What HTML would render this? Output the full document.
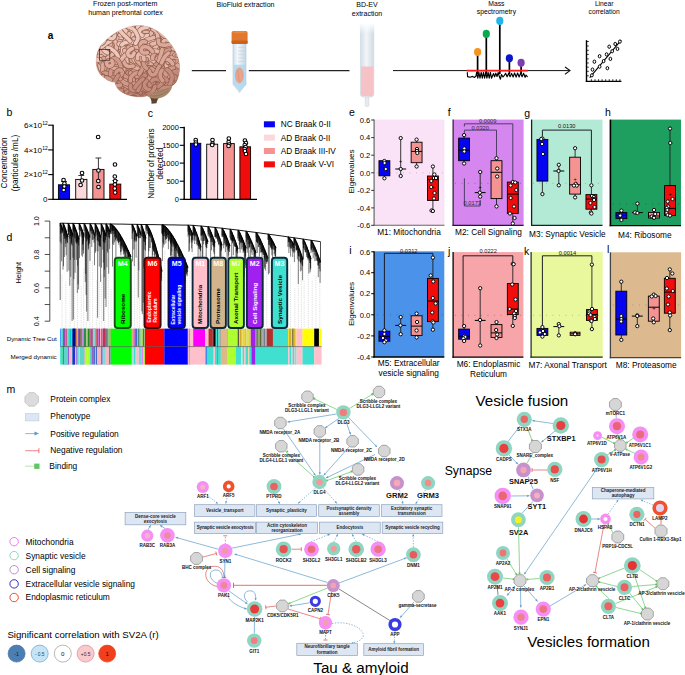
<!DOCTYPE html>
<html><head><meta charset="utf-8"><title>Figure</title>
<style>
html,body{margin:0;padding:0;background:#fff;}
body{width:685px;height:675px;overflow:hidden;font-family:'Liberation Sans', sans-serif;}
svg{display:block;font-family:'Liberation Sans',sans-serif;}
</style></head><body>
<svg width="685" height="675" viewBox="0 0 685 675">
<rect x="0" y="0" width="685" height="675" fill="#ffffff"/>
<text x="125.20" y="5.64" font-size="7.15" text-anchor="middle" font-weight="normal" fill="#000" >Frozen post-mortem</text>
<text x="125.50" y="15.40" font-size="7.05" text-anchor="middle" font-weight="normal" fill="#000" >human prefrontal cortex</text>
<text x="245.50" y="7.10" font-size="7.05" text-anchor="middle" font-weight="normal" fill="#000" >BioFluid extraction</text>
<text x="367.00" y="6.60" font-size="7.05" text-anchor="middle" font-weight="normal" fill="#000" >BD-EV</text>
<text x="367.00" y="15.60" font-size="7.05" text-anchor="middle" font-weight="normal" fill="#000" >extraction</text>
<text x="496.40" y="5.81" font-size="6.8" text-anchor="middle" font-weight="normal" fill="#000" >Mass</text>
<text x="496.40" y="14.01" font-size="6.8" text-anchor="middle" font-weight="normal" fill="#000" >spectrometry</text>
<text x="604.20" y="6.28" font-size="6.7" text-anchor="middle" font-weight="normal" fill="#000" >Linear</text>
<text x="604.20" y="14.48" font-size="6.7" text-anchor="middle" font-weight="normal" fill="#000" >correlation</text>
<text x="50.50" y="39.05" font-size="10" text-anchor="middle" font-weight="bold" fill="#000" >a</text>
<defs>
<radialGradient id="brg" cx="0.45" cy="0.35" r="0.75"><stop offset="0" stop-color="#e6bcad"/><stop offset="0.6" stop-color="#d5a393"/><stop offset="1" stop-color="#b57f6d"/></radialGradient>
<linearGradient id="tubeg" x1="0" x2="1"><stop offset="0" stop-color="#cfdde8"/><stop offset="0.35" stop-color="#f4f8fb"/><stop offset="1" stop-color="#c4d4e2"/></linearGradient>
<linearGradient id="colg" x1="0" x2="1"><stop offset="0" stop-color="#dcdcdc"/><stop offset="0.4" stop-color="#f7f7f7"/><stop offset="1" stop-color="#d2d2d2"/></linearGradient>
</defs>
<path d="M147,93 C150,97 152,100 151.5,103.8 L156.5,103.2 C157,100 159,97 162,94.5 Z" fill="#5e4430" stroke="none" stroke-width="1" />
<path d="M143.5,91 C146,98.5 156,101 165,96 C171,92 173.5,86.5 172,81 Z" fill="#a98669" stroke="none" stroke-width="1" />
<path d="M146,94 C152,97.5 160,96.5 168,91" fill="none" stroke="#8a6a50" stroke-width="0.6" />
<path d="M145,91.5 C152,94.5 161,93 170,87" fill="none" stroke="#8a6a50" stroke-width="0.5" />
<clipPath id="bclip"><path d="M96.2,62.6 C96.2,57 97,53 98.3,50 C100,46 102.5,43 106,40.2 C110,36.5 114.5,33 120,30.4 C126,27.5 132,25.6 138.3,25.5 C144.5,25.5 150,27 155,29.7 C160,32.3 164.3,36 167.7,40.2 C171.3,44.5 174,48.5 176,52.8 C178,57.3 179.5,62 179.6,66.8 C179.7,72.5 178.5,78 176,82.3 C173.5,86 168,88.5 160,89 C155,94 147,97 138,96.8 C130,96.6 122.5,93.5 118.6,89.6 C116.5,87.3 115.4,85 115.1,82.3 C111,82 107.5,80.5 104.6,78 C101.5,76 99.5,73.8 98.3,71 C97,68.3 96.3,65.5 96.2,62.6 Z"/></clipPath>
<filter id="bblur" x="-5%" y="-5%" width="110%" height="110%"><feGaussianBlur stdDeviation="0.35"/></filter>
<path d="M96.2,62.6 C96.2,57 97,53 98.3,50 C100,46 102.5,43 106,40.2 C110,36.5 114.5,33 120,30.4 C126,27.5 132,25.6 138.3,25.5 C144.5,25.5 150,27 155,29.7 C160,32.3 164.3,36 167.7,40.2 C171.3,44.5 174,48.5 176,52.8 C178,57.3 179.5,62 179.6,66.8 C179.7,72.5 178.5,78 176,82.3 C173.5,86 168,88.5 160,89 C155,94 147,97 138,96.8 C130,96.6 122.5,93.5 118.6,89.6 C116.5,87.3 115.4,85 115.1,82.3 C111,82 107.5,80.5 104.6,78 C101.5,76 99.5,73.8 98.3,71 C97,68.3 96.3,65.5 96.2,62.6 Z" fill="url(#brg)" stroke="#cfa090" stroke-width="0.5" />
<g clip-path="url(#bclip)">
<ellipse cx="140" cy="104" rx="48" ry="17" fill="#a8705f" opacity="0.32"/>
<ellipse cx="176" cy="70" rx="8" ry="24" fill="#a8705f" opacity="0.22"/>
<ellipse cx="128" cy="38" rx="30" ry="9" fill="#f4d8ce" opacity="0.5"/>
<style>.wa{stroke:#935c4d;stroke-width:4.9}.w0{stroke:#ecc9bd;stroke-width:3.6}.w1{stroke:#e4b9ab;stroke-width:3.6}.w2{stroke:#dba999;stroke-width:3.6}.w3{stroke:#cf9a89;stroke-width:3.6}.w4{stroke:#c48c7b;stroke-width:3.6}</style>
<g filter="url(#bblur)" fill="none" stroke-linecap="round" stroke-linejoin="round">
<path class="wa" d="M109.2,76.0Q108.3,73.2 108.4,71.7Q108.6,70.2 109.8,69.3Q111.0,68.4 112.5,68.2Q113.9,68.0 115.3,68.6L116.7,69.2"/><path class="w3" d="M109.2,76.0Q108.3,73.2 108.4,71.7Q108.6,70.2 109.8,69.3Q111.0,68.4 112.5,68.2Q113.9,68.0 115.3,68.6L116.7,69.2"/>
<path class="wa" d="M96.2,94.0Q93.4,95.2 92.0,95.4Q90.5,95.6 89.0,95.6Q87.5,95.6 86.3,94.7Q85.1,93.8 85.0,92.3L84.9,90.8"/><path class="w3" d="M96.2,94.0Q93.4,95.2 92.0,95.4Q90.5,95.6 89.0,95.6Q87.5,95.6 86.3,94.7Q85.1,93.8 85.0,92.3L84.9,90.8"/>
<path class="wa" d="M133.0,95.8Q131.0,93.6 130.6,92.1Q130.2,90.7 130.0,89.2Q129.8,87.7 130.3,86.3Q130.7,84.9 131.3,83.5Q131.9,82.1 133.1,81.2Q134.3,80.3 135.8,79.9Q137.2,79.6 138.7,80.0Q140.1,80.4 141.3,81.2L142.6,82.1"/><path class="w4" d="M133.0,95.8Q131.0,93.6 130.6,92.1Q130.2,90.7 130.0,89.2Q129.8,87.7 130.3,86.3Q130.7,84.9 131.3,83.5Q131.9,82.1 133.1,81.2Q134.3,80.3 135.8,79.9Q137.2,79.6 138.7,80.0Q140.1,80.4 141.3,81.2L142.6,82.1"/>
<path class="wa" d="M111.1,27.7Q111.7,24.8 112.0,23.3Q112.2,21.9 112.8,20.5Q113.4,19.1 114.6,18.2Q115.8,17.3 117.3,17.5L118.8,17.6"/><path class="w0" d="M111.1,27.7Q111.7,24.8 112.0,23.3Q112.2,21.9 112.8,20.5Q113.4,19.1 114.6,18.2Q115.8,17.3 117.3,17.5L118.8,17.6"/>
<path class="wa" d="M157.8,34.1Q154.8,34.1 153.3,34.3Q151.8,34.5 150.4,35.0Q148.9,35.4 147.7,36.3Q146.5,37.2 145.2,37.9L143.9,38.7"/><path class="w0" d="M157.8,34.1Q154.8,34.1 153.3,34.3Q151.8,34.5 150.4,35.0Q148.9,35.4 147.7,36.3Q146.5,37.2 145.2,37.9L143.9,38.7"/>
<path class="wa" d="M122.3,60.8Q120.7,63.3 119.2,63.4Q117.7,63.4 116.7,62.3Q115.8,61.1 116.2,59.6Q116.6,58.2 118.0,57.7L119.4,57.1"/><path class="w2" d="M122.3,60.8Q120.7,63.3 119.2,63.4Q117.7,63.4 116.7,62.3Q115.8,61.1 116.2,59.6Q116.6,58.2 118.0,57.7L119.4,57.1"/>
<path class="wa" d="M114.1,70.1Q111.6,68.3 110.8,67.1Q110.0,65.8 110.2,64.3Q110.3,62.8 111.2,61.6Q112.1,60.4 113.6,60.1L115.0,59.9"/><path class="w3" d="M114.1,70.1Q111.6,68.3 110.8,67.1Q110.0,65.8 110.2,64.3Q110.3,62.8 111.2,61.6Q112.1,60.4 113.6,60.1L115.0,59.9"/>
<path class="wa" d="M116.1,37.5Q118.0,35.2 118.7,33.8Q119.3,32.4 119.8,31.0Q120.4,29.6 121.2,28.4Q122.1,27.2 123.6,26.8Q125.0,26.5 126.4,27.0Q127.9,27.5 128.2,29.0L128.6,30.4"/><path class="w1" d="M116.1,37.5Q118.0,35.2 118.7,33.8Q119.3,32.4 119.8,31.0Q120.4,29.6 121.2,28.4Q122.1,27.2 123.6,26.8Q125.0,26.5 126.4,27.0Q127.9,27.5 128.2,29.0L128.6,30.4"/>
<path class="wa" d="M145.8,90.4Q142.9,89.7 141.4,89.3Q140.0,88.9 138.6,88.3Q137.2,87.8 135.8,87.1Q134.5,86.5 133.1,85.9L131.7,85.3"/><path class="w4" d="M145.8,90.4Q142.9,89.7 141.4,89.3Q140.0,88.9 138.6,88.3Q137.2,87.8 135.8,87.1Q134.5,86.5 133.1,85.9L131.7,85.3"/>
<path class="wa" d="M99.9,46.3Q101.9,44.1 102.6,42.7Q103.3,41.4 103.2,39.9Q103.0,38.4 101.8,37.5L100.7,36.5"/><path class="w1" d="M99.9,46.3Q101.9,44.1 102.6,42.7Q103.3,41.4 103.2,39.9Q103.0,38.4 101.8,37.5L100.7,36.5"/>
<path class="wa" d="M179.6,80.2Q176.7,81.2 175.3,81.7Q173.9,82.1 172.8,83.1Q171.7,84.2 171.5,85.6Q171.3,87.1 171.6,88.6Q171.9,90.1 172.4,91.5Q172.9,92.9 173.0,94.4Q173.2,95.9 172.9,97.3Q172.5,98.8 171.8,100.1L171.1,101.4"/><path class="w4" d="M179.6,80.2Q176.7,81.2 175.3,81.7Q173.9,82.1 172.8,83.1Q171.7,84.2 171.5,85.6Q171.3,87.1 171.6,88.6Q171.9,90.1 172.4,91.5Q172.9,92.9 173.0,94.4Q173.2,95.9 172.9,97.3Q172.5,98.8 171.8,100.1L171.1,101.4"/>
<path class="wa" d="M168.0,47.8Q165.3,49.0 164.4,50.2Q163.5,51.4 162.6,52.6Q161.8,53.9 161.6,55.4Q161.4,56.8 161.9,58.3Q162.3,59.7 163.2,61.0Q164.0,62.2 164.8,63.5Q165.6,64.8 166.2,66.1Q166.9,67.5 167.7,68.7L168.4,70.0"/><path class="w1" d="M168.0,47.8Q165.3,49.0 164.4,50.2Q163.5,51.4 162.6,52.6Q161.8,53.9 161.6,55.4Q161.4,56.8 161.9,58.3Q162.3,59.7 163.2,61.0Q164.0,62.2 164.8,63.5Q165.6,64.8 166.2,66.1Q166.9,67.5 167.7,68.7L168.4,70.0"/>
<path class="wa" d="M177.4,92.0Q180.4,92.6 181.8,92.1Q183.2,91.6 184.5,90.8Q185.7,90.0 186.2,88.5L186.7,87.1"/><path class="w4" d="M177.4,92.0Q180.4,92.6 181.8,92.1Q183.2,91.6 184.5,90.8Q185.7,90.0 186.2,88.5L186.7,87.1"/>
<path class="wa" d="M119.2,47.5Q122.0,46.5 123.2,45.6Q124.5,44.7 125.7,43.9Q127.0,43.1 128.0,42.1Q129.1,41.0 130.2,39.9L131.2,38.9"/><path class="w1" d="M119.2,47.5Q122.0,46.5 123.2,45.6Q124.5,44.7 125.7,43.9Q127.0,43.1 128.0,42.1Q129.1,41.0 130.2,39.9L131.2,38.9"/>
<path class="wa" d="M146.9,62.4Q145.4,59.8 144.5,58.6Q143.5,57.5 142.3,56.6Q141.0,55.8 139.6,55.2L138.3,54.6"/><path class="w3" d="M146.9,62.4Q145.4,59.8 144.5,58.6Q143.5,57.5 142.3,56.6Q141.0,55.8 139.6,55.2L138.3,54.6"/>
<path class="wa" d="M115.1,96.3Q112.9,94.2 111.8,93.2Q110.7,92.2 109.9,90.9Q109.2,89.6 108.6,88.2Q108.0,86.9 107.6,85.4L107.2,84.0"/><path class="w4" d="M115.1,96.3Q112.9,94.2 111.8,93.2Q110.7,92.2 109.9,90.9Q109.2,89.6 108.6,88.2Q108.0,86.9 107.6,85.4L107.2,84.0"/>
<path class="wa" d="M176.5,32.3Q173.9,30.9 172.5,30.4Q171.1,29.9 169.6,29.8Q168.1,29.8 166.6,30.1Q165.1,30.3 163.6,30.6Q162.2,30.8 160.8,31.5Q159.4,32.1 158.2,32.9Q156.9,33.7 156.0,34.9Q155.0,36.0 154.9,37.5L154.7,39.0"/><path class="w0" d="M176.5,32.3Q173.9,30.9 172.5,30.4Q171.1,29.9 169.6,29.8Q168.1,29.8 166.6,30.1Q165.1,30.3 163.6,30.6Q162.2,30.8 160.8,31.5Q159.4,32.1 158.2,32.9Q156.9,33.7 156.0,34.9Q155.0,36.0 154.9,37.5L154.7,39.0"/>
<path class="wa" d="M151.6,56.1Q154.3,54.9 155.8,55.3Q157.2,55.6 158.2,56.8Q159.2,57.9 159.2,59.4Q159.2,60.9 158.8,62.3Q158.4,63.8 157.5,64.9Q156.5,66.1 155.2,66.8Q153.9,67.6 152.4,67.8Q150.9,68.0 149.4,67.8L148.0,67.5"/><path class="w2" d="M151.6,56.1Q154.3,54.9 155.8,55.3Q157.2,55.6 158.2,56.8Q159.2,57.9 159.2,59.4Q159.2,60.9 158.8,62.3Q158.4,63.8 157.5,64.9Q156.5,66.1 155.2,66.8Q153.9,67.6 152.4,67.8Q150.9,68.0 149.4,67.8L148.0,67.5"/>
<path class="wa" d="M114.4,28.6Q111.9,30.2 110.8,31.3Q109.8,32.4 109.1,33.7Q108.4,35.0 107.7,36.4Q107.1,37.7 106.6,39.1Q106.1,40.6 106.1,42.1Q106.0,43.6 106.7,44.9Q107.4,46.2 108.2,47.5Q109.1,48.7 110.0,49.9L110.9,51.1"/><path class="w0" d="M114.4,28.6Q111.9,30.2 110.8,31.3Q109.8,32.4 109.1,33.7Q108.4,35.0 107.7,36.4Q107.1,37.7 106.6,39.1Q106.1,40.6 106.1,42.1Q106.0,43.6 106.7,44.9Q107.4,46.2 108.2,47.5Q109.1,48.7 110.0,49.9L110.9,51.1"/>
<path class="wa" d="M109.9,52.6Q107.3,51.1 106.0,50.3Q104.8,49.4 103.8,48.3Q102.8,47.2 102.6,45.7Q102.3,44.2 103.2,43.0Q104.0,41.7 105.5,41.6Q107.0,41.5 108.2,42.3L109.5,43.2"/><path class="w1" d="M109.9,52.6Q107.3,51.1 106.0,50.3Q104.8,49.4 103.8,48.3Q102.8,47.2 102.6,45.7Q102.3,44.2 103.2,43.0Q104.0,41.7 105.5,41.6Q107.0,41.5 108.2,42.3L109.5,43.2"/>
<path class="wa" d="M128.2,70.5Q129.8,68.0 130.5,66.6Q131.1,65.3 131.9,64.0Q132.8,62.8 134.1,62.0L135.3,61.1"/><path class="w2" d="M128.2,70.5Q129.8,68.0 130.5,66.6Q131.1,65.3 131.9,64.0Q132.8,62.8 134.1,62.0L135.3,61.1"/>
<path class="wa" d="M110.1,63.7Q107.6,61.9 106.1,61.8Q104.6,61.6 103.1,61.6Q101.6,61.6 100.1,61.4Q98.7,61.2 97.2,61.3Q95.7,61.4 94.3,61.9Q92.9,62.5 91.6,63.2Q90.3,64.0 89.1,64.9Q87.8,65.7 86.8,66.8L85.8,67.9"/><path class="w2" d="M110.1,63.7Q107.6,61.9 106.1,61.8Q104.6,61.6 103.1,61.6Q101.6,61.6 100.1,61.4Q98.7,61.2 97.2,61.3Q95.7,61.4 94.3,61.9Q92.9,62.5 91.6,63.2Q90.3,64.0 89.1,64.9Q87.8,65.7 86.8,66.8L85.8,67.9"/>
<path class="wa" d="M122.7,43.8Q123.6,40.9 123.2,39.5Q122.8,38.0 122.0,36.8Q121.1,35.6 120.0,34.5Q119.0,33.5 117.5,33.1Q116.1,32.6 114.6,33.1Q113.2,33.5 112.3,34.7Q111.5,36.0 111.6,37.5Q111.8,39.0 112.7,40.1L113.6,41.3"/><path class="w1" d="M122.7,43.8Q123.6,40.9 123.2,39.5Q122.8,38.0 122.0,36.8Q121.1,35.6 120.0,34.5Q119.0,33.5 117.5,33.1Q116.1,32.6 114.6,33.1Q113.2,33.5 112.3,34.7Q111.5,36.0 111.6,37.5Q111.8,39.0 112.7,40.1L113.6,41.3"/>
<path class="wa" d="M152.4,71.0Q154.8,72.8 155.8,74.0Q156.7,75.2 156.6,76.7Q156.6,78.2 155.4,79.1Q154.3,80.0 152.8,80.4L151.3,80.8"/><path class="w3" d="M152.4,71.0Q154.8,72.8 155.8,74.0Q156.7,75.2 156.6,76.7Q156.6,78.2 155.4,79.1Q154.3,80.0 152.8,80.4L151.3,80.8"/>
<path class="wa" d="M98.4,70.0Q97.9,67.0 97.5,65.6Q97.0,64.1 97.0,62.7Q97.0,61.2 96.9,59.7L96.9,58.2"/><path class="w2" d="M98.4,70.0Q97.9,67.0 97.5,65.6Q97.0,64.1 97.0,62.7Q97.0,61.2 96.9,59.7L96.9,58.2"/>
<path class="wa" d="M95.3,37.3Q93.3,35.1 92.3,34.0Q91.2,32.8 90.0,32.1Q88.7,31.3 87.2,31.0Q85.7,30.8 84.2,31.0Q82.8,31.3 81.7,32.3Q80.5,33.3 79.8,34.6L79.0,35.9"/><path class="w0" d="M95.3,37.3Q93.3,35.1 92.3,34.0Q91.2,32.8 90.0,32.1Q88.7,31.3 87.2,31.0Q85.7,30.8 84.2,31.0Q82.8,31.3 81.7,32.3Q80.5,33.3 79.8,34.6L79.0,35.9"/>
<path class="wa" d="M174.6,90.4Q177.5,90.8 178.9,91.4Q180.3,92.0 180.8,93.4Q181.3,94.8 180.6,96.1L179.8,97.4"/><path class="w4" d="M174.6,90.4Q177.5,90.8 178.9,91.4Q180.3,92.0 180.8,93.4Q181.3,94.8 180.6,96.1L179.8,97.4"/>
<path class="wa" d="M137.8,64.0Q135.1,62.6 133.9,61.7Q132.6,60.9 131.3,60.1Q130.0,59.4 128.6,59.0Q127.2,58.5 125.7,58.7Q124.2,58.9 122.8,59.5Q121.4,60.1 120.0,60.6Q118.6,61.1 117.4,62.0Q116.2,63.0 116.0,64.4L115.7,65.9"/><path class="w2" d="M137.8,64.0Q135.1,62.6 133.9,61.7Q132.6,60.9 131.3,60.1Q130.0,59.4 128.6,59.0Q127.2,58.5 125.7,58.7Q124.2,58.9 122.8,59.5Q121.4,60.1 120.0,60.6Q118.6,61.1 117.4,62.0Q116.2,63.0 116.0,64.4L115.7,65.9"/>
<path class="wa" d="M153.3,39.0Q153.9,42.0 154.9,43.1Q155.9,44.2 157.1,45.1Q158.4,45.9 159.8,46.3L161.3,46.6"/><path class="w0" d="M153.3,39.0Q153.9,42.0 154.9,43.1Q155.9,44.2 157.1,45.1Q158.4,45.9 159.8,46.3L161.3,46.6"/>
<path class="wa" d="M115.0,51.5Q115.2,54.5 115.4,56.0Q115.5,57.5 116.3,58.8Q117.0,60.1 118.0,61.3Q118.9,62.5 120.2,63.2L121.5,64.0"/><path class="w0" d="M115.0,51.5Q115.2,54.5 115.4,56.0Q115.5,57.5 116.3,58.8Q117.0,60.1 118.0,61.3Q118.9,62.5 120.2,63.2L121.5,64.0"/>
<path class="wa" d="M125.3,64.4Q122.5,63.3 121.0,63.3Q119.5,63.4 118.0,63.6Q116.6,63.8 115.1,64.2Q113.7,64.7 112.7,65.8Q111.8,67.0 111.9,68.5Q112.1,70.0 113.4,70.7Q114.7,71.5 116.1,71.1Q117.6,70.7 118.5,69.5L119.4,68.3"/><path class="w2" d="M125.3,64.4Q122.5,63.3 121.0,63.3Q119.5,63.4 118.0,63.6Q116.6,63.8 115.1,64.2Q113.7,64.7 112.7,65.8Q111.8,67.0 111.9,68.5Q112.1,70.0 113.4,70.7Q114.7,71.5 116.1,71.1Q117.6,70.7 118.5,69.5L119.4,68.3"/>
<path class="wa" d="M146.9,33.3Q145.4,35.9 144.3,36.8Q143.1,37.7 141.9,38.7Q140.8,39.7 139.8,40.8Q138.9,42.0 138.0,43.2Q137.2,44.4 136.3,45.6Q135.4,46.9 134.2,47.8L133.0,48.7"/><path class="w0" d="M146.9,33.3Q145.4,35.9 144.3,36.8Q143.1,37.7 141.9,38.7Q140.8,39.7 139.8,40.8Q138.9,42.0 138.0,43.2Q137.2,44.4 136.3,45.6Q135.4,46.9 134.2,47.8L133.0,48.7"/>
<path class="wa" d="M108.9,93.9Q106.0,92.9 104.7,92.3Q103.3,91.7 101.9,91.1Q100.5,90.6 99.0,90.3Q97.6,89.9 96.2,89.4L94.8,89.0"/><path class="w4" d="M108.9,93.9Q106.0,92.9 104.7,92.3Q103.3,91.7 101.9,91.1Q100.5,90.6 99.0,90.3Q97.6,89.9 96.2,89.4L94.8,89.0"/>
<path class="wa" d="M173.3,42.8Q171.1,40.7 170.1,39.6Q169.0,38.5 167.7,37.8Q166.4,37.1 164.9,37.4Q163.5,37.8 162.7,39.1Q162.0,40.4 162.2,41.8Q162.5,43.3 163.9,43.9Q165.3,44.5 166.7,44.0Q168.1,43.4 168.4,42.0L168.8,40.5"/><path class="w1" d="M173.3,42.8Q171.1,40.7 170.1,39.6Q169.0,38.5 167.7,37.8Q166.4,37.1 164.9,37.4Q163.5,37.8 162.7,39.1Q162.0,40.4 162.2,41.8Q162.5,43.3 163.9,43.9Q165.3,44.5 166.7,44.0Q168.1,43.4 168.4,42.0L168.8,40.5"/>
<path class="wa" d="M174.8,63.7Q176.5,61.3 177.2,59.9Q177.9,58.6 178.5,57.2Q179.1,55.9 179.7,54.5L180.2,53.0"/><path class="w3" d="M174.8,63.7Q176.5,61.3 177.2,59.9Q177.9,58.6 178.5,57.2Q179.1,55.9 179.7,54.5L180.2,53.0"/>
<path class="wa" d="M111.4,40.7Q111.8,43.7 111.9,45.2Q111.9,46.7 111.9,48.2Q111.8,49.7 111.6,51.2Q111.4,52.6 111.7,54.1L112.1,55.6"/><path class="w1" d="M111.4,40.7Q111.8,43.7 111.9,45.2Q111.9,46.7 111.9,48.2Q111.8,49.7 111.6,51.2Q111.4,52.6 111.7,54.1L112.1,55.6"/>
<path class="wa" d="M145.4,84.4Q145.5,81.4 145.5,79.9Q145.5,78.4 144.9,77.0Q144.3,75.7 143.3,74.6Q142.3,73.4 141.0,72.6L139.8,71.7"/><path class="w4" d="M145.4,84.4Q145.5,81.4 145.5,79.9Q145.5,78.4 144.9,77.0Q144.3,75.7 143.3,74.6Q142.3,73.4 141.0,72.6L139.8,71.7"/>
<path class="wa" d="M180.8,39.6Q180.1,42.5 179.9,44.0Q179.6,45.5 179.0,46.8Q178.3,48.1 177.6,49.5Q176.9,50.8 176.5,52.2Q176.0,53.7 176.0,55.2Q176.0,56.7 176.4,58.1L176.7,59.6"/><path class="w1" d="M180.8,39.6Q180.1,42.5 179.9,44.0Q179.6,45.5 179.0,46.8Q178.3,48.1 177.6,49.5Q176.9,50.8 176.5,52.2Q176.0,53.7 176.0,55.2Q176.0,56.7 176.4,58.1L176.7,59.6"/>
<path class="wa" d="M156.8,30.2Q158.3,32.8 159.5,33.8Q160.6,34.7 161.8,35.6Q163.0,36.5 163.9,37.8Q164.7,39.0 165.5,40.3Q166.3,41.6 166.6,43.0Q166.9,44.5 166.2,45.8Q165.4,47.1 164.3,48.1Q163.1,49.1 161.9,49.8L160.6,50.6"/><path class="w0" d="M156.8,30.2Q158.3,32.8 159.5,33.8Q160.6,34.7 161.8,35.6Q163.0,36.5 163.9,37.8Q164.7,39.0 165.5,40.3Q166.3,41.6 166.6,43.0Q166.9,44.5 166.2,45.8Q165.4,47.1 164.3,48.1Q163.1,49.1 161.9,49.8L160.6,50.6"/>
<path class="wa" d="M107.6,86.5Q106.4,89.3 105.5,90.4Q104.5,91.6 103.6,92.8Q102.6,93.9 101.5,94.9Q100.3,95.8 98.9,96.5Q97.6,97.1 96.4,98.0L95.2,98.9"/><path class="w4" d="M107.6,86.5Q106.4,89.3 105.5,90.4Q104.5,91.6 103.6,92.8Q102.6,93.9 101.5,94.9Q100.3,95.8 98.9,96.5Q97.6,97.1 96.4,98.0L95.2,98.9"/>
<path class="wa" d="M174.2,63.7Q177.2,63.6 178.7,63.7Q180.2,63.7 181.7,63.8Q183.2,63.9 184.7,63.5Q186.1,63.2 187.6,62.8Q189.0,62.4 190.5,62.3L192.0,62.1"/><path class="w2" d="M174.2,63.7Q177.2,63.6 178.7,63.7Q180.2,63.7 181.7,63.8Q183.2,63.9 184.7,63.5Q186.1,63.2 187.6,62.8Q189.0,62.4 190.5,62.3L192.0,62.1"/>
<path class="wa" d="M157.3,69.0Q154.6,70.4 153.3,71.0Q152.0,71.7 150.5,72.2Q149.1,72.6 147.7,73.1Q146.3,73.6 144.9,74.2Q143.5,74.8 142.1,75.3Q140.7,75.8 139.2,76.0Q137.7,76.2 136.2,76.1L134.7,76.0"/><path class="w3" d="M157.3,69.0Q154.6,70.4 153.3,71.0Q152.0,71.7 150.5,72.2Q149.1,72.6 147.7,73.1Q146.3,73.6 144.9,74.2Q143.5,74.8 142.1,75.3Q140.7,75.8 139.2,76.0Q137.7,76.2 136.2,76.1L134.7,76.0"/>
<path class="wa" d="M114.2,83.4Q116.8,85.0 117.2,86.4Q117.7,87.9 116.8,89.1Q115.9,90.3 114.4,90.3Q112.9,90.3 111.9,89.2Q110.9,88.1 110.5,86.6Q110.1,85.2 109.9,83.7L109.6,82.2"/><path class="w3" d="M114.2,83.4Q116.8,85.0 117.2,86.4Q117.7,87.9 116.8,89.1Q115.9,90.3 114.4,90.3Q112.9,90.3 111.9,89.2Q110.9,88.1 110.5,86.6Q110.1,85.2 109.9,83.7L109.6,82.2"/>
<path class="wa" d="M154.5,47.1Q157.1,45.5 158.1,44.4Q159.1,43.3 160.2,42.3Q161.3,41.3 162.2,40.1Q163.1,38.9 163.3,37.4L163.5,35.9"/><path class="w1" d="M154.5,47.1Q157.1,45.5 158.1,44.4Q159.1,43.3 160.2,42.3Q161.3,41.3 162.2,40.1Q163.1,38.9 163.3,37.4L163.5,35.9"/>
<path class="wa" d="M104.9,55.0Q103.6,52.3 102.1,52.1Q100.6,51.8 99.4,52.6Q98.1,53.4 97.9,54.9Q97.8,56.4 98.9,57.4Q100.0,58.4 101.5,58.2Q102.9,57.9 103.6,56.5Q104.2,55.2 103.8,53.7Q103.4,52.3 102.6,51.0L101.9,49.7"/><path class="w1" d="M104.9,55.0Q103.6,52.3 102.1,52.1Q100.6,51.8 99.4,52.6Q98.1,53.4 97.9,54.9Q97.8,56.4 98.9,57.4Q100.0,58.4 101.5,58.2Q102.9,57.9 103.6,56.5Q104.2,55.2 103.8,53.7Q103.4,52.3 102.6,51.0L101.9,49.7"/>
<path class="wa" d="M164.9,54.6Q167.9,54.3 169.3,54.7Q170.7,55.1 172.2,55.6Q173.6,56.0 175.1,56.4Q176.5,56.8 177.7,57.6Q179.0,58.5 179.5,59.8Q180.1,61.2 179.7,62.7Q179.3,64.1 178.5,65.3Q177.6,66.6 176.1,66.8L174.6,67.1"/><path class="w1" d="M164.9,54.6Q167.9,54.3 169.3,54.7Q170.7,55.1 172.2,55.6Q173.6,56.0 175.1,56.4Q176.5,56.8 177.7,57.6Q179.0,58.5 179.5,59.8Q180.1,61.2 179.7,62.7Q179.3,64.1 178.5,65.3Q177.6,66.6 176.1,66.8L174.6,67.1"/>
<path class="wa" d="M178.0,82.4Q176.9,79.6 176.0,78.4Q175.2,77.2 174.0,76.3Q172.8,75.4 171.3,75.1Q169.8,74.9 168.3,74.9L166.8,74.8"/><path class="w4" d="M178.0,82.4Q176.9,79.6 176.0,78.4Q175.2,77.2 174.0,76.3Q172.8,75.4 171.3,75.1Q169.8,74.9 168.3,74.9L166.8,74.8"/>
<path class="wa" d="M104.9,68.3Q102.2,67.0 101.0,66.1Q99.8,65.2 98.6,64.3Q97.4,63.4 96.0,62.9Q94.6,62.4 93.1,62.1L91.6,61.9"/><path class="w2" d="M104.9,68.3Q102.2,67.0 101.0,66.1Q99.8,65.2 98.6,64.3Q97.4,63.4 96.0,62.9Q94.6,62.4 93.1,62.1L91.6,61.9"/>
<path class="wa" d="M114.9,52.7Q115.8,49.8 116.3,48.4Q116.7,47.0 116.8,45.5Q116.9,44.0 117.1,42.5Q117.3,41.0 118.0,39.6Q118.6,38.3 119.1,36.9Q119.6,35.5 120.1,34.0Q120.6,32.6 121.2,31.3Q121.9,29.9 122.6,28.6L123.3,27.3"/><path class="w1" d="M114.9,52.7Q115.8,49.8 116.3,48.4Q116.7,47.0 116.8,45.5Q116.9,44.0 117.1,42.5Q117.3,41.0 118.0,39.6Q118.6,38.3 119.1,36.9Q119.6,35.5 120.1,34.0Q120.6,32.6 121.2,31.3Q121.9,29.9 122.6,28.6L123.3,27.3"/>
<path class="wa" d="M96.6,62.2Q98.0,64.9 98.7,66.2Q99.5,67.5 100.2,68.8Q100.8,70.1 101.7,71.4Q102.6,72.6 103.5,73.8L104.4,75.0"/><path class="w1" d="M96.6,62.2Q98.0,64.9 98.7,66.2Q99.5,67.5 100.2,68.8Q100.8,70.1 101.7,71.4Q102.6,72.6 103.5,73.8L104.4,75.0"/>
<path class="wa" d="M158.3,64.1Q155.9,65.9 154.8,66.9Q153.7,67.9 152.9,69.1Q152.0,70.4 152.0,71.9Q152.0,73.4 152.9,74.6Q153.9,75.8 155.1,76.6Q156.4,77.4 157.7,78.0Q159.1,78.6 160.6,78.6L162.1,78.6"/><path class="w3" d="M158.3,64.1Q155.9,65.9 154.8,66.9Q153.7,67.9 152.9,69.1Q152.0,70.4 152.0,71.9Q152.0,73.4 152.9,74.6Q153.9,75.8 155.1,76.6Q156.4,77.4 157.7,78.0Q159.1,78.6 160.6,78.6L162.1,78.6"/>
<path class="wa" d="M154.9,79.4Q157.5,80.9 158.8,81.6Q160.2,82.2 161.6,82.5Q163.1,82.9 164.5,83.5Q165.8,84.2 167.2,84.7Q168.6,85.2 170.1,85.5Q171.6,85.7 173.1,85.9Q174.6,86.1 176.1,85.8Q177.5,85.6 178.7,84.7L179.9,83.8"/><path class="w4" d="M154.9,79.4Q157.5,80.9 158.8,81.6Q160.2,82.2 161.6,82.5Q163.1,82.9 164.5,83.5Q165.8,84.2 167.2,84.7Q168.6,85.2 170.1,85.5Q171.6,85.7 173.1,85.9Q174.6,86.1 176.1,85.8Q177.5,85.6 178.7,84.7L179.9,83.8"/>
<path class="wa" d="M147.7,80.0Q150.0,78.1 151.4,78.5Q152.9,78.9 153.4,80.3Q154.0,81.7 153.1,82.9Q152.3,84.2 150.8,84.2L149.3,84.3"/><path class="w4" d="M147.7,80.0Q150.0,78.1 151.4,78.5Q152.9,78.9 153.4,80.3Q154.0,81.7 153.1,82.9Q152.3,84.2 150.8,84.2L149.3,84.3"/>
<path class="wa" d="M151.3,56.9Q149.4,54.6 147.9,54.2Q146.5,53.7 145.0,53.9Q143.5,54.0 142.1,54.4Q140.6,54.7 139.5,55.7L138.3,56.7"/><path class="w1" d="M151.3,56.9Q149.4,54.6 147.9,54.2Q146.5,53.7 145.0,53.9Q143.5,54.0 142.1,54.4Q140.6,54.7 139.5,55.7L138.3,56.7"/>
<path class="wa" d="M135.7,30.5Q135.7,33.5 136.4,34.8Q137.1,36.1 138.3,37.1Q139.4,38.1 140.8,38.6Q142.2,39.1 143.7,38.8Q145.2,38.5 146.5,37.8Q147.8,37.1 148.4,35.7Q149.1,34.3 148.5,32.9L148.0,31.5"/><path class="w0" d="M135.7,30.5Q135.7,33.5 136.4,34.8Q137.1,36.1 138.3,37.1Q139.4,38.1 140.8,38.6Q142.2,39.1 143.7,38.8Q145.2,38.5 146.5,37.8Q147.8,37.1 148.4,35.7Q149.1,34.3 148.5,32.9L148.0,31.5"/>
<path class="wa" d="M166.8,97.5Q165.4,100.1 164.3,101.2Q163.3,102.3 162.2,103.3Q161.1,104.3 159.8,105.1Q158.6,105.9 157.1,106.4Q155.7,106.8 154.2,106.7L152.7,106.6"/><path class="w4" d="M166.8,97.5Q165.4,100.1 164.3,101.2Q163.3,102.3 162.2,103.3Q161.1,104.3 159.8,105.1Q158.6,105.9 157.1,106.4Q155.7,106.8 154.2,106.7L152.7,106.6"/>
<path class="wa" d="M108.8,31.8Q107.6,29.1 106.4,28.1Q105.2,27.2 103.9,26.6Q102.5,26.0 101.0,25.8Q99.5,25.7 98.2,26.5Q97.0,27.3 96.9,28.8L96.8,30.3"/><path class="w0" d="M108.8,31.8Q107.6,29.1 106.4,28.1Q105.2,27.2 103.9,26.6Q102.5,26.0 101.0,25.8Q99.5,25.7 98.2,26.5Q97.0,27.3 96.9,28.8L96.8,30.3"/>
<path class="wa" d="M153.7,42.2Q156.6,43.2 158.0,43.4Q159.5,43.6 160.9,42.9Q162.2,42.2 163.4,41.3Q164.6,40.4 165.4,39.1Q166.1,37.8 166.0,36.3Q166.0,34.8 164.8,33.9Q163.6,33.0 162.2,33.4Q160.7,33.8 159.9,35.0L159.0,36.2"/><path class="w1" d="M153.7,42.2Q156.6,43.2 158.0,43.4Q159.5,43.6 160.9,42.9Q162.2,42.2 163.4,41.3Q164.6,40.4 165.4,39.1Q166.1,37.8 166.0,36.3Q166.0,34.8 164.8,33.9Q163.6,33.0 162.2,33.4Q160.7,33.8 159.9,35.0L159.0,36.2"/>
<path class="wa" d="M159.2,79.0Q158.9,82.0 158.2,83.3Q157.6,84.6 156.8,85.9Q156.0,87.2 154.7,87.9Q153.4,88.7 151.9,88.5Q150.4,88.4 149.6,87.1L148.9,85.8"/><path class="w4" d="M159.2,79.0Q158.9,82.0 158.2,83.3Q157.6,84.6 156.8,85.9Q156.0,87.2 154.7,87.9Q153.4,88.7 151.9,88.5Q150.4,88.4 149.6,87.1L148.9,85.8"/>
<path class="wa" d="M156.2,94.1Q155.6,97.0 154.2,97.6Q152.8,98.2 151.5,97.4Q150.2,96.7 149.6,95.3Q148.9,94.0 149.4,92.5Q149.9,91.1 151.2,90.4Q152.5,89.7 153.9,90.3L155.2,91.0"/><path class="w4" d="M156.2,94.1Q155.6,97.0 154.2,97.6Q152.8,98.2 151.5,97.4Q150.2,96.7 149.6,95.3Q148.9,94.0 149.4,92.5Q149.9,91.1 151.2,90.4Q152.5,89.7 153.9,90.3L155.2,91.0"/>
<path class="wa" d="M142.2,33.9Q144.7,32.3 146.2,32.4Q147.7,32.5 148.6,33.7Q149.5,34.9 149.8,36.3L150.2,37.8"/><path class="w1" d="M142.2,33.9Q144.7,32.3 146.2,32.4Q147.7,32.5 148.6,33.7Q149.5,34.9 149.8,36.3L150.2,37.8"/>
<path class="wa" d="M169.9,98.0Q172.2,95.9 172.8,94.6Q173.4,93.2 173.3,91.7Q173.2,90.2 172.4,89.0Q171.5,87.7 170.3,86.8Q169.1,85.9 167.6,85.8Q166.1,85.8 165.0,86.8L163.9,87.7"/><path class="w4" d="M169.9,98.0Q172.2,95.9 172.8,94.6Q173.4,93.2 173.3,91.7Q173.2,90.2 172.4,89.0Q171.5,87.7 170.3,86.8Q169.1,85.9 167.6,85.8Q166.1,85.8 165.0,86.8L163.9,87.7"/>
<path class="wa" d="M114.3,30.1Q116.6,28.1 117.6,27.0Q118.6,25.9 119.7,24.9Q120.9,23.9 122.0,23.0Q123.2,22.0 124.6,21.4Q125.9,20.8 127.3,20.3Q128.8,19.9 130.3,19.6L131.7,19.4"/><path class="w0" d="M114.3,30.1Q116.6,28.1 117.6,27.0Q118.6,25.9 119.7,24.9Q120.9,23.9 122.0,23.0Q123.2,22.0 124.6,21.4Q125.9,20.8 127.3,20.3Q128.8,19.9 130.3,19.6L131.7,19.4"/>
<path class="wa" d="M150.2,90.7Q147.2,90.7 145.8,90.0Q144.5,89.4 143.5,88.2Q142.5,87.1 142.3,85.6Q142.2,84.1 143.2,83.0Q144.2,81.9 145.7,81.6Q147.1,81.3 148.4,82.0Q149.7,82.8 149.8,84.3L150.0,85.8"/><path class="w4" d="M150.2,90.7Q147.2,90.7 145.8,90.0Q144.5,89.4 143.5,88.2Q142.5,87.1 142.3,85.6Q142.2,84.1 143.2,83.0Q144.2,81.9 145.7,81.6Q147.1,81.3 148.4,82.0Q149.7,82.8 149.8,84.3L150.0,85.8"/>
<path class="wa" d="M159.7,71.8Q161.5,69.4 161.7,67.9Q161.9,66.4 162.1,64.9Q162.2,63.4 161.9,62.0Q161.5,60.5 161.2,59.1Q160.9,57.6 160.3,56.2Q159.6,54.9 159.1,53.5Q158.5,52.1 158.1,50.6Q157.6,49.2 157.3,47.7L157.0,46.3"/><path class="w3" d="M159.7,71.8Q161.5,69.4 161.7,67.9Q161.9,66.4 162.1,64.9Q162.2,63.4 161.9,62.0Q161.5,60.5 161.2,59.1Q160.9,57.6 160.3,56.2Q159.6,54.9 159.1,53.5Q158.5,52.1 158.1,50.6Q157.6,49.2 157.3,47.7L157.0,46.3"/>
<path class="wa" d="M138.2,31.4Q137.2,28.6 137.7,27.2Q138.2,25.8 139.0,24.5Q139.9,23.2 141.3,22.8L142.7,22.4"/><path class="w0" d="M138.2,31.4Q137.2,28.6 137.7,27.2Q138.2,25.8 139.0,24.5Q139.9,23.2 141.3,22.8L142.7,22.4"/>
<path class="wa" d="M96.0,81.9Q93.0,81.7 91.5,81.7Q90.0,81.6 88.5,81.7Q87.0,81.8 85.5,81.8Q84.0,81.8 82.5,81.5Q81.0,81.2 79.6,80.8Q78.1,80.5 76.7,79.9Q75.4,79.3 74.1,78.6Q72.7,77.9 71.3,77.6L69.8,77.3"/><path class="w2" d="M96.0,81.9Q93.0,81.7 91.5,81.7Q90.0,81.6 88.5,81.7Q87.0,81.8 85.5,81.8Q84.0,81.8 82.5,81.5Q81.0,81.2 79.6,80.8Q78.1,80.5 76.7,79.9Q75.4,79.3 74.1,78.6Q72.7,77.9 71.3,77.6L69.8,77.3"/>
<path class="wa" d="M127.4,39.6Q127.6,36.6 128.8,35.7Q130.0,34.8 131.5,35.2Q132.9,35.5 133.5,36.9Q134.0,38.3 133.2,39.6Q132.4,40.9 131.0,41.5Q129.7,42.1 128.2,42.2Q126.7,42.2 125.3,41.7Q123.8,41.3 122.5,40.6L121.2,39.9"/><path class="w0" d="M127.4,39.6Q127.6,36.6 128.8,35.7Q130.0,34.8 131.5,35.2Q132.9,35.5 133.5,36.9Q134.0,38.3 133.2,39.6Q132.4,40.9 131.0,41.5Q129.7,42.1 128.2,42.2Q126.7,42.2 125.3,41.7Q123.8,41.3 122.5,40.6L121.2,39.9"/>
<path class="wa" d="M99.9,75.3Q101.9,73.0 102.2,71.5Q102.6,70.1 102.8,68.6Q103.1,67.1 102.7,65.6Q102.4,64.2 101.6,62.9L100.8,61.6"/><path class="w2" d="M99.9,75.3Q101.9,73.0 102.2,71.5Q102.6,70.1 102.8,68.6Q103.1,67.1 102.7,65.6Q102.4,64.2 101.6,62.9L100.8,61.6"/>
<path class="wa" d="M140.3,93.0Q137.7,91.4 136.4,90.8Q135.0,90.2 133.8,89.3Q132.6,88.4 131.7,87.2L130.7,86.0"/><path class="w4" d="M140.3,93.0Q137.7,91.4 136.4,90.8Q135.0,90.2 133.8,89.3Q132.6,88.4 131.7,87.2L130.7,86.0"/>
<path class="wa" d="M129.1,85.7Q127.4,88.2 127.0,89.6Q126.6,91.1 126.9,92.6Q127.1,94.0 127.8,95.3Q128.6,96.7 129.9,97.3L131.3,97.9"/><path class="w4" d="M129.1,85.7Q127.4,88.2 127.0,89.6Q126.6,91.1 126.9,92.6Q127.1,94.0 127.8,95.3Q128.6,96.7 129.9,97.3L131.3,97.9"/>
<path class="wa" d="M128.0,33.7Q125.9,31.5 125.2,30.2Q124.4,28.9 123.4,27.8Q122.4,26.7 121.6,25.4Q120.8,24.2 120.8,22.7L120.7,21.2"/><path class="w0" d="M128.0,33.7Q125.9,31.5 125.2,30.2Q124.4,28.9 123.4,27.8Q122.4,26.7 121.6,25.4Q120.8,24.2 120.8,22.7L120.7,21.2"/>
<path class="wa" d="M129.5,79.0Q129.4,82.0 129.2,83.5Q129.0,85.0 128.1,86.2Q127.2,87.4 125.8,88.0Q124.4,88.5 123.0,88.7Q121.5,88.9 120.0,88.8Q118.5,88.6 117.0,88.6L115.5,88.6"/><path class="w4" d="M129.5,79.0Q129.4,82.0 129.2,83.5Q129.0,85.0 128.1,86.2Q127.2,87.4 125.8,88.0Q124.4,88.5 123.0,88.7Q121.5,88.9 120.0,88.8Q118.5,88.6 117.0,88.6L115.5,88.6"/>
<path class="wa" d="M134.2,55.5Q131.2,55.4 130.0,54.5Q128.8,53.7 128.2,52.3Q127.5,50.9 127.9,49.5Q128.2,48.0 128.9,46.7Q129.5,45.3 130.8,44.5L132.0,43.6"/><path class="w2" d="M134.2,55.5Q131.2,55.4 130.0,54.5Q128.8,53.7 128.2,52.3Q127.5,50.9 127.9,49.5Q128.2,48.0 128.9,46.7Q129.5,45.3 130.8,44.5L132.0,43.6"/>
<path class="wa" d="M117.8,59.9Q117.3,62.9 116.5,64.2Q115.7,65.4 114.3,65.9Q112.9,66.5 111.4,66.1Q109.9,65.8 109.3,64.4Q108.7,63.1 109.5,61.8Q110.2,60.5 111.7,60.3L113.2,60.2"/><path class="w2" d="M117.8,59.9Q117.3,62.9 116.5,64.2Q115.7,65.4 114.3,65.9Q112.9,66.5 111.4,66.1Q109.9,65.8 109.3,64.4Q108.7,63.1 109.5,61.8Q110.2,60.5 111.7,60.3L113.2,60.2"/>
<path class="wa" d="M121.9,87.2Q120.6,89.9 119.2,90.6Q117.9,91.2 116.4,91.5Q114.9,91.7 113.4,91.8Q111.9,92.0 110.5,91.7Q109.0,91.5 107.9,90.5Q106.8,89.4 107.0,87.9Q107.2,86.5 108.5,85.7Q109.8,85.0 111.2,85.6L112.6,86.3"/><path class="w4" d="M121.9,87.2Q120.6,89.9 119.2,90.6Q117.9,91.2 116.4,91.5Q114.9,91.7 113.4,91.8Q111.9,92.0 110.5,91.7Q109.0,91.5 107.9,90.5Q106.8,89.4 107.0,87.9Q107.2,86.5 108.5,85.7Q109.8,85.0 111.2,85.6L112.6,86.3"/>
<path class="wa" d="M123.3,41.8Q123.3,44.8 122.9,46.3Q122.6,47.8 122.6,49.3Q122.6,50.8 123.0,52.2Q123.4,53.6 124.4,54.8L125.3,56.0"/><path class="w0" d="M123.3,41.8Q123.3,44.8 122.9,46.3Q122.6,47.8 122.6,49.3Q122.6,50.8 123.0,52.2Q123.4,53.6 124.4,54.8L125.3,56.0"/>
<path class="wa" d="M176.4,54.6Q179.2,55.5 180.7,55.6Q182.2,55.7 183.7,56.0Q185.2,56.3 186.4,57.1Q187.7,57.9 188.1,59.3L188.5,60.8"/><path class="w2" d="M176.4,54.6Q179.2,55.5 180.7,55.6Q182.2,55.7 183.7,56.0Q185.2,56.3 186.4,57.1Q187.7,57.9 188.1,59.3L188.5,60.8"/>
<path class="wa" d="M163.5,41.9Q164.1,39.0 163.5,37.6Q162.8,36.2 161.6,35.4Q160.4,34.5 158.9,34.3Q157.4,34.1 155.9,34.2Q154.4,34.4 153.0,34.8Q151.5,35.2 150.0,35.3Q148.5,35.4 147.0,35.5Q145.5,35.6 144.2,36.2L142.8,36.8"/><path class="w1" d="M163.5,41.9Q164.1,39.0 163.5,37.6Q162.8,36.2 161.6,35.4Q160.4,34.5 158.9,34.3Q157.4,34.1 155.9,34.2Q154.4,34.4 153.0,34.8Q151.5,35.2 150.0,35.3Q148.5,35.4 147.0,35.5Q145.5,35.6 144.2,36.2L142.8,36.8"/>
<path class="wa" d="M118.2,98.1Q121.2,98.3 122.1,99.4Q123.1,100.6 123.0,102.1Q123.0,103.6 122.4,105.0Q121.9,106.3 120.5,106.9L119.1,107.5"/><path class="w4" d="M118.2,98.1Q121.2,98.3 122.1,99.4Q123.1,100.6 123.0,102.1Q123.0,103.6 122.4,105.0Q121.9,106.3 120.5,106.9L119.1,107.5"/>
<path class="wa" d="M118.4,26.4Q120.0,23.9 120.3,22.4Q120.7,21.0 120.3,19.5Q120.0,18.0 119.3,16.7Q118.6,15.4 117.8,14.1Q117.0,12.9 116.5,11.4Q116.1,10.0 116.2,8.5L116.3,7.0"/><path class="w0" d="M118.4,26.4Q120.0,23.9 120.3,22.4Q120.7,21.0 120.3,19.5Q120.0,18.0 119.3,16.7Q118.6,15.4 117.8,14.1Q117.0,12.9 116.5,11.4Q116.1,10.0 116.2,8.5L116.3,7.0"/>
<path class="wa" d="M149.1,28.7Q147.3,26.3 146.2,25.2Q145.2,24.2 144.3,23.0Q143.4,21.7 142.9,20.3Q142.3,18.9 142.6,17.5Q142.9,16.0 143.9,14.9Q144.8,13.7 146.1,12.9Q147.3,12.0 148.8,11.7Q150.2,11.3 151.7,11.1L153.2,10.9"/><path class="w0" d="M149.1,28.7Q147.3,26.3 146.2,25.2Q145.2,24.2 144.3,23.0Q143.4,21.7 142.9,20.3Q142.3,18.9 142.6,17.5Q142.9,16.0 143.9,14.9Q144.8,13.7 146.1,12.9Q147.3,12.0 148.8,11.7Q150.2,11.3 151.7,11.1L153.2,10.9"/>
<path class="wa" d="M102.1,57.0Q99.3,56.0 97.8,56.2Q96.4,56.5 95.0,57.1Q93.7,57.8 92.8,59.0Q91.9,60.2 91.8,61.7Q91.6,63.2 92.0,64.6Q92.5,66.1 93.0,67.5Q93.5,68.9 94.5,70.1L95.4,71.2"/><path class="w1" d="M102.1,57.0Q99.3,56.0 97.8,56.2Q96.4,56.5 95.0,57.1Q93.7,57.8 92.8,59.0Q91.9,60.2 91.8,61.7Q91.6,63.2 92.0,64.6Q92.5,66.1 93.0,67.5Q93.5,68.9 94.5,70.1L95.4,71.2"/>
<path class="wa" d="M113.7,36.6Q110.7,36.9 109.2,36.9Q107.7,36.9 106.3,37.4Q104.9,37.9 104.2,39.2Q103.5,40.6 103.3,42.1Q103.2,43.6 102.9,45.0Q102.6,46.5 102.9,48.0Q103.1,49.5 104.2,50.5Q105.2,51.6 106.6,52.3L107.9,53.0"/><path class="w0" d="M113.7,36.6Q110.7,36.9 109.2,36.9Q107.7,36.9 106.3,37.4Q104.9,37.9 104.2,39.2Q103.5,40.6 103.3,42.1Q103.2,43.6 102.9,45.0Q102.6,46.5 102.9,48.0Q103.1,49.5 104.2,50.5Q105.2,51.6 106.6,52.3L107.9,53.0"/>
<path class="wa" d="M173.4,67.6Q170.6,68.4 169.3,69.2Q168.0,70.0 167.0,71.1Q166.0,72.2 165.9,73.7Q165.8,75.2 166.9,76.1L168.1,77.1"/><path class="w3" d="M173.4,67.6Q170.6,68.4 169.3,69.2Q168.0,70.0 167.0,71.1Q166.0,72.2 165.9,73.7Q165.8,75.2 166.9,76.1L168.1,77.1"/>
<path class="wa" d="M119.3,74.7Q119.9,77.6 120.4,79.0Q120.8,80.5 121.8,81.6Q122.7,82.8 123.8,83.9Q124.8,85.0 126.1,85.8Q127.3,86.6 128.7,87.2L130.0,87.8"/><path class="w3" d="M119.3,74.7Q119.9,77.6 120.4,79.0Q120.8,80.5 121.8,81.6Q122.7,82.8 123.8,83.9Q124.8,85.0 126.1,85.8Q127.3,86.6 128.7,87.2L130.0,87.8"/>
<path class="wa" d="M117.9,64.1Q115.6,62.3 114.3,61.4Q113.1,60.6 111.7,60.1Q110.2,59.6 108.8,59.4Q107.3,59.2 105.8,58.9Q104.3,58.6 102.9,58.9Q101.4,59.2 100.6,60.5L99.8,61.8"/><path class="w2" d="M117.9,64.1Q115.6,62.3 114.3,61.4Q113.1,60.6 111.7,60.1Q110.2,59.6 108.8,59.4Q107.3,59.2 105.8,58.9Q104.3,58.6 102.9,58.9Q101.4,59.2 100.6,60.5L99.8,61.8"/>
<path class="wa" d="M137.4,56.4Q138.1,53.4 138.2,51.9Q138.3,50.4 137.7,49.1Q137.1,47.7 136.0,46.7Q134.9,45.7 133.8,44.6Q132.7,43.6 131.7,42.5Q130.7,41.4 129.5,40.4Q128.4,39.4 127.0,38.9L125.6,38.4"/><path class="w2" d="M137.4,56.4Q138.1,53.4 138.2,51.9Q138.3,50.4 137.7,49.1Q137.1,47.7 136.0,46.7Q134.9,45.7 133.8,44.6Q132.7,43.6 131.7,42.5Q130.7,41.4 129.5,40.4Q128.4,39.4 127.0,38.9L125.6,38.4"/>
<path class="wa" d="M138.3,48.6Q136.7,51.2 137.0,52.6Q137.2,54.1 138.1,55.3Q139.0,56.6 140.4,56.9L141.9,57.3"/><path class="w1" d="M138.3,48.6Q136.7,51.2 137.0,52.6Q137.2,54.1 138.1,55.3Q139.0,56.6 140.4,56.9L141.9,57.3"/>
<path class="wa" d="M134.7,71.9Q131.7,72.0 130.5,71.2Q129.2,70.4 128.2,69.3Q127.3,68.1 127.0,66.6Q126.7,65.2 126.7,63.7Q126.7,62.2 127.1,60.7Q127.6,59.3 128.1,57.9L128.6,56.5"/><path class="w3" d="M134.7,71.9Q131.7,72.0 130.5,71.2Q129.2,70.4 128.2,69.3Q127.3,68.1 127.0,66.6Q126.7,65.2 126.7,63.7Q126.7,62.2 127.1,60.7Q127.6,59.3 128.1,57.9L128.6,56.5"/>
<path class="wa" d="M169.0,30.9Q170.0,33.7 169.9,35.2Q169.9,36.7 168.9,37.8Q167.8,38.9 166.3,39.0Q164.9,39.1 163.9,38.0L162.9,36.8"/><path class="w0" d="M169.0,30.9Q170.0,33.7 169.9,35.2Q169.9,36.7 168.9,37.8Q167.8,38.9 166.3,39.0Q164.9,39.1 163.9,38.0L162.9,36.8"/>
<path class="wa" d="M179.3,31.0Q177.0,32.9 175.6,33.4Q174.2,33.9 172.7,34.0Q171.2,34.2 169.8,33.8Q168.3,33.3 167.4,32.1L166.5,30.9"/><path class="w1" d="M179.3,31.0Q177.0,32.9 175.6,33.4Q174.2,33.9 172.7,34.0Q171.2,34.2 169.8,33.8Q168.3,33.3 167.4,32.1L166.5,30.9"/>
<path class="wa" d="M96.8,73.6Q99.8,73.9 101.1,74.6Q102.4,75.3 103.2,76.5Q104.0,77.8 103.7,79.3L103.3,80.8"/><path class="w2" d="M96.8,73.6Q99.8,73.9 101.1,74.6Q102.4,75.3 103.2,76.5Q104.0,77.8 103.7,79.3L103.3,80.8"/>
<path class="wa" d="M115.4,74.9Q112.5,75.2 111.0,74.7Q109.6,74.2 108.2,73.6Q106.9,73.0 105.4,73.0Q103.9,72.9 102.7,73.9Q101.6,74.9 101.0,76.3Q100.3,77.6 100.2,79.1Q100.2,80.6 100.5,82.1Q100.9,83.5 102.1,84.5L103.3,85.4"/><path class="w3" d="M115.4,74.9Q112.5,75.2 111.0,74.7Q109.6,74.2 108.2,73.6Q106.9,73.0 105.4,73.0Q103.9,72.9 102.7,73.9Q101.6,74.9 101.0,76.3Q100.3,77.6 100.2,79.1Q100.2,80.6 100.5,82.1Q100.9,83.5 102.1,84.5L103.3,85.4"/>
<path class="wa" d="M172.5,39.6Q174.1,37.1 175.4,36.4Q176.7,35.7 178.2,35.5Q179.7,35.3 181.0,35.9L182.4,36.6"/><path class="w1" d="M172.5,39.6Q174.1,37.1 175.4,36.4Q176.7,35.7 178.2,35.5Q179.7,35.3 181.0,35.9L182.4,36.6"/>
<path class="wa" d="M148.6,71.4Q151.6,71.4 153.1,71.4Q154.6,71.4 156.1,71.7Q157.6,72.0 159.1,72.0L160.6,72.0"/><path class="w3" d="M148.6,71.4Q151.6,71.4 153.1,71.4Q154.6,71.4 156.1,71.7Q157.6,72.0 159.1,72.0L160.6,72.0"/>
<path class="wa" d="M160.9,64.9Q158.0,65.4 156.7,64.5Q155.5,63.6 154.8,62.3Q154.0,61.0 154.4,59.6L154.8,58.1"/><path class="w3" d="M160.9,64.9Q158.0,65.4 156.7,64.5Q155.5,63.6 154.8,62.3Q154.0,61.0 154.4,59.6L154.8,58.1"/>
<path class="wa" d="M134.5,30.8Q133.1,28.1 132.8,26.6Q132.5,25.2 133.2,23.8Q133.9,22.5 135.3,21.9Q136.7,21.4 138.2,21.4Q139.7,21.3 141.2,21.4L142.7,21.4"/><path class="w0" d="M134.5,30.8Q133.1,28.1 132.8,26.6Q132.5,25.2 133.2,23.8Q133.9,22.5 135.3,21.9Q136.7,21.4 138.2,21.4Q139.7,21.3 141.2,21.4L142.7,21.4"/>
<path class="wa" d="M131.5,32.1Q132.4,29.2 132.6,27.7Q132.7,26.2 132.0,24.9Q131.4,23.6 130.4,22.5Q129.4,21.3 128.3,20.3L127.2,19.3"/><path class="w0" d="M131.5,32.1Q132.4,29.2 132.6,27.7Q132.7,26.2 132.0,24.9Q131.4,23.6 130.4,22.5Q129.4,21.3 128.3,20.3L127.2,19.3"/>
<path class="wa" d="M121.9,34.2Q121.0,37.1 121.1,38.6Q121.2,40.1 122.3,41.1Q123.3,42.2 124.7,42.8L126.1,43.4"/><path class="w0" d="M121.9,34.2Q121.0,37.1 121.1,38.6Q121.2,40.1 122.3,41.1Q123.3,42.2 124.7,42.8L126.1,43.4"/>
<path class="wa" d="M133.4,33.8Q131.1,35.7 130.0,36.8Q129.0,37.9 128.5,39.3Q128.0,40.7 128.8,42.0Q129.6,43.3 131.0,43.9L132.3,44.6"/><path class="w0" d="M133.4,33.8Q131.1,35.7 130.0,36.8Q129.0,37.9 128.5,39.3Q128.0,40.7 128.8,42.0Q129.6,43.3 131.0,43.9L132.3,44.6"/>
<path class="wa" d="M172.2,83.8Q173.6,86.5 174.8,87.4Q175.9,88.3 177.4,88.7Q178.9,89.0 180.1,88.2Q181.3,87.3 181.4,85.9Q181.4,84.4 180.2,83.4Q179.0,82.5 177.5,82.6Q176.0,82.7 175.0,83.8L174.0,84.9"/><path class="w4" d="M172.2,83.8Q173.6,86.5 174.8,87.4Q175.9,88.3 177.4,88.7Q178.9,89.0 180.1,88.2Q181.3,87.3 181.4,85.9Q181.4,84.4 180.2,83.4Q179.0,82.5 177.5,82.6Q176.0,82.7 175.0,83.8L174.0,84.9"/>
<path class="wa" d="M151.3,45.5Q148.3,45.7 146.9,46.4Q145.6,47.1 145.1,48.5Q144.6,49.9 145.1,51.4Q145.5,52.8 146.4,54.0Q147.2,55.3 148.0,56.5Q148.9,57.8 150.1,58.7Q151.3,59.5 152.6,60.3L153.9,61.1"/><path class="w1" d="M151.3,45.5Q148.3,45.7 146.9,46.4Q145.6,47.1 145.1,48.5Q144.6,49.9 145.1,51.4Q145.5,52.8 146.4,54.0Q147.2,55.3 148.0,56.5Q148.9,57.8 150.1,58.7Q151.3,59.5 152.6,60.3L153.9,61.1"/>
<path class="wa" d="M157.0,34.2Q155.0,32.0 154.3,30.7Q153.5,29.4 152.7,28.1Q151.8,26.9 151.1,25.6Q150.3,24.3 149.2,23.3Q148.1,22.3 146.7,21.9L145.2,21.6"/><path class="w1" d="M157.0,34.2Q155.0,32.0 154.3,30.7Q153.5,29.4 152.7,28.1Q151.8,26.9 151.1,25.6Q150.3,24.3 149.2,23.3Q148.1,22.3 146.7,21.9L145.2,21.6"/>
<path class="wa" d="M148.2,94.8Q151.2,94.7 152.5,95.4Q153.8,96.1 154.5,97.4Q155.1,98.8 154.4,100.1Q153.6,101.4 152.3,102.0Q150.9,102.7 149.4,102.8Q147.9,103.0 146.6,102.2Q145.3,101.5 144.8,100.0L144.4,98.6"/><path class="w4" d="M148.2,94.8Q151.2,94.7 152.5,95.4Q153.8,96.1 154.5,97.4Q155.1,98.8 154.4,100.1Q153.6,101.4 152.3,102.0Q150.9,102.7 149.4,102.8Q147.9,103.0 146.6,102.2Q145.3,101.5 144.8,100.0L144.4,98.6"/>
<path class="wa" d="M125.6,70.8Q128.6,70.8 129.7,71.9Q130.7,73.0 130.5,74.4Q130.2,75.9 128.9,76.6Q127.5,77.2 126.2,76.5L124.9,75.8"/><path class="w3" d="M125.6,70.8Q128.6,70.8 129.7,71.9Q130.7,73.0 130.5,74.4Q130.2,75.9 128.9,76.6Q127.5,77.2 126.2,76.5L124.9,75.8"/>
<path class="wa" d="M111.9,84.2Q109.7,86.2 108.3,86.8Q107.0,87.5 105.5,87.0Q104.1,86.5 103.2,85.3Q102.4,84.1 102.7,82.6L103.1,81.1"/><path class="w3" d="M111.9,84.2Q109.7,86.2 108.3,86.8Q107.0,87.5 105.5,87.0Q104.1,86.5 103.2,85.3Q102.4,84.1 102.7,82.6L103.1,81.1"/>
<path class="wa" d="M168.8,61.2Q171.8,61.7 173.1,62.3Q174.5,62.9 175.7,63.8Q176.9,64.7 178.0,65.7Q179.1,66.7 180.3,67.7L181.4,68.6"/><path class="w2" d="M168.8,61.2Q171.8,61.7 173.1,62.3Q174.5,62.9 175.7,63.8Q176.9,64.7 178.0,65.7Q179.1,66.7 180.3,67.7L181.4,68.6"/>
<path class="wa" d="M138.1,96.0Q135.4,94.6 133.9,94.7Q132.4,94.8 131.5,96.0Q130.7,97.3 131.0,98.7Q131.3,100.2 132.6,101.0L133.8,101.8"/><path class="w4" d="M138.1,96.0Q135.4,94.6 133.9,94.7Q132.4,94.8 131.5,96.0Q130.7,97.3 131.0,98.7Q131.3,100.2 132.6,101.0L133.8,101.8"/>
<path class="wa" d="M95.8,83.7Q96.9,86.5 97.3,88.0Q97.8,89.4 97.5,90.9Q97.3,92.3 96.7,93.7Q96.2,95.1 95.7,96.6Q95.3,98.0 94.4,99.2L93.5,100.4"/><path class="w3" d="M95.8,83.7Q96.9,86.5 97.3,88.0Q97.8,89.4 97.5,90.9Q97.3,92.3 96.7,93.7Q96.2,95.1 95.7,96.6Q95.3,98.0 94.4,99.2L93.5,100.4"/>
<path class="wa" d="M152.4,78.4Q155.4,78.3 156.9,78.4Q158.4,78.5 159.8,78.8Q161.3,79.0 162.8,78.9Q164.3,78.8 165.7,78.3Q167.1,77.8 168.1,76.6Q169.0,75.5 168.8,74.0Q168.7,72.5 167.4,71.7Q166.1,70.9 164.8,71.5L163.4,72.1"/><path class="w3" d="M152.4,78.4Q155.4,78.3 156.9,78.4Q158.4,78.5 159.8,78.8Q161.3,79.0 162.8,78.9Q164.3,78.8 165.7,78.3Q167.1,77.8 168.1,76.6Q169.0,75.5 168.8,74.0Q168.7,72.5 167.4,71.7Q166.1,70.9 164.8,71.5L163.4,72.1"/>
<path class="wa" d="M119.5,41.4Q122.4,42.2 123.8,41.8Q125.3,41.4 126.3,40.3Q127.3,39.2 127.9,37.9Q128.5,36.5 128.8,35.0L129.1,33.6"/><path class="w1" d="M119.5,41.4Q122.4,42.2 123.8,41.8Q125.3,41.4 126.3,40.3Q127.3,39.2 127.9,37.9Q128.5,36.5 128.8,35.0L129.1,33.6"/>
<path class="wa" d="M173.8,54.5Q170.9,54.1 169.5,53.4Q168.2,52.7 167.7,51.3Q167.1,49.9 167.8,48.5Q168.4,47.1 169.9,46.7Q171.3,46.3 172.5,47.2Q173.7,48.1 173.7,49.6Q173.7,51.1 172.9,52.3Q172.1,53.6 170.9,54.5L169.7,55.4"/><path class="w2" d="M173.8,54.5Q170.9,54.1 169.5,53.4Q168.2,52.7 167.7,51.3Q167.1,49.9 167.8,48.5Q168.4,47.1 169.9,46.7Q171.3,46.3 172.5,47.2Q173.7,48.1 173.7,49.6Q173.7,51.1 172.9,52.3Q172.1,53.6 170.9,54.5L169.7,55.4"/>
<path class="wa" d="M114.0,31.3Q112.8,28.6 111.5,27.8Q110.2,27.1 108.8,26.7Q107.3,26.3 105.9,26.6Q104.4,26.9 103.1,27.7Q101.8,28.4 100.5,29.1Q99.2,29.9 97.7,30.3Q96.3,30.7 94.9,31.2Q93.4,31.7 92.4,32.8L91.4,33.9"/><path class="w0" d="M114.0,31.3Q112.8,28.6 111.5,27.8Q110.2,27.1 108.8,26.7Q107.3,26.3 105.9,26.6Q104.4,26.9 103.1,27.7Q101.8,28.4 100.5,29.1Q99.2,29.9 97.7,30.3Q96.3,30.7 94.9,31.2Q93.4,31.7 92.4,32.8L91.4,33.9"/>
<path class="wa" d="M180.0,25.8Q179.4,28.7 178.1,29.4Q176.7,30.0 175.4,29.3Q174.0,28.7 173.2,27.4L172.4,26.1"/><path class="w0" d="M180.0,25.8Q179.4,28.7 178.1,29.4Q176.7,30.0 175.4,29.3Q174.0,28.7 173.2,27.4L172.4,26.1"/>
<path class="wa" d="M177.8,25.1Q177.9,22.1 178.3,20.6Q178.6,19.2 179.8,18.2Q180.9,17.2 182.4,17.3L183.9,17.5"/><path class="w1" d="M177.8,25.1Q177.9,22.1 178.3,20.6Q178.6,19.2 179.8,18.2Q180.9,17.2 182.4,17.3L183.9,17.5"/>
<path class="wa" d="M121.0,80.1Q119.1,82.4 118.7,83.9Q118.2,85.3 118.7,86.7Q119.1,88.1 119.9,89.4L120.7,90.7"/><path class="w3" d="M121.0,80.1Q119.1,82.4 118.7,83.9Q118.2,85.3 118.7,86.7Q119.1,88.1 119.9,89.4L120.7,90.7"/>
<path class="wa" d="M134.5,41.0Q137.1,39.6 138.5,40.0Q140.0,40.4 140.5,41.8Q140.9,43.2 140.1,44.5Q139.2,45.7 137.7,45.9Q136.3,46.1 135.2,45.1Q134.1,44.1 134.0,42.6Q133.9,41.1 135.0,40.1L136.2,39.2"/><path class="w1" d="M134.5,41.0Q137.1,39.6 138.5,40.0Q140.0,40.4 140.5,41.8Q140.9,43.2 140.1,44.5Q139.2,45.7 137.7,45.9Q136.3,46.1 135.2,45.1Q134.1,44.1 134.0,42.6Q133.9,41.1 135.0,40.1L136.2,39.2"/>
<path class="wa" d="M169.5,91.0Q168.9,88.1 168.7,86.6Q168.5,85.1 168.1,83.6Q167.7,82.2 167.1,80.8Q166.4,79.5 165.5,78.3Q164.6,77.1 163.6,76.0L162.5,74.9"/><path class="w4" d="M169.5,91.0Q168.9,88.1 168.7,86.6Q168.5,85.1 168.1,83.6Q167.7,82.2 167.1,80.8Q166.4,79.5 165.5,78.3Q164.6,77.1 163.6,76.0L162.5,74.9"/>
<path class="wa" d="M143.1,53.8Q145.6,52.1 147.0,51.5Q148.4,50.9 149.8,51.2Q151.3,51.4 152.7,51.9Q154.2,52.4 155.7,52.5Q157.2,52.6 158.6,52.8Q160.1,53.1 161.6,52.7L163.0,52.4"/><path class="w2" d="M143.1,53.8Q145.6,52.1 147.0,51.5Q148.4,50.9 149.8,51.2Q151.3,51.4 152.7,51.9Q154.2,52.4 155.7,52.5Q157.2,52.6 158.6,52.8Q160.1,53.1 161.6,52.7L163.0,52.4"/>
<path class="wa" d="M111.0,97.2Q108.1,96.6 106.8,95.9Q105.5,95.2 104.4,94.1Q103.4,93.0 103.0,91.6Q102.6,90.1 102.7,88.6Q102.8,87.1 103.1,85.7Q103.4,84.2 104.3,83.0Q105.3,81.9 106.8,81.7L108.3,81.6"/><path class="w4" d="M111.0,97.2Q108.1,96.6 106.8,95.9Q105.5,95.2 104.4,94.1Q103.4,93.0 103.0,91.6Q102.6,90.1 102.7,88.6Q102.8,87.1 103.1,85.7Q103.4,84.2 104.3,83.0Q105.3,81.9 106.8,81.7L108.3,81.6"/>
<path class="wa" d="M124.6,50.4Q125.5,53.2 125.7,54.7Q125.9,56.2 126.2,57.7Q126.5,59.1 126.8,60.6L127.1,62.1"/><path class="w1" d="M124.6,50.4Q125.5,53.2 125.7,54.7Q125.9,56.2 126.2,57.7Q126.5,59.1 126.8,60.6L127.1,62.1"/>
<path class="wa" d="M105.0,90.7Q104.2,87.9 104.0,86.4Q103.9,84.9 104.6,83.5Q105.3,82.2 106.3,81.1L107.3,80.0"/><path class="w3" d="M105.0,90.7Q104.2,87.9 104.0,86.4Q103.9,84.9 104.6,83.5Q105.3,82.2 106.3,81.1L107.3,80.0"/>
<path class="wa" d="M130.0,94.2Q132.9,93.1 133.8,91.9Q134.6,90.7 135.3,89.4Q135.9,88.0 135.8,86.5Q135.6,85.0 135.3,83.5Q135.0,82.1 134.3,80.8Q133.6,79.4 132.8,78.2Q132.0,76.9 131.2,75.7Q130.3,74.4 129.1,73.6L127.8,72.7"/><path class="w4" d="M130.0,94.2Q132.9,93.1 133.8,91.9Q134.6,90.7 135.3,89.4Q135.9,88.0 135.8,86.5Q135.6,85.0 135.3,83.5Q135.0,82.1 134.3,80.8Q133.6,79.4 132.8,78.2Q132.0,76.9 131.2,75.7Q130.3,74.4 129.1,73.6L127.8,72.7"/>
<path class="wa" d="M179.3,36.6Q181.3,34.3 182.1,33.1Q183.0,31.8 183.7,30.5Q184.5,29.2 185.6,28.3Q186.8,27.3 188.3,27.3Q189.8,27.3 190.7,28.5Q191.6,29.7 191.8,31.2Q192.0,32.7 192.0,34.2Q192.0,35.7 191.8,37.1L191.6,38.6"/><path class="w0" d="M179.3,36.6Q181.3,34.3 182.1,33.1Q183.0,31.8 183.7,30.5Q184.5,29.2 185.6,28.3Q186.8,27.3 188.3,27.3Q189.8,27.3 190.7,28.5Q191.6,29.7 191.8,31.2Q192.0,32.7 192.0,34.2Q192.0,35.7 191.8,37.1L191.6,38.6"/>
<path class="wa" d="M177.8,46.6Q175.9,44.3 175.9,42.8Q175.9,41.3 176.2,39.8Q176.6,38.4 176.9,36.9Q177.2,35.4 177.5,34.0Q177.8,32.5 178.4,31.1Q178.9,29.7 180.1,28.7L181.2,27.7"/><path class="w2" d="M177.8,46.6Q175.9,44.3 175.9,42.8Q175.9,41.3 176.2,39.8Q176.6,38.4 176.9,36.9Q177.2,35.4 177.5,34.0Q177.8,32.5 178.4,31.1Q178.9,29.7 180.1,28.7L181.2,27.7"/>
<path class="wa" d="M138.4,59.4Q141.2,58.5 142.6,59.0Q144.0,59.6 144.6,61.0Q145.2,62.3 144.7,63.8Q144.3,65.2 142.8,65.6L141.4,66.1"/><path class="w2" d="M138.4,59.4Q141.2,58.5 142.6,59.0Q144.0,59.6 144.6,61.0Q145.2,62.3 144.7,63.8Q144.3,65.2 142.8,65.6L141.4,66.1"/>
<path class="wa" d="M165.7,41.5Q167.6,43.8 168.0,45.2Q168.4,46.7 167.6,48.0Q166.9,49.3 165.4,49.4Q163.9,49.6 162.9,48.4L161.9,47.3"/><path class="w1" d="M165.7,41.5Q167.6,43.8 168.0,45.2Q168.4,46.7 167.6,48.0Q166.9,49.3 165.4,49.4Q163.9,49.6 162.9,48.4L161.9,47.3"/>
<path class="wa" d="M102.4,81.7Q102.5,84.7 101.9,86.1Q101.3,87.5 100.5,88.7Q99.7,90.0 98.5,90.9Q97.3,91.8 96.2,92.8Q95.0,93.7 94.2,95.0L93.5,96.3"/><path class="w2" d="M102.4,81.7Q102.5,84.7 101.9,86.1Q101.3,87.5 100.5,88.7Q99.7,90.0 98.5,90.9Q97.3,91.8 96.2,92.8Q95.0,93.7 94.2,95.0L93.5,96.3"/>
<path class="wa" d="M144.7,52.5Q146.2,49.9 146.8,48.5Q147.3,47.1 147.7,45.6Q148.2,44.2 148.7,42.8Q149.3,41.4 149.4,39.9Q149.6,38.4 150.0,37.0Q150.4,35.5 150.9,34.1Q151.4,32.7 152.0,31.3Q152.6,30.0 153.8,29.0L154.9,28.0"/><path class="w1" d="M144.7,52.5Q146.2,49.9 146.8,48.5Q147.3,47.1 147.7,45.6Q148.2,44.2 148.7,42.8Q149.3,41.4 149.4,39.9Q149.6,38.4 150.0,37.0Q150.4,35.5 150.9,34.1Q151.4,32.7 152.0,31.3Q152.6,30.0 153.8,29.0L154.9,28.0"/>
<path class="wa" d="M118.0,27.3Q117.9,24.3 117.3,22.9Q116.8,21.5 115.6,20.6Q114.4,19.7 112.9,20.0Q111.4,20.2 110.1,20.9Q108.7,21.5 108.0,22.9Q107.3,24.2 106.9,25.6Q106.5,27.0 106.6,28.5Q106.7,30.0 107.6,31.2L108.4,32.5"/><path class="w0" d="M118.0,27.3Q117.9,24.3 117.3,22.9Q116.8,21.5 115.6,20.6Q114.4,19.7 112.9,20.0Q111.4,20.2 110.1,20.9Q108.7,21.5 108.0,22.9Q107.3,24.2 106.9,25.6Q106.5,27.0 106.6,28.5Q106.7,30.0 107.6,31.2L108.4,32.5"/>
<path class="wa" d="M117.6,52.6Q114.8,51.6 113.7,50.5Q112.6,49.5 111.8,48.2Q111.1,47.0 110.6,45.5Q110.1,44.1 110.3,42.6L110.6,41.1"/><path class="w2" d="M117.6,52.6Q114.8,51.6 113.7,50.5Q112.6,49.5 111.8,48.2Q111.1,47.0 110.6,45.5Q110.1,44.1 110.3,42.6L110.6,41.1"/>
<path class="wa" d="M167.6,56.2Q164.9,57.5 163.6,58.2Q162.3,58.9 161.4,60.1Q160.5,61.3 160.5,62.8Q160.5,64.3 161.2,65.7Q161.8,67.0 162.5,68.4Q163.2,69.7 163.9,71.0Q164.5,72.4 165.3,73.6L166.2,74.9"/><path class="w3" d="M167.6,56.2Q164.9,57.5 163.6,58.2Q162.3,58.9 161.4,60.1Q160.5,61.3 160.5,62.8Q160.5,64.3 161.2,65.7Q161.8,67.0 162.5,68.4Q163.2,69.7 163.9,71.0Q164.5,72.4 165.3,73.6L166.2,74.9"/>
<path class="wa" d="M171.5,42.1Q172.2,39.2 173.1,38.0Q174.0,36.8 174.9,35.5Q175.7,34.3 176.2,32.9Q176.6,31.4 177.0,30.0Q177.4,28.5 177.3,27.0Q177.2,25.6 176.7,24.1Q176.3,22.7 175.4,21.5L174.6,20.2"/><path class="w1" d="M171.5,42.1Q172.2,39.2 173.1,38.0Q174.0,36.8 174.9,35.5Q175.7,34.3 176.2,32.9Q176.6,31.4 177.0,30.0Q177.4,28.5 177.3,27.0Q177.2,25.6 176.7,24.1Q176.3,22.7 175.4,21.5L174.6,20.2"/>
<path class="wa" d="M170.3,54.3Q173.1,53.3 174.6,53.7Q176.0,54.1 176.8,55.4Q177.6,56.7 177.3,58.2Q177.1,59.6 176.2,60.8Q175.4,62.1 174.0,62.6Q172.6,63.1 171.1,63.1Q169.6,63.0 168.5,62.0L167.4,61.0"/><path class="w2" d="M170.3,54.3Q173.1,53.3 174.6,53.7Q176.0,54.1 176.8,55.4Q177.6,56.7 177.3,58.2Q177.1,59.6 176.2,60.8Q175.4,62.1 174.0,62.6Q172.6,63.1 171.1,63.1Q169.6,63.0 168.5,62.0L167.4,61.0"/>
<path class="wa" d="M107.8,57.9Q110.4,56.4 111.4,55.3Q112.5,54.2 113.5,53.1Q114.5,52.0 115.4,50.8Q116.2,49.6 116.4,48.1Q116.6,46.6 116.6,45.1Q116.5,43.6 115.7,42.3Q114.9,41.1 113.6,40.4L112.2,39.7"/><path class="w1" d="M107.8,57.9Q110.4,56.4 111.4,55.3Q112.5,54.2 113.5,53.1Q114.5,52.0 115.4,50.8Q116.2,49.6 116.4,48.1Q116.6,46.6 116.6,45.1Q116.5,43.6 115.7,42.3Q114.9,41.1 113.6,40.4L112.2,39.7"/>
<path class="wa" d="M116.6,78.8Q113.6,78.6 112.4,77.6Q111.2,76.7 110.8,75.3Q110.4,73.8 110.6,72.4Q110.8,70.9 111.6,69.6Q112.4,68.3 113.6,67.5Q114.8,66.6 116.3,66.6Q117.8,66.7 118.8,67.8L119.8,69.0"/><path class="w3" d="M116.6,78.8Q113.6,78.6 112.4,77.6Q111.2,76.7 110.8,75.3Q110.4,73.8 110.6,72.4Q110.8,70.9 111.6,69.6Q112.4,68.3 113.6,67.5Q114.8,66.6 116.3,66.6Q117.8,66.7 118.8,67.8L119.8,69.0"/>
<path class="wa" d="M151.6,42.7Q153.0,40.0 154.5,39.7Q155.9,39.3 157.1,40.3Q158.2,41.3 158.1,42.8Q158.0,44.3 157.1,45.5Q156.3,46.8 155.1,47.8Q154.0,48.8 153.1,49.9Q152.2,51.1 151.0,52.1L149.9,53.0"/><path class="w1" d="M151.6,42.7Q153.0,40.0 154.5,39.7Q155.9,39.3 157.1,40.3Q158.2,41.3 158.1,42.8Q158.0,44.3 157.1,45.5Q156.3,46.8 155.1,47.8Q154.0,48.8 153.1,49.9Q152.2,51.1 151.0,52.1L149.9,53.0"/>
<path class="wa" d="M172.9,82.5Q170.1,83.4 168.7,84.0Q167.4,84.6 166.3,85.7Q165.2,86.8 164.4,88.0L163.5,89.2"/><path class="w4" d="M172.9,82.5Q170.1,83.4 168.7,84.0Q167.4,84.6 166.3,85.7Q165.2,86.8 164.4,88.0L163.5,89.2"/>
<path class="wa" d="M142.2,34.9Q144.9,36.2 145.8,37.4Q146.7,38.6 146.7,40.1Q146.7,41.6 145.6,42.6Q144.5,43.6 143.1,43.3Q141.6,43.0 141.0,41.6Q140.4,40.2 141.2,38.9Q141.9,37.6 143.3,36.9Q144.6,36.2 146.0,35.9L147.5,35.5"/><path class="w0" d="M142.2,34.9Q144.9,36.2 145.8,37.4Q146.7,38.6 146.7,40.1Q146.7,41.6 145.6,42.6Q144.5,43.6 143.1,43.3Q141.6,43.0 141.0,41.6Q140.4,40.2 141.2,38.9Q141.9,37.6 143.3,36.9Q144.6,36.2 146.0,35.9L147.5,35.5"/>
<path class="wa" d="M124.0,69.3Q121.0,69.1 119.5,69.1Q118.0,69.1 116.5,68.9Q115.0,68.7 113.6,68.1Q112.2,67.6 111.3,66.4L110.5,65.2"/><path class="w2" d="M124.0,69.3Q121.0,69.1 119.5,69.1Q118.0,69.1 116.5,68.9Q115.0,68.7 113.6,68.1Q112.2,67.6 111.3,66.4L110.5,65.2"/>
<path class="wa" d="M102.5,96.6Q99.7,95.5 98.3,95.0Q96.9,94.4 95.8,93.5Q94.6,92.6 93.8,91.3Q93.0,90.0 92.3,88.7Q91.6,87.4 91.2,85.9Q90.7,84.5 91.0,83.0Q91.3,81.6 92.1,80.3L93.0,79.1"/><path class="w4" d="M102.5,96.6Q99.7,95.5 98.3,95.0Q96.9,94.4 95.8,93.5Q94.6,92.6 93.8,91.3Q93.0,90.0 92.3,88.7Q91.6,87.4 91.2,85.9Q90.7,84.5 91.0,83.0Q91.3,81.6 92.1,80.3L93.0,79.1"/>
<path class="wa" d="M156.1,98.6Q159.0,97.6 160.2,96.7Q161.4,95.9 162.0,94.5Q162.6,93.1 162.8,91.6Q163.0,90.1 163.0,88.6Q163.1,87.1 162.5,85.8Q162.0,84.4 160.6,83.7L159.3,83.0"/><path class="w4" d="M156.1,98.6Q159.0,97.6 160.2,96.7Q161.4,95.9 162.0,94.5Q162.6,93.1 162.8,91.6Q163.0,90.1 163.0,88.6Q163.1,87.1 162.5,85.8Q162.0,84.4 160.6,83.7L159.3,83.0"/>
<path class="wa" d="M107.3,47.6Q110.2,48.2 111.4,49.0Q112.7,49.9 113.9,50.7Q115.1,51.6 116.0,52.8Q117.0,54.0 117.6,55.3Q118.2,56.7 118.5,58.2L118.8,59.6"/><path class="w0" d="M107.3,47.6Q110.2,48.2 111.4,49.0Q112.7,49.9 113.9,50.7Q115.1,51.6 116.0,52.8Q117.0,54.0 117.6,55.3Q118.2,56.7 118.5,58.2L118.8,59.6"/>
<path class="wa" d="M117.8,93.9Q115.1,95.2 114.0,96.1Q112.8,97.1 111.8,98.2Q110.8,99.3 110.1,100.6Q109.3,101.9 109.4,103.4Q109.4,104.9 110.6,105.9Q111.8,106.8 113.3,106.7Q114.8,106.6 115.7,105.4L116.7,104.3"/><path class="w4" d="M117.8,93.9Q115.1,95.2 114.0,96.1Q112.8,97.1 111.8,98.2Q110.8,99.3 110.1,100.6Q109.3,101.9 109.4,103.4Q109.4,104.9 110.6,105.9Q111.8,106.8 113.3,106.7Q114.8,106.6 115.7,105.4L116.7,104.3"/>
<path class="wa" d="M158.9,67.4Q161.0,65.3 161.6,63.9Q162.2,62.6 162.5,61.1Q162.7,59.6 162.8,58.1Q163.0,56.6 163.3,55.1Q163.7,53.7 164.7,52.6Q165.7,51.4 166.9,50.6Q168.2,49.8 169.5,49.1L170.8,48.3"/><path class="w3" d="M158.9,67.4Q161.0,65.3 161.6,63.9Q162.2,62.6 162.5,61.1Q162.7,59.6 162.8,58.1Q163.0,56.6 163.3,55.1Q163.7,53.7 164.7,52.6Q165.7,51.4 166.9,50.6Q168.2,49.8 169.5,49.1L170.8,48.3"/>
<path class="wa" d="M179.6,76.5Q178.9,79.4 179.3,80.8Q179.7,82.3 180.6,83.5Q181.5,84.7 182.9,85.3Q184.3,85.8 185.6,85.2Q187.0,84.6 187.3,83.1Q187.6,81.6 186.5,80.6L185.5,79.5"/><path class="w3" d="M179.6,76.5Q178.9,79.4 179.3,80.8Q179.7,82.3 180.6,83.5Q181.5,84.7 182.9,85.3Q184.3,85.8 185.6,85.2Q187.0,84.6 187.3,83.1Q187.6,81.6 186.5,80.6L185.5,79.5"/>
<path class="wa" d="M179.8,31.2Q182.6,32.2 183.8,33.2Q184.9,34.2 185.2,35.7Q185.4,37.1 184.5,38.3Q183.5,39.4 182.0,39.3Q180.5,39.2 179.7,37.9Q179.0,36.6 179.6,35.2Q180.2,33.8 181.6,33.5Q183.1,33.2 184.4,34.0L185.7,34.8"/><path class="w1" d="M179.8,31.2Q182.6,32.2 183.8,33.2Q184.9,34.2 185.2,35.7Q185.4,37.1 184.5,38.3Q183.5,39.4 182.0,39.3Q180.5,39.2 179.7,37.9Q179.0,36.6 179.6,35.2Q180.2,33.8 181.6,33.5Q183.1,33.2 184.4,34.0L185.7,34.8"/>
<path class="wa" d="M101.5,47.1Q103.9,45.3 105.1,44.4Q106.2,43.4 107.5,42.7Q108.8,42.0 110.1,41.2Q111.3,40.3 112.3,39.1Q113.2,38.0 113.1,36.5Q113.1,35.0 112.1,33.9Q111.0,32.8 109.5,33.0L108.1,33.2"/><path class="w0" d="M101.5,47.1Q103.9,45.3 105.1,44.4Q106.2,43.4 107.5,42.7Q108.8,42.0 110.1,41.2Q111.3,40.3 112.3,39.1Q113.2,38.0 113.1,36.5Q113.1,35.0 112.1,33.9Q111.0,32.8 109.5,33.0L108.1,33.2"/>
<path class="wa" d="M165.5,88.7Q168.2,87.5 169.0,86.2Q169.9,85.0 170.4,83.6Q170.9,82.1 171.4,80.7Q171.9,79.3 172.2,77.9Q172.4,76.4 171.8,75.0Q171.2,73.7 170.3,72.4Q169.4,71.2 168.1,70.4L166.9,69.5"/><path class="w4" d="M165.5,88.7Q168.2,87.5 169.0,86.2Q169.9,85.0 170.4,83.6Q170.9,82.1 171.4,80.7Q171.9,79.3 172.2,77.9Q172.4,76.4 171.8,75.0Q171.2,73.7 170.3,72.4Q169.4,71.2 168.1,70.4L166.9,69.5"/>
<path class="wa" d="M106.1,92.5Q107.3,89.8 107.7,88.3Q108.1,86.9 108.5,85.5Q108.9,84.0 109.8,82.8Q110.6,81.5 111.8,80.7Q113.0,79.8 114.4,79.1Q115.7,78.4 117.2,78.1Q118.7,77.9 120.2,78.0L121.6,78.1"/><path class="w3" d="M106.1,92.5Q107.3,89.8 107.7,88.3Q108.1,86.9 108.5,85.5Q108.9,84.0 109.8,82.8Q110.6,81.5 111.8,80.7Q113.0,79.8 114.4,79.1Q115.7,78.4 117.2,78.1Q118.7,77.9 120.2,78.0L121.6,78.1"/>
<path class="wa" d="M133.7,38.8Q136.5,40.0 137.9,40.4Q139.3,40.8 140.8,41.2Q142.3,41.5 143.8,41.7Q145.2,41.8 146.7,41.8Q148.2,41.8 149.7,41.4Q151.1,40.9 152.6,40.5L154.0,40.1"/><path class="w1" d="M133.7,38.8Q136.5,40.0 137.9,40.4Q139.3,40.8 140.8,41.2Q142.3,41.5 143.8,41.7Q145.2,41.8 146.7,41.8Q148.2,41.8 149.7,41.4Q151.1,40.9 152.6,40.5L154.0,40.1"/>
<path class="wa" d="M133.2,66.1Q130.3,66.7 128.8,66.5Q127.3,66.4 126.2,65.4Q125.1,64.3 124.4,63.0L123.8,61.6"/><path class="w2" d="M133.2,66.1Q130.3,66.7 128.8,66.5Q127.3,66.4 126.2,65.4Q125.1,64.3 124.4,63.0L123.8,61.6"/>
<path class="wa" d="M130.6,72.9Q131.8,75.6 132.2,77.0Q132.7,78.5 133.2,79.9Q133.7,81.3 134.5,82.5Q135.4,83.8 136.6,84.6L137.8,85.5"/><path class="w3" d="M130.6,72.9Q131.8,75.6 132.2,77.0Q132.7,78.5 133.2,79.9Q133.7,81.3 134.5,82.5Q135.4,83.8 136.6,84.6L137.8,85.5"/>
<path class="wa" d="M180.7,44.6Q178.0,43.3 176.5,43.1Q175.0,42.8 173.7,43.6Q172.4,44.3 172.2,45.8Q172.0,47.3 173.1,48.3Q174.2,49.3 175.7,49.0Q177.2,48.7 178.0,47.4Q178.8,46.2 178.3,44.8L177.7,43.4"/><path class="w1" d="M180.7,44.6Q178.0,43.3 176.5,43.1Q175.0,42.8 173.7,43.6Q172.4,44.3 172.2,45.8Q172.0,47.3 173.1,48.3Q174.2,49.3 175.7,49.0Q177.2,48.7 178.0,47.4Q178.8,46.2 178.3,44.8L177.7,43.4"/>
<path class="wa" d="M156.9,59.2Q158.4,56.6 159.8,56.0Q161.1,55.3 162.6,55.1Q164.1,54.9 165.4,55.6Q166.8,56.3 167.9,57.2Q169.1,58.2 170.2,59.2Q171.3,60.2 172.5,61.0L173.8,61.9"/><path class="w2" d="M156.9,59.2Q158.4,56.6 159.8,56.0Q161.1,55.3 162.6,55.1Q164.1,54.9 165.4,55.6Q166.8,56.3 167.9,57.2Q169.1,58.2 170.2,59.2Q171.3,60.2 172.5,61.0L173.8,61.9"/>
<path class="wa" d="M176.9,57.8Q174.1,56.7 172.6,57.0Q171.2,57.4 170.2,58.5Q169.2,59.6 168.6,61.0L168.0,62.4"/><path class="w2" d="M176.9,57.8Q174.1,56.7 172.6,57.0Q171.2,57.4 170.2,58.5Q169.2,59.6 168.6,61.0L168.0,62.4"/>
<path class="wa" d="M165.3,43.8Q166.5,41.1 167.1,39.7Q167.6,38.3 168.3,36.9Q168.9,35.6 168.9,34.1L168.9,32.6"/><path class="w1" d="M165.3,43.8Q166.5,41.1 167.1,39.7Q167.6,38.3 168.3,36.9Q168.9,35.6 168.9,34.1L168.9,32.6"/>
<path class="wa" d="M119.6,77.5Q121.2,80.0 122.3,81.1Q123.4,82.1 124.6,82.9Q125.9,83.7 127.4,84.0Q128.8,84.3 130.3,84.1Q131.8,83.9 133.3,83.8L134.8,83.6"/><path class="w3" d="M119.6,77.5Q121.2,80.0 122.3,81.1Q123.4,82.1 124.6,82.9Q125.9,83.7 127.4,84.0Q128.8,84.3 130.3,84.1Q131.8,83.9 133.3,83.8L134.8,83.6"/>
<path class="wa" d="M137.6,80.9Q140.6,81.6 142.1,81.5Q143.6,81.5 145.0,81.2Q146.5,80.9 147.7,80.0Q148.9,79.1 149.5,77.7Q150.2,76.4 150.2,74.9Q150.1,73.4 149.8,71.9Q149.4,70.5 149.2,69.0L149.0,67.5"/><path class="w3" d="M137.6,80.9Q140.6,81.6 142.1,81.5Q143.6,81.5 145.0,81.2Q146.5,80.9 147.7,80.0Q148.9,79.1 149.5,77.7Q150.2,76.4 150.2,74.9Q150.1,73.4 149.8,71.9Q149.4,70.5 149.2,69.0L149.0,67.5"/>
<path class="wa" d="M170.4,94.4Q172.7,96.3 174.1,96.7Q175.6,97.0 177.1,97.0Q178.6,97.1 180.1,96.8Q181.6,96.6 182.9,95.9Q184.2,95.1 185.2,94.0Q186.1,92.9 187.1,91.7L188.1,90.6"/><path class="w4" d="M170.4,94.4Q172.7,96.3 174.1,96.7Q175.6,97.0 177.1,97.0Q178.6,97.1 180.1,96.8Q181.6,96.6 182.9,95.9Q184.2,95.1 185.2,94.0Q186.1,92.9 187.1,91.7L188.1,90.6"/>
<path class="wa" d="M136.8,87.5Q135.2,90.0 133.7,90.2Q132.2,90.5 131.2,89.4Q130.1,88.4 130.4,86.9L130.6,85.4"/><path class="w4" d="M136.8,87.5Q135.2,90.0 133.7,90.2Q132.2,90.5 131.2,89.4Q130.1,88.4 130.4,86.9L130.6,85.4"/>
<path class="wa" d="M142.5,52.8Q139.6,53.5 138.2,53.9Q136.7,54.2 135.4,55.0Q134.2,55.9 133.8,57.3Q133.5,58.8 134.2,60.1Q134.9,61.4 136.3,61.8Q137.8,62.1 138.9,61.2Q140.1,60.2 140.0,58.7L139.8,57.2"/><path class="w1" d="M142.5,52.8Q139.6,53.5 138.2,53.9Q136.7,54.2 135.4,55.0Q134.2,55.9 133.8,57.3Q133.5,58.8 134.2,60.1Q134.9,61.4 136.3,61.8Q137.8,62.1 138.9,61.2Q140.1,60.2 140.0,58.7L139.8,57.2"/>
<path class="wa" d="M165.0,35.1Q164.8,32.1 165.1,30.7Q165.3,29.2 165.8,27.8Q166.3,26.3 167.5,25.4Q168.6,24.5 170.1,24.2Q171.6,23.9 172.9,24.5L174.3,25.1"/><path class="w1" d="M165.0,35.1Q164.8,32.1 165.1,30.7Q165.3,29.2 165.8,27.8Q166.3,26.3 167.5,25.4Q168.6,24.5 170.1,24.2Q171.6,23.9 172.9,24.5L174.3,25.1"/>
<path class="wa" d="M108.0,28.4Q107.4,25.4 106.8,24.0Q106.3,22.6 105.4,21.4Q104.5,20.2 103.5,19.1Q102.5,18.0 101.1,17.4L99.8,16.8"/><path class="w0" d="M108.0,28.4Q107.4,25.4 106.8,24.0Q106.3,22.6 105.4,21.4Q104.5,20.2 103.5,19.1Q102.5,18.0 101.1,17.4L99.8,16.8"/>
<path class="wa" d="M174.8,54.9Q177.4,53.4 178.9,53.2Q180.3,52.9 181.8,52.6Q183.3,52.2 184.6,51.6Q186.0,51.0 186.9,49.8Q187.9,48.6 188.4,47.2Q189.0,45.8 189.7,44.5Q190.4,43.2 191.3,42.0L192.3,40.9"/><path class="w2" d="M174.8,54.9Q177.4,53.4 178.9,53.2Q180.3,52.9 181.8,52.6Q183.3,52.2 184.6,51.6Q186.0,51.0 186.9,49.8Q187.9,48.6 188.4,47.2Q189.0,45.8 189.7,44.5Q190.4,43.2 191.3,42.0L192.3,40.9"/>
<path class="wa" d="M166.6,30.9Q167.7,28.1 168.2,26.7Q168.8,25.3 169.6,24.1Q170.3,22.8 171.2,21.5Q172.0,20.3 173.2,19.3Q174.3,18.4 175.7,17.8Q177.1,17.3 178.6,17.2Q180.1,17.0 181.5,17.7L182.8,18.4"/><path class="w1" d="M166.6,30.9Q167.7,28.1 168.2,26.7Q168.8,25.3 169.6,24.1Q170.3,22.8 171.2,21.5Q172.0,20.3 173.2,19.3Q174.3,18.4 175.7,17.8Q177.1,17.3 178.6,17.2Q180.1,17.0 181.5,17.7L182.8,18.4"/>
<path class="wa" d="M118.9,44.1Q121.8,43.3 123.2,42.6Q124.5,41.9 125.4,40.7Q126.2,39.5 125.8,38.0Q125.3,36.6 124.1,35.7Q122.9,34.8 121.4,34.8L119.9,34.9"/><path class="w0" d="M118.9,44.1Q121.8,43.3 123.2,42.6Q124.5,41.9 125.4,40.7Q126.2,39.5 125.8,38.0Q125.3,36.6 124.1,35.7Q122.9,34.8 121.4,34.8L119.9,34.9"/>
<path class="wa" d="M172.5,97.0Q173.9,99.7 173.7,101.1Q173.5,102.6 172.5,103.7Q171.4,104.8 170.0,104.6Q168.5,104.4 167.8,103.1Q167.1,101.8 167.7,100.4Q168.4,99.1 169.7,98.4Q171.0,97.6 172.5,97.5Q174.0,97.5 175.5,97.6L177.0,97.7"/><path class="w4" d="M172.5,97.0Q173.9,99.7 173.7,101.1Q173.5,102.6 172.5,103.7Q171.4,104.8 170.0,104.6Q168.5,104.4 167.8,103.1Q167.1,101.8 167.7,100.4Q168.4,99.1 169.7,98.4Q171.0,97.6 172.5,97.5Q174.0,97.5 175.5,97.6L177.0,97.7"/>
<path class="wa" d="M134.5,48.7Q132.0,50.5 130.8,51.3Q129.5,52.0 128.2,52.8Q126.9,53.5 125.8,54.6Q124.7,55.6 123.7,56.7Q122.8,57.9 121.8,59.0L120.9,60.2"/><path class="w1" d="M134.5,48.7Q132.0,50.5 130.8,51.3Q129.5,52.0 128.2,52.8Q126.9,53.5 125.8,54.6Q124.7,55.6 123.7,56.7Q122.8,57.9 121.8,59.0L120.9,60.2"/>
<path class="wa" d="M114.7,96.4Q113.3,99.0 112.2,100.1Q111.2,101.2 109.9,101.9Q108.6,102.7 107.1,102.8Q105.6,102.9 104.4,102.1Q103.1,101.3 102.2,100.1Q101.2,99.0 101.0,97.5Q100.8,96.0 100.9,94.5L101.0,93.0"/><path class="w4" d="M114.7,96.4Q113.3,99.0 112.2,100.1Q111.2,101.2 109.9,101.9Q108.6,102.7 107.1,102.8Q105.6,102.9 104.4,102.1Q103.1,101.3 102.2,100.1Q101.2,99.0 101.0,97.5Q100.8,96.0 100.9,94.5L101.0,93.0"/>
<path class="wa" d="M151.2,68.6Q153.7,70.2 154.8,71.2Q155.9,72.2 156.8,73.4Q157.7,74.6 158.1,76.1Q158.5,77.5 158.4,79.0L158.2,80.5"/><path class="w3" d="M151.2,68.6Q153.7,70.2 154.8,71.2Q155.9,72.2 156.8,73.4Q157.7,74.6 158.1,76.1Q158.5,77.5 158.4,79.0L158.2,80.5"/>
<path class="wa" d="M121.0,67.2Q120.0,64.4 119.5,63.0Q119.0,61.5 118.0,60.4Q117.1,59.3 115.6,58.8Q114.2,58.4 112.8,59.0Q111.4,59.5 110.4,60.6L109.4,61.7"/><path class="w3" d="M121.0,67.2Q120.0,64.4 119.5,63.0Q119.0,61.5 118.0,60.4Q117.1,59.3 115.6,58.8Q114.2,58.4 112.8,59.0Q111.4,59.5 110.4,60.6L109.4,61.7"/>
<path class="wa" d="M142.7,66.1Q140.5,64.1 139.3,63.1Q138.1,62.2 137.2,61.0Q136.3,59.8 136.0,58.4Q135.7,56.9 135.6,55.4Q135.6,53.9 136.0,52.4L136.4,51.0"/><path class="w2" d="M142.7,66.1Q140.5,64.1 139.3,63.1Q138.1,62.2 137.2,61.0Q136.3,59.8 136.0,58.4Q135.7,56.9 135.6,55.4Q135.6,53.9 136.0,52.4L136.4,51.0"/>
<path class="wa" d="M104.7,95.9Q103.6,93.1 103.7,91.6Q103.7,90.1 103.6,88.6Q103.5,87.1 102.9,85.8Q102.3,84.4 101.0,83.7Q99.7,82.9 98.3,83.5Q96.9,84.0 96.5,85.5Q96.1,86.9 97.1,88.1Q98.0,89.2 99.5,89.6L100.9,90.0"/><path class="w3" d="M104.7,95.9Q103.6,93.1 103.7,91.6Q103.7,90.1 103.6,88.6Q103.5,87.1 102.9,85.8Q102.3,84.4 101.0,83.7Q99.7,82.9 98.3,83.5Q96.9,84.0 96.5,85.5Q96.1,86.9 97.1,88.1Q98.0,89.2 99.5,89.6L100.9,90.0"/>
<path class="wa" d="M169.8,30.4Q169.6,27.4 169.0,26.1Q168.4,24.7 167.9,23.3Q167.4,21.9 166.7,20.5Q166.1,19.1 165.2,18.0Q164.2,16.8 162.9,16.1Q161.5,15.5 160.0,15.6L158.5,15.7"/><path class="w0" d="M169.8,30.4Q169.6,27.4 169.0,26.1Q168.4,24.7 167.9,23.3Q167.4,21.9 166.7,20.5Q166.1,19.1 165.2,18.0Q164.2,16.8 162.9,16.1Q161.5,15.5 160.0,15.6L158.5,15.7"/>
<path class="wa" d="M138.5,44.0Q135.6,43.3 134.2,42.7Q132.8,42.2 131.3,42.0Q129.8,41.8 128.3,42.0Q126.8,42.1 125.4,42.5Q123.9,42.9 122.8,43.9L121.7,44.9"/><path class="w0" d="M138.5,44.0Q135.6,43.3 134.2,42.7Q132.8,42.2 131.3,42.0Q129.8,41.8 128.3,42.0Q126.8,42.1 125.4,42.5Q123.9,42.9 122.8,43.9L121.7,44.9"/>
<path class="wa" d="M159.8,59.7Q162.7,58.9 164.2,58.8Q165.7,58.8 167.2,59.2Q168.6,59.5 169.8,60.5Q171.0,61.4 171.8,62.6L172.7,63.9"/><path class="w2" d="M159.8,59.7Q162.7,58.9 164.2,58.8Q165.7,58.8 167.2,59.2Q168.6,59.5 169.8,60.5Q171.0,61.4 171.8,62.6L172.7,63.9"/>
<path class="wa" d="M120.3,78.9Q117.5,77.9 116.7,76.6Q115.9,75.3 116.0,73.8Q116.1,72.3 116.9,71.1Q117.7,69.8 119.2,69.7Q120.7,69.6 121.7,70.8Q122.6,71.9 122.2,73.4Q121.9,74.8 120.4,75.4Q119.0,75.9 117.6,75.7L116.1,75.4"/><path class="w3" d="M120.3,78.9Q117.5,77.9 116.7,76.6Q115.9,75.3 116.0,73.8Q116.1,72.3 116.9,71.1Q117.7,69.8 119.2,69.7Q120.7,69.6 121.7,70.8Q122.6,71.9 122.2,73.4Q121.9,74.8 120.4,75.4Q119.0,75.9 117.6,75.7L116.1,75.4"/>
<path class="wa" d="M174.8,37.6Q174.9,40.6 174.5,42.1Q174.0,43.5 172.8,44.3Q171.5,45.1 170.1,45.6Q168.6,46.0 167.1,46.0Q165.6,45.9 164.4,45.1Q163.1,44.3 163.1,42.8Q163.0,41.3 164.2,40.4Q165.4,39.4 166.8,39.8L168.2,40.3"/><path class="w1" d="M174.8,37.6Q174.9,40.6 174.5,42.1Q174.0,43.5 172.8,44.3Q171.5,45.1 170.1,45.6Q168.6,46.0 167.1,46.0Q165.6,45.9 164.4,45.1Q163.1,44.3 163.1,42.8Q163.0,41.3 164.2,40.4Q165.4,39.4 166.8,39.8L168.2,40.3"/>
<path class="wa" d="M160.1,52.6Q157.2,51.8 155.8,52.3Q154.4,52.8 153.7,54.1Q153.0,55.4 152.8,56.9L152.6,58.4"/><path class="w2" d="M160.1,52.6Q157.2,51.8 155.8,52.3Q154.4,52.8 153.7,54.1Q153.0,55.4 152.8,56.9L152.6,58.4"/>
<path class="wa" d="M113.2,84.0Q110.5,82.6 110.3,81.1Q110.0,79.7 111.1,78.6Q112.1,77.5 113.6,77.6Q115.1,77.7 115.9,79.0Q116.7,80.3 116.1,81.6Q115.6,83.0 114.2,83.6L112.8,84.1"/><path class="w4" d="M113.2,84.0Q110.5,82.6 110.3,81.1Q110.0,79.7 111.1,78.6Q112.1,77.5 113.6,77.6Q115.1,77.7 115.9,79.0Q116.7,80.3 116.1,81.6Q115.6,83.0 114.2,83.6L112.8,84.1"/>
<path class="wa" d="M152.7,29.2Q155.4,30.5 156.3,31.7Q157.3,32.8 157.5,34.3Q157.7,35.8 157.8,37.3Q157.8,38.8 157.4,40.2Q157.0,41.7 155.9,42.7Q154.8,43.8 153.3,43.9L151.8,44.0"/><path class="w1" d="M152.7,29.2Q155.4,30.5 156.3,31.7Q157.3,32.8 157.5,34.3Q157.7,35.8 157.8,37.3Q157.8,38.8 157.4,40.2Q157.0,41.7 155.9,42.7Q154.8,43.8 153.3,43.9L151.8,44.0"/>
<path class="wa" d="M140.2,73.1Q137.3,72.4 135.9,73.0Q134.6,73.6 133.4,74.6Q132.2,75.5 131.3,76.7Q130.4,77.9 130.4,79.4L130.5,80.9"/><path class="w3" d="M140.2,73.1Q137.3,72.4 135.9,73.0Q134.6,73.6 133.4,74.6Q132.2,75.5 131.3,76.7Q130.4,77.9 130.4,79.4L130.5,80.9"/>
<path class="wa" d="M160.4,52.1Q157.5,51.4 156.0,51.1Q154.5,50.8 153.0,50.6Q151.6,50.5 150.1,50.0Q148.7,49.6 147.2,49.4Q145.7,49.2 144.3,48.8Q142.9,48.3 141.4,47.9Q140.0,47.6 138.5,47.2Q137.0,46.9 135.5,47.0L134.0,47.0"/><path class="w1" d="M160.4,52.1Q157.5,51.4 156.0,51.1Q154.5,50.8 153.0,50.6Q151.6,50.5 150.1,50.0Q148.7,49.6 147.2,49.4Q145.7,49.2 144.3,48.8Q142.9,48.3 141.4,47.9Q140.0,47.6 138.5,47.2Q137.0,46.9 135.5,47.0L134.0,47.0"/>
<path class="wa" d="M102.7,76.1Q100.1,74.6 99.0,73.6Q97.9,72.6 97.2,71.3Q96.5,69.9 96.1,68.5Q95.7,67.0 95.6,65.5Q95.5,64.0 96.1,62.7L96.7,61.3"/><path class="w3" d="M102.7,76.1Q100.1,74.6 99.0,73.6Q97.9,72.6 97.2,71.3Q96.5,69.9 96.1,68.5Q95.7,67.0 95.6,65.5Q95.5,64.0 96.1,62.7L96.7,61.3"/>
<path class="wa" d="M142.7,51.4Q142.1,48.5 142.0,47.0Q141.9,45.5 142.6,44.2Q143.3,42.8 144.3,41.7Q145.3,40.6 146.6,39.9Q147.9,39.2 149.4,38.7Q150.8,38.2 152.2,37.9L153.7,37.6"/><path class="w1" d="M142.7,51.4Q142.1,48.5 142.0,47.0Q141.9,45.5 142.6,44.2Q143.3,42.8 144.3,41.7Q145.3,40.6 146.6,39.9Q147.9,39.2 149.4,38.7Q150.8,38.2 152.2,37.9L153.7,37.6"/>
<path class="wa" d="M162.2,49.6Q161.6,52.6 161.0,53.9Q160.4,55.3 160.0,56.8Q159.6,58.2 159.2,59.7L158.8,61.1"/><path class="w2" d="M162.2,49.6Q161.6,52.6 161.0,53.9Q160.4,55.3 160.0,56.8Q159.6,58.2 159.2,59.7L158.8,61.1"/>
<path class="wa" d="M130.1,41.1Q128.2,38.8 127.0,37.9Q125.9,36.9 124.8,35.8Q123.8,34.8 122.7,33.7Q121.7,32.6 120.7,31.5Q119.7,30.3 118.4,29.6Q117.1,28.9 115.7,29.4Q114.2,29.9 113.6,31.2Q112.9,32.6 113.3,34.0L113.6,35.5"/><path class="w0" d="M130.1,41.1Q128.2,38.8 127.0,37.9Q125.9,36.9 124.8,35.8Q123.8,34.8 122.7,33.7Q121.7,32.6 120.7,31.5Q119.7,30.3 118.4,29.6Q117.1,28.9 115.7,29.4Q114.2,29.9 113.6,31.2Q112.9,32.6 113.3,34.0L113.6,35.5"/>
<path class="wa" d="M178.2,30.1Q180.3,27.9 181.6,27.2Q182.9,26.4 184.4,26.7Q185.9,26.9 186.8,28.1L187.7,29.3"/><path class="w0" d="M178.2,30.1Q180.3,27.9 181.6,27.2Q182.9,26.4 184.4,26.7Q185.9,26.9 186.8,28.1L187.7,29.3"/>
<path class="wa" d="M177.0,55.6Q179.9,55.1 181.4,54.8Q182.9,54.6 184.3,54.9Q185.8,55.2 187.0,56.1Q188.2,57.0 188.7,58.4Q189.2,59.8 189.0,61.3Q188.8,62.8 187.4,63.5L186.1,64.1"/><path class="w3" d="M177.0,55.6Q179.9,55.1 181.4,54.8Q182.9,54.6 184.3,54.9Q185.8,55.2 187.0,56.1Q188.2,57.0 188.7,58.4Q189.2,59.8 189.0,61.3Q188.8,62.8 187.4,63.5L186.1,64.1"/>
<path class="wa" d="M139.5,74.0Q141.0,71.4 141.7,70.0Q142.3,68.7 142.9,67.3Q143.4,65.9 143.3,64.4Q143.1,62.9 142.8,61.4Q142.5,60.0 141.4,58.9Q140.4,57.8 139.3,56.8Q138.1,55.8 136.8,55.1Q135.5,54.4 134.0,54.5L132.5,54.6"/><path class="w3" d="M139.5,74.0Q141.0,71.4 141.7,70.0Q142.3,68.7 142.9,67.3Q143.4,65.9 143.3,64.4Q143.1,62.9 142.8,61.4Q142.5,60.0 141.4,58.9Q140.4,57.8 139.3,56.8Q138.1,55.8 136.8,55.1Q135.5,54.4 134.0,54.5L132.5,54.6"/>
<path class="wa" d="M145.7,64.7Q143.8,62.4 142.8,61.2Q141.9,60.1 140.8,59.0Q139.8,57.9 138.9,56.7L137.9,55.6"/><path class="w2" d="M145.7,64.7Q143.8,62.4 142.8,61.2Q141.9,60.1 140.8,59.0Q139.8,57.9 138.9,56.7L137.9,55.6"/>
<path class="wa" d="M102.5,76.1Q99.7,77.2 98.3,77.7Q96.9,78.1 95.4,78.3Q93.9,78.4 92.4,78.1L91.0,77.7"/><path class="w3" d="M102.5,76.1Q99.7,77.2 98.3,77.7Q96.9,78.1 95.4,78.3Q93.9,78.4 92.4,78.1L91.0,77.7"/>
<path class="wa" d="M155.5,86.3Q158.5,86.5 159.8,85.8Q161.1,85.0 161.5,83.6Q161.9,82.1 161.0,80.9Q160.1,79.8 158.6,79.4Q157.2,78.9 155.7,79.0Q154.2,79.0 153.0,80.0L151.9,81.0"/><path class="w4" d="M155.5,86.3Q158.5,86.5 159.8,85.8Q161.1,85.0 161.5,83.6Q161.9,82.1 161.0,80.9Q160.1,79.8 158.6,79.4Q157.2,78.9 155.7,79.0Q154.2,79.0 153.0,80.0L151.9,81.0"/>
<path class="wa" d="M173.0,25.9Q172.2,28.8 172.6,30.2Q173.1,31.7 174.2,32.6Q175.4,33.5 176.9,33.3Q178.4,33.1 179.5,32.1Q180.7,31.2 181.6,30.0L182.4,28.8"/><path class="w0" d="M173.0,25.9Q172.2,28.8 172.6,30.2Q173.1,31.7 174.2,32.6Q175.4,33.5 176.9,33.3Q178.4,33.1 179.5,32.1Q180.7,31.2 181.6,30.0L182.4,28.8"/>
<path class="wa" d="M151.6,90.5Q148.6,89.8 147.3,89.2Q145.9,88.6 145.1,87.3Q144.3,86.1 144.4,84.6Q144.4,83.1 145.5,82.0L146.6,81.0"/><path class="w4" d="M151.6,90.5Q148.6,89.8 147.3,89.2Q145.9,88.6 145.1,87.3Q144.3,86.1 144.4,84.6Q144.4,83.1 145.5,82.0L146.6,81.0"/>
<path class="wa" d="M132.4,48.5Q129.7,49.7 128.7,50.9Q127.7,52.0 127.8,53.5Q127.8,55.0 129.0,55.8Q130.3,56.7 131.7,56.3Q133.1,55.8 133.6,54.4L134.1,53.0"/><path class="w1" d="M132.4,48.5Q129.7,49.7 128.7,50.9Q127.7,52.0 127.8,53.5Q127.8,55.0 129.0,55.8Q130.3,56.7 131.7,56.3Q133.1,55.8 133.6,54.4L134.1,53.0"/>
<path class="wa" d="M109.7,37.0Q106.7,36.8 105.4,36.1Q104.0,35.3 103.0,34.2Q102.0,33.1 101.3,31.8Q100.6,30.5 100.1,29.1Q99.6,27.7 99.4,26.2Q99.3,24.7 99.5,23.2L99.6,21.7"/><path class="w0" d="M109.7,37.0Q106.7,36.8 105.4,36.1Q104.0,35.3 103.0,34.2Q102.0,33.1 101.3,31.8Q100.6,30.5 100.1,29.1Q99.6,27.7 99.4,26.2Q99.3,24.7 99.5,23.2L99.6,21.7"/>
<path class="wa" d="M149.3,70.9Q149.9,73.8 151.2,74.5Q152.5,75.3 153.9,74.7Q155.2,74.0 156.0,72.8Q156.7,71.5 157.3,70.1Q157.8,68.7 158.6,67.4L159.4,66.1"/><path class="w3" d="M149.3,70.9Q149.9,73.8 151.2,74.5Q152.5,75.3 153.9,74.7Q155.2,74.0 156.0,72.8Q156.7,71.5 157.3,70.1Q157.8,68.7 158.6,67.4L159.4,66.1"/>
<path class="wa" d="M168.4,53.2Q166.0,55.1 165.1,56.3Q164.2,57.5 163.5,58.8Q162.9,60.2 162.2,61.5L161.5,62.8"/><path class="w2" d="M168.4,53.2Q166.0,55.1 165.1,56.3Q164.2,57.5 163.5,58.8Q162.9,60.2 162.2,61.5L161.5,62.8"/>
<path class="wa" d="M98.1,47.0Q96.5,49.5 96.0,50.9Q95.5,52.3 95.2,53.8Q94.8,55.3 94.9,56.8Q95.0,58.3 96.1,59.3Q97.2,60.3 98.7,60.1L100.1,59.8"/><path class="w0" d="M98.1,47.0Q96.5,49.5 96.0,50.9Q95.5,52.3 95.2,53.8Q94.8,55.3 94.9,56.8Q95.0,58.3 96.1,59.3Q97.2,60.3 98.7,60.1L100.1,59.8"/>
<path class="wa" d="M157.2,94.7Q159.7,96.3 160.6,97.5Q161.5,98.7 161.3,100.1Q161.1,101.6 159.9,102.5Q158.6,103.3 157.1,102.9Q155.7,102.6 155.1,101.2Q154.6,99.8 155.4,98.5L156.1,97.2"/><path class="w4" d="M157.2,94.7Q159.7,96.3 160.6,97.5Q161.5,98.7 161.3,100.1Q161.1,101.6 159.9,102.5Q158.6,103.3 157.1,102.9Q155.7,102.6 155.1,101.2Q154.6,99.8 155.4,98.5L156.1,97.2"/>
<path class="wa" d="M155.0,86.5Q154.0,89.4 153.3,90.7Q152.6,92.0 151.3,92.8Q150.0,93.6 148.6,94.0L147.1,94.4"/><path class="w4" d="M155.0,86.5Q154.0,89.4 153.3,90.7Q152.6,92.0 151.3,92.8Q150.0,93.6 148.6,94.0L147.1,94.4"/>
<path class="wa" d="M95.7,94.6Q94.9,91.7 94.2,90.4Q93.5,89.1 92.7,87.8Q91.9,86.6 91.6,85.1Q91.3,83.6 91.7,82.2Q92.0,80.7 93.2,79.8Q94.4,78.8 95.8,79.2Q97.3,79.5 97.8,80.9Q98.4,82.3 97.8,83.7L97.2,85.1"/><path class="w4" d="M95.7,94.6Q94.9,91.7 94.2,90.4Q93.5,89.1 92.7,87.8Q91.9,86.6 91.6,85.1Q91.3,83.6 91.7,82.2Q92.0,80.7 93.2,79.8Q94.4,78.8 95.8,79.2Q97.3,79.5 97.8,80.9Q98.4,82.3 97.8,83.7L97.2,85.1"/>
<path class="wa" d="M167.4,36.8Q164.4,36.2 163.2,35.4Q162.0,34.5 161.1,33.3Q160.1,32.1 159.3,30.9Q158.5,29.6 157.5,28.5Q156.5,27.4 155.2,26.7Q153.8,26.0 152.3,26.0L150.8,26.1"/><path class="w1" d="M167.4,36.8Q164.4,36.2 163.2,35.4Q162.0,34.5 161.1,33.3Q160.1,32.1 159.3,30.9Q158.5,29.6 157.5,28.5Q156.5,27.4 155.2,26.7Q153.8,26.0 152.3,26.0L150.8,26.1"/>
<path class="wa" d="M144.9,96.1Q145.3,99.1 144.3,100.1Q143.2,101.2 141.8,101.7Q140.4,102.1 138.9,102.0L137.4,102.0"/><path class="w4" d="M144.9,96.1Q145.3,99.1 144.3,100.1Q143.2,101.2 141.8,101.7Q140.4,102.1 138.9,102.0L137.4,102.0"/>
<path class="wa" d="M138.0,90.5Q139.2,87.8 139.6,86.4Q140.0,84.9 140.1,83.4Q140.3,81.9 140.6,80.5Q140.9,79.0 141.8,77.8Q142.8,76.7 144.0,75.9L145.3,75.1"/><path class="w4" d="M138.0,90.5Q139.2,87.8 139.6,86.4Q140.0,84.9 140.1,83.4Q140.3,81.9 140.6,80.5Q140.9,79.0 141.8,77.8Q142.8,76.7 144.0,75.9L145.3,75.1"/>
<path class="wa" d="M146.6,68.5Q144.5,66.4 143.9,65.0Q143.3,63.6 143.6,62.2Q143.9,60.7 145.3,60.1L146.7,59.5"/><path class="w3" d="M146.6,68.5Q144.5,66.4 143.9,65.0Q143.3,63.6 143.6,62.2Q143.9,60.7 145.3,60.1L146.7,59.5"/>
<path class="wa" d="M175.2,88.8Q172.3,87.9 170.9,87.6Q169.4,87.3 167.9,87.4Q166.4,87.4 164.9,87.6Q163.4,87.7 162.2,88.6Q160.9,89.4 160.7,90.9Q160.5,92.4 161.1,93.8Q161.6,95.1 162.7,96.2L163.7,97.3"/><path class="w4" d="M175.2,88.8Q172.3,87.9 170.9,87.6Q169.4,87.3 167.9,87.4Q166.4,87.4 164.9,87.6Q163.4,87.7 162.2,88.6Q160.9,89.4 160.7,90.9Q160.5,92.4 161.1,93.8Q161.6,95.1 162.7,96.2L163.7,97.3"/>
<path class="wa" d="M162.1,70.2Q160.3,72.6 160.1,74.1Q160.0,75.6 160.4,77.0Q160.8,78.5 161.8,79.6L162.8,80.7"/><path class="w3" d="M162.1,70.2Q160.3,72.6 160.1,74.1Q160.0,75.6 160.4,77.0Q160.8,78.5 161.8,79.6L162.8,80.7"/>
<path class="wa" d="M144.0,59.7Q143.8,56.7 143.1,55.4Q142.3,54.1 140.8,53.9Q139.3,53.6 138.3,54.7Q137.2,55.8 137.5,57.3L137.7,58.7"/><path class="w1" d="M144.0,59.7Q143.8,56.7 143.1,55.4Q142.3,54.1 140.8,53.9Q139.3,53.6 138.3,54.7Q137.2,55.8 137.5,57.3L137.7,58.7"/>
<path class="wa" d="M174.9,37.9Q173.8,40.7 172.9,41.9Q172.0,43.1 170.7,43.9Q169.4,44.7 167.9,44.8Q166.4,45.0 164.9,45.1Q163.5,45.2 162.0,45.0Q160.5,44.9 159.3,43.9Q158.2,42.9 158.3,41.4L158.4,40.0"/><path class="w2" d="M174.9,37.9Q173.8,40.7 172.9,41.9Q172.0,43.1 170.7,43.9Q169.4,44.7 167.9,44.8Q166.4,45.0 164.9,45.1Q163.5,45.2 162.0,45.0Q160.5,44.9 159.3,43.9Q158.2,42.9 158.3,41.4L158.4,40.0"/>
<path class="wa" d="M105.9,77.8Q108.9,78.3 110.0,79.3Q111.2,80.3 112.0,81.5Q112.8,82.8 113.8,83.9Q114.8,85.0 116.2,85.5Q117.6,86.0 119.0,85.5L120.5,85.1"/><path class="w3" d="M105.9,77.8Q108.9,78.3 110.0,79.3Q111.2,80.3 112.0,81.5Q112.8,82.8 113.8,83.9Q114.8,85.0 116.2,85.5Q117.6,86.0 119.0,85.5L120.5,85.1"/>
<path class="wa" d="M147.1,27.5Q144.1,27.8 142.7,28.2Q141.3,28.7 140.2,29.8Q139.2,30.9 139.4,32.4Q139.6,33.9 140.9,34.6L142.2,35.3"/><path class="w0" d="M147.1,27.5Q144.1,27.8 142.7,28.2Q141.3,28.7 140.2,29.8Q139.2,30.9 139.4,32.4Q139.6,33.9 140.9,34.6L142.2,35.3"/>
<path class="wa" d="M123.5,25.2Q126.3,26.1 127.7,26.7Q129.1,27.2 130.5,27.7Q131.9,28.2 133.2,29.1Q134.4,29.9 135.2,31.2Q135.9,32.5 136.7,33.8Q137.4,35.1 137.8,36.6Q138.2,38.0 137.8,39.4Q137.3,40.9 136.4,42.1L135.5,43.3"/><path class="w0" d="M123.5,25.2Q126.3,26.1 127.7,26.7Q129.1,27.2 130.5,27.7Q131.9,28.2 133.2,29.1Q134.4,29.9 135.2,31.2Q135.9,32.5 136.7,33.8Q137.4,35.1 137.8,36.6Q138.2,38.0 137.8,39.4Q137.3,40.9 136.4,42.1L135.5,43.3"/>
<path class="wa" d="M180.7,92.8Q177.7,93.2 176.5,94.1Q175.3,95.0 174.8,96.4Q174.3,97.8 174.1,99.3L173.8,100.7"/><path class="w4" d="M180.7,92.8Q177.7,93.2 176.5,94.1Q175.3,95.0 174.8,96.4Q174.3,97.8 174.1,99.3L173.8,100.7"/>
<path class="wa" d="M97.7,74.6Q95.2,72.9 94.2,71.8Q93.3,70.6 92.5,69.4Q91.7,68.1 91.5,66.6Q91.3,65.1 91.1,63.6Q90.9,62.1 90.2,60.9Q89.4,59.6 88.4,58.5Q87.4,57.4 86.0,56.6L84.7,55.9"/><path class="w3" d="M97.7,74.6Q95.2,72.9 94.2,71.8Q93.3,70.6 92.5,69.4Q91.7,68.1 91.5,66.6Q91.3,65.1 91.1,63.6Q90.9,62.1 90.2,60.9Q89.4,59.6 88.4,58.5Q87.4,57.4 86.0,56.6L84.7,55.9"/>
<path class="wa" d="M95.4,36.3Q98.2,35.2 99.7,35.4Q101.2,35.5 102.4,36.4Q103.6,37.4 104.1,38.8Q104.6,40.2 103.9,41.5Q103.2,42.8 101.8,43.4L100.4,44.0"/><path class="w0" d="M95.4,36.3Q98.2,35.2 99.7,35.4Q101.2,35.5 102.4,36.4Q103.6,37.4 104.1,38.8Q104.6,40.2 103.9,41.5Q103.2,42.8 101.8,43.4L100.4,44.0"/>
<path class="wa" d="M113.1,30.8Q114.6,33.4 114.7,34.9Q114.8,36.4 113.9,37.6Q113.0,38.8 111.5,38.7Q110.0,38.7 109.0,37.6Q108.0,36.5 107.8,35.0Q107.6,33.5 108.1,32.1Q108.6,30.7 109.2,29.3L109.8,27.9"/><path class="w0" d="M113.1,30.8Q114.6,33.4 114.7,34.9Q114.8,36.4 113.9,37.6Q113.0,38.8 111.5,38.7Q110.0,38.7 109.0,37.6Q108.0,36.5 107.8,35.0Q107.6,33.5 108.1,32.1Q108.6,30.7 109.2,29.3L109.8,27.9"/>
<path class="wa" d="M99.8,41.2Q97.9,43.4 96.4,43.8Q95.0,44.2 93.6,43.5Q92.2,42.9 91.6,41.5Q90.9,40.2 91.1,38.7Q91.2,37.2 92.3,36.2Q93.3,35.1 94.8,35.4L96.3,35.6"/><path class="w0" d="M99.8,41.2Q97.9,43.4 96.4,43.8Q95.0,44.2 93.6,43.5Q92.2,42.9 91.6,41.5Q90.9,40.2 91.1,38.7Q91.2,37.2 92.3,36.2Q93.3,35.1 94.8,35.4L96.3,35.6"/>
<path class="wa" d="M142.9,78.9Q140.6,80.8 139.6,81.9Q138.6,83.0 137.5,84.0Q136.4,85.1 135.7,86.4L134.9,87.6"/><path class="w4" d="M142.9,78.9Q140.6,80.8 139.6,81.9Q138.6,83.0 137.5,84.0Q136.4,85.1 135.7,86.4L134.9,87.6"/>
<path class="wa" d="M135.0,97.5Q132.0,97.7 130.5,97.7Q129.0,97.6 127.6,98.1Q126.2,98.6 124.9,99.3Q123.6,100.1 122.3,100.8L121.0,101.6"/><path class="w4" d="M135.0,97.5Q132.0,97.7 130.5,97.7Q129.0,97.6 127.6,98.1Q126.2,98.6 124.9,99.3Q123.6,100.1 122.3,100.8L121.0,101.6"/>
<path class="wa" d="M146.9,52.3Q144.2,50.9 143.1,49.9Q142.0,48.9 141.1,47.7Q140.3,46.4 140.3,44.9Q140.4,43.4 141.5,42.4Q142.6,41.4 144.1,41.7L145.5,42.0"/><path class="w2" d="M146.9,52.3Q144.2,50.9 143.1,49.9Q142.0,48.9 141.1,47.7Q140.3,46.4 140.3,44.9Q140.4,43.4 141.5,42.4Q142.6,41.4 144.1,41.7L145.5,42.0"/>
<path class="wa" d="M112.2,61.0Q109.4,59.9 108.1,60.6Q106.8,61.3 106.6,62.8Q106.4,64.2 107.5,65.3Q108.6,66.3 110.1,66.1Q111.6,66.0 112.3,64.7L113.0,63.4"/><path class="w2" d="M112.2,61.0Q109.4,59.9 108.1,60.6Q106.8,61.3 106.6,62.8Q106.4,64.2 107.5,65.3Q108.6,66.3 110.1,66.1Q111.6,66.0 112.3,64.7L113.0,63.4"/>
<path class="wa" d="M121.6,90.7Q118.7,91.3 117.2,91.1Q115.8,90.8 114.5,89.9Q113.3,89.0 113.0,87.5Q112.7,86.1 113.1,84.6Q113.4,83.2 114.2,81.9Q115.0,80.6 115.8,79.4Q116.7,78.1 117.4,76.8L118.2,75.5"/><path class="w4" d="M121.6,90.7Q118.7,91.3 117.2,91.1Q115.8,90.8 114.5,89.9Q113.3,89.0 113.0,87.5Q112.7,86.1 113.1,84.6Q113.4,83.2 114.2,81.9Q115.0,80.6 115.8,79.4Q116.7,78.1 117.4,76.8L118.2,75.5"/>
<path class="wa" d="M152.8,51.9Q151.0,49.5 149.8,48.6Q148.5,47.8 147.2,47.2Q145.8,46.6 144.3,46.8Q142.8,46.9 141.8,48.1Q140.8,49.2 141.2,50.6Q141.6,52.1 143.0,52.7Q144.4,53.2 145.9,53.0L147.3,52.7"/><path class="w2" d="M152.8,51.9Q151.0,49.5 149.8,48.6Q148.5,47.8 147.2,47.2Q145.8,46.6 144.3,46.8Q142.8,46.9 141.8,48.1Q140.8,49.2 141.2,50.6Q141.6,52.1 143.0,52.7Q144.4,53.2 145.9,53.0L147.3,52.7"/>
<path class="wa" d="M174.2,89.2Q174.9,86.3 175.8,85.1Q176.7,84.0 177.8,82.9Q178.9,81.8 180.3,81.4Q181.7,80.9 183.2,81.0Q184.7,81.2 186.1,81.8Q187.4,82.4 188.3,83.6Q189.2,84.9 189.6,86.3L190.0,87.7"/><path class="w4" d="M174.2,89.2Q174.9,86.3 175.8,85.1Q176.7,84.0 177.8,82.9Q178.9,81.8 180.3,81.4Q181.7,80.9 183.2,81.0Q184.7,81.2 186.1,81.8Q187.4,82.4 188.3,83.6Q189.2,84.9 189.6,86.3L190.0,87.7"/>
<path class="wa" d="M102.7,76.8Q102.0,79.8 101.4,81.1Q100.7,82.4 100.0,83.8Q99.4,85.1 98.7,86.5L98.0,87.8"/><path class="w2" d="M102.7,76.8Q102.0,79.8 101.4,81.1Q100.7,82.4 100.0,83.8Q99.4,85.1 98.7,86.5L98.0,87.8"/>
<path class="wa" d="M113.1,32.4Q115.1,30.1 116.2,29.1Q117.3,28.1 118.6,27.3Q119.8,26.5 121.0,25.6Q122.2,24.7 123.0,23.4Q123.8,22.1 124.4,20.7Q124.9,19.3 124.5,17.9Q124.1,16.5 122.8,15.7L121.5,14.9"/><path class="w0" d="M113.1,32.4Q115.1,30.1 116.2,29.1Q117.3,28.1 118.6,27.3Q119.8,26.5 121.0,25.6Q122.2,24.7 123.0,23.4Q123.8,22.1 124.4,20.7Q124.9,19.3 124.5,17.9Q124.1,16.5 122.8,15.7L121.5,14.9"/>
</g>
<ellipse cx="140" cy="106" rx="48" ry="14" fill="#8a5545" opacity="0.22"/>
</g>
<rect x="99.40" y="49.40" width="10.40" height="10.80" fill="none" stroke="#2a2020" stroke-width="0.7" rx="0" />
<line x1="191.80" y1="70.60" x2="226.00" y2="70.60" stroke="#222" stroke-width="1.1" />
<line x1="248.80" y1="70.60" x2="349.50" y2="70.60" stroke="#222" stroke-width="1.1" />
<path d="M233,43 L233,84.2 L239.5,92.6 L246,84.2 L246,43 Z" fill="url(#tubeg)" stroke="#b4c6d8" stroke-width="0.6" />
<path d="M233.5,64.7 L233.5,84 L239.5,91.8 L245.5,84 L245.5,64.7 Z" fill="#aed8ef" stroke="none" stroke-width="1" opacity="0.85"/>
<ellipse cx="239.4" cy="75.4" rx="4.0" ry="7.6" fill="#e9a48e" stroke="#d98c78" stroke-width="0.4"/>
<path d="M237.5,70 C239,73 238,77 239.5,81" fill="none" stroke="#d18672" stroke-width="0.5" />
<line x1="238.00" y1="47.50" x2="244.50" y2="47.50" stroke="#b9c9d8" stroke-width="0.45" />
<line x1="238.00" y1="51.00" x2="244.50" y2="51.00" stroke="#b9c9d8" stroke-width="0.45" />
<line x1="238.00" y1="54.50" x2="244.50" y2="54.50" stroke="#b9c9d8" stroke-width="0.45" />
<line x1="238.00" y1="58.00" x2="244.50" y2="58.00" stroke="#b9c9d8" stroke-width="0.45" />
<line x1="238.00" y1="61.50" x2="244.50" y2="61.50" stroke="#b9c9d8" stroke-width="0.45" />
<rect x="231.60" y="30.90" width="16.00" height="13.10" fill="#e2782e" stroke="none" stroke-width="1" rx="1.8" />
<rect x="231.60" y="40.60" width="16.00" height="3.40" fill="#c9631c" stroke="none" stroke-width="1" rx="0.9" />
<ellipse cx="239.6" cy="32.2" rx="7" ry="1.3" fill="#ee9048" opacity="0.7"/>
<linearGradient id="colfade" x1="0" y1="0" x2="0" y2="1"><stop offset="0.15" stop-color="#fff" stop-opacity="1"/><stop offset="1" stop-color="#fff" stop-opacity="0"/></linearGradient>
<linearGradient id="colg2" x1="0" x2="1"><stop offset="0" stop-color="#d3dee6"/><stop offset="0.45" stop-color="#f1f5f8"/><stop offset="1" stop-color="#d0dbe4"/></linearGradient>
<rect x="365.20" y="95.00" width="3.60" height="11.50" fill="#e6ebef" stroke="#c5ced6" stroke-width="0.5" rx="1.2" />
<path d="M360.4,22 L360.4,94 C360.4,96.5 362,97 364,97 L370.2,97 C372.2,97 373.8,96.5 373.8,94 L373.8,22 Z" fill="url(#colg2)" stroke="#c9d3db" stroke-width="0.5" />
<path d="M361,66.4 L361,93.8 C361,95.6 362.3,96.2 364,96.2 L370.2,96.2 C371.9,96.2 373.2,95.6 373.2,93.8 L373.2,66.4 Z" fill="#f6c2c6" stroke="none" stroke-width="1" />
<rect x="359.50" y="21.00" width="15.50" height="13.00" fill="url(#colfade)" stroke="none" stroke-width="1" rx="0" />
<line x1="393.00" y1="70.60" x2="569.00" y2="70.60" stroke="#111" stroke-width="1" />
<path d="M565,67 L570,70.6 L565,74.2" fill="none" stroke="#111" stroke-width="1.1" />
<path d="M467.3,72.5 L467.6,76.6 L470.0,77.2 L472.5,76.4 L474.5,77.4 L476.0,76.0 L476.6,72.3 L477.8,78.2 L478.9,72.3 L480.0,78.2 L481.2,72.3 L482.3,78.2 L483.5,72.3 L484.6,78.2 L485.8,72.3 L486.9,78.2 L488.1,72.3 L489.2,78.2 L490.4,72.3 L491.5,78.2 L493.5,73.5 L494.6,76.8 L495.8,73.2 L497.0,76.5 L498.2,72.5 L499.2,76.0 L500.4,79.2 L501.5,74.5 L503.0,77.0 L504.5,75.2 L505.6,73.3 L507.1,76.8 L508.6,73.5 L510.1,76.7 L511.6,73.4 L513.1,77.0 L514.6,73.0 L516.1,77.1 L517.6,73.0 L519.1,77.0 L520.6,73.1 L522.1,76.7 L523.6,73.3 L525.1,77.4 L526.0,75.0 L527.3,76.6" fill="none" stroke="#000" stroke-width="1.15" stroke-linejoin="round" stroke-linecap="round"/>
<line x1="477.60" y1="52.00" x2="477.60" y2="74.00" stroke="#000" stroke-width="1.7" />
<line x1="486.30" y1="33.90" x2="486.30" y2="74.00" stroke="#000" stroke-width="1.7" />
<line x1="499.80" y1="20.90" x2="499.80" y2="74.00" stroke="#000" stroke-width="1.7" />
<line x1="509.40" y1="58.30" x2="509.40" y2="74.00" stroke="#000" stroke-width="1.7" />
<line x1="521.10" y1="62.80" x2="521.10" y2="74.00" stroke="#000" stroke-width="1.7" />
<line x1="466.70" y1="70.60" x2="527.80" y2="70.60" stroke="#ff1a1a" stroke-width="1.8" />
<ellipse cx="477.6" cy="52" rx="3.6" ry="4.1" fill="#f7941d"/>
<ellipse cx="486.3" cy="33.9" rx="3.6" ry="4.1" fill="#0aa84f"/>
<ellipse cx="499.8" cy="20.9" rx="3.6" ry="4.1" fill="#22b5ea"/>
<ellipse cx="509.4" cy="58.3" rx="3.6" ry="4.1" fill="#0b17c8"/>
<ellipse cx="521.1" cy="62.8" rx="3.6" ry="4.1" fill="#7d3fb0"/>
<line x1="586.50" y1="40.20" x2="586.50" y2="82.00" stroke="#000" stroke-width="1.4" />
<line x1="585.80" y1="81.40" x2="621.40" y2="81.40" stroke="#000" stroke-width="1.4" />
<line x1="586.50" y1="41.50" x2="588.80" y2="41.50" stroke="#000" stroke-width="0.8" />
<line x1="586.50" y1="46.00" x2="588.80" y2="46.00" stroke="#000" stroke-width="0.8" />
<line x1="586.50" y1="50.30" x2="588.80" y2="50.30" stroke="#000" stroke-width="0.8" />
<line x1="586.50" y1="54.40" x2="588.80" y2="54.40" stroke="#000" stroke-width="0.8" />
<line x1="586.50" y1="58.90" x2="588.80" y2="58.90" stroke="#000" stroke-width="0.8" />
<line x1="586.50" y1="63.00" x2="588.80" y2="63.00" stroke="#000" stroke-width="0.8" />
<line x1="586.50" y1="67.20" x2="588.80" y2="67.20" stroke="#000" stroke-width="0.8" />
<line x1="586.50" y1="71.30" x2="588.80" y2="71.30" stroke="#000" stroke-width="0.8" />
<line x1="586.50" y1="75.80" x2="588.80" y2="75.80" stroke="#000" stroke-width="0.8" />
<line x1="591.40" y1="81.40" x2="591.40" y2="79.20" stroke="#000" stroke-width="0.8" />
<line x1="595.00" y1="81.40" x2="595.00" y2="79.20" stroke="#000" stroke-width="0.8" />
<line x1="598.60" y1="81.40" x2="598.60" y2="79.20" stroke="#000" stroke-width="0.8" />
<line x1="602.10" y1="81.40" x2="602.10" y2="79.20" stroke="#000" stroke-width="0.8" />
<line x1="605.70" y1="81.40" x2="605.70" y2="79.20" stroke="#000" stroke-width="0.8" />
<line x1="609.20" y1="81.40" x2="609.20" y2="79.20" stroke="#000" stroke-width="0.8" />
<line x1="612.80" y1="81.40" x2="612.80" y2="79.20" stroke="#000" stroke-width="0.8" />
<line x1="616.30" y1="81.40" x2="616.30" y2="79.20" stroke="#000" stroke-width="0.8" />
<line x1="619.90" y1="81.40" x2="619.90" y2="79.20" stroke="#000" stroke-width="0.8" />
<line x1="589.70" y1="77.60" x2="621.20" y2="40.20" stroke="#000" stroke-width="1.1" />
<ellipse cx="591.9" cy="75.3" rx="1.35" ry="1.65" fill="#fff" stroke="#000" stroke-width="1"/>
<ellipse cx="592.5" cy="69.6" rx="1.35" ry="1.65" fill="#fff" stroke="#000" stroke-width="1"/>
<ellipse cx="594.4" cy="61.7" rx="1.35" ry="1.65" fill="#fff" stroke="#000" stroke-width="1"/>
<ellipse cx="599.6" cy="56.2" rx="1.35" ry="1.65" fill="#fff" stroke="#000" stroke-width="1"/>
<ellipse cx="599.6" cy="66.6" rx="1.35" ry="1.65" fill="#fff" stroke="#000" stroke-width="1"/>
<ellipse cx="603.6" cy="61.1" rx="1.35" ry="1.65" fill="#fff" stroke="#000" stroke-width="1"/>
<ellipse cx="606.6" cy="54.4" rx="1.35" ry="1.65" fill="#fff" stroke="#000" stroke-width="1"/>
<ellipse cx="607.4" cy="68.2" rx="1.35" ry="1.65" fill="#fff" stroke="#000" stroke-width="1"/>
<ellipse cx="609.2" cy="46.7" rx="1.35" ry="1.65" fill="#fff" stroke="#000" stroke-width="1"/>
<ellipse cx="610.4" cy="58.9" rx="1.35" ry="1.65" fill="#fff" stroke="#000" stroke-width="1"/>
<ellipse cx="612.2" cy="51.2" rx="1.35" ry="1.65" fill="#fff" stroke="#000" stroke-width="1"/>
<ellipse cx="615.2" cy="44" rx="1.35" ry="1.65" fill="#fff" stroke="#000" stroke-width="1"/>
<ellipse cx="617.5" cy="48.9" rx="1.35" ry="1.65" fill="#fff" stroke="#000" stroke-width="1"/>
<ellipse cx="619.9" cy="41.6" rx="1.35" ry="1.65" fill="#fff" stroke="#000" stroke-width="1"/>
<text x="9.30" y="116.23" font-size="10.5" text-anchor="middle" font-weight="normal" fill="#000" >b</text>
<text x="4.50" y="165.91" font-size="8.2" text-anchor="middle" font-weight="normal" fill="#000" transform="rotate(-90 4.50 163.00)" >Concentration</text>
<text x="15.50" y="165.91" font-size="8.2" text-anchor="middle" font-weight="normal" fill="#000" transform="rotate(-90 15.50 163.00)" >(particules /mL)</text>
<rect x="58.40" y="184.80" width="11.20" height="14.50" fill="#0505f2" stroke="#000" stroke-width="0.9" rx="0" />
<rect x="75.70" y="179.40" width="11.20" height="19.90" fill="#fcd7db" stroke="#000" stroke-width="0.9" rx="0" />
<rect x="92.80" y="169.40" width="11.20" height="29.90" fill="#f59292" stroke="#000" stroke-width="0.9" rx="0" />
<rect x="109.80" y="184.10" width="11.00" height="15.20" fill="#f20d0d" stroke="#000" stroke-width="0.9" rx="0" />
<line x1="64.00" y1="181.50" x2="64.00" y2="188.00" stroke="#222" stroke-width="0.9" />
<line x1="61.10" y1="181.50" x2="66.90" y2="181.50" stroke="#222" stroke-width="0.9" />
<line x1="81.30" y1="175.50" x2="81.30" y2="183.00" stroke="#222" stroke-width="0.9" />
<line x1="78.40" y1="175.50" x2="84.20" y2="175.50" stroke="#222" stroke-width="0.9" />
<line x1="98.40" y1="158.00" x2="98.40" y2="181.00" stroke="#222" stroke-width="0.9" />
<line x1="95.50" y1="158.00" x2="101.30" y2="158.00" stroke="#222" stroke-width="0.9" />
<line x1="115.30" y1="180.50" x2="115.30" y2="188.00" stroke="#222" stroke-width="0.9" />
<line x1="112.40" y1="180.50" x2="118.20" y2="180.50" stroke="#222" stroke-width="0.9" />
<circle cx="63.56" cy="180.00" r="1.80" fill="#fff" stroke="#000" stroke-width="1.1" />
<circle cx="64.42" cy="183.50" r="1.80" fill="#fff" stroke="#000" stroke-width="1.1" />
<circle cx="64.32" cy="186.50" r="1.80" fill="#fff" stroke="#000" stroke-width="1.1" />
<circle cx="63.71" cy="190.00" r="1.80" fill="#fff" stroke="#000" stroke-width="1.1" />
<circle cx="82.03" cy="173.00" r="1.80" fill="#fff" stroke="#000" stroke-width="1.1" />
<circle cx="82.02" cy="180.50" r="1.80" fill="#fff" stroke="#000" stroke-width="1.1" />
<circle cx="80.59" cy="185.00" r="1.80" fill="#fff" stroke="#000" stroke-width="1.1" />
<circle cx="98.14" cy="137.00" r="1.80" fill="#fff" stroke="#000" stroke-width="1.1" />
<circle cx="98.44" cy="170.50" r="1.80" fill="#fff" stroke="#000" stroke-width="1.1" />
<circle cx="98.27" cy="181.00" r="1.80" fill="#fff" stroke="#000" stroke-width="1.1" />
<circle cx="98.50" cy="187.00" r="1.80" fill="#fff" stroke="#000" stroke-width="1.1" />
<circle cx="114.98" cy="164.50" r="1.80" fill="#fff" stroke="#000" stroke-width="1.1" />
<circle cx="114.82" cy="176.50" r="1.80" fill="#fff" stroke="#000" stroke-width="1.1" />
<circle cx="115.18" cy="181.00" r="1.80" fill="#fff" stroke="#000" stroke-width="1.1" />
<circle cx="114.89" cy="184.50" r="1.80" fill="#fff" stroke="#000" stroke-width="1.1" />
<circle cx="114.78" cy="188.50" r="1.80" fill="#fff" stroke="#000" stroke-width="1.1" />
<circle cx="115.18" cy="192.50" r="1.80" fill="#fff" stroke="#000" stroke-width="1.1" />
<line x1="53.10" y1="124.70" x2="53.10" y2="199.90" stroke="#000" stroke-width="1.4" />
<line x1="52.40" y1="199.30" x2="127.00" y2="199.30" stroke="#000" stroke-width="1.3" />
<line x1="48.20" y1="125.20" x2="53.10" y2="125.20" stroke="#000" stroke-width="1.1" />
<text x="47.7" y="128.00" font-size="8.1" text-anchor="end">6×10<tspan font-size="5" dy="-3.1">12</tspan></text>
<line x1="48.20" y1="149.90" x2="53.10" y2="149.90" stroke="#000" stroke-width="1.1" />
<text x="47.7" y="152.70" font-size="8.1" text-anchor="end">4×10<tspan font-size="5" dy="-3.1">12</tspan></text>
<line x1="48.20" y1="174.60" x2="53.10" y2="174.60" stroke="#000" stroke-width="1.1" />
<text x="47.7" y="177.40" font-size="8.1" text-anchor="end">2×10<tspan font-size="5" dy="-3.1">12</tspan></text>
<line x1="48.20" y1="199.30" x2="53.10" y2="199.30" stroke="#000" stroke-width="1.1" />
<text x="47.50" y="202.18" font-size="8.1" text-anchor="end" font-weight="normal" fill="#000" >0</text>
<text x="150.40" y="117.03" font-size="10.5" text-anchor="middle" font-weight="normal" fill="#000" >c</text>
<text x="150.60" y="166.45" font-size="8.3" text-anchor="middle" font-weight="normal" fill="#000" transform="rotate(-90 150.60 163.50)" >Number of proteins</text>
<text x="159.60" y="166.45" font-size="8.3" text-anchor="middle" font-weight="normal" fill="#000" transform="rotate(-90 159.60 163.50)" >detected</text>
<rect x="190.40" y="143.30" width="10.40" height="56.00" fill="#0505f2" stroke="#000" stroke-width="0.9" rx="0" />
<rect x="206.70" y="144.20" width="11.00" height="55.10" fill="#fcd7db" stroke="#000" stroke-width="0.9" rx="0" />
<rect x="223.60" y="143.60" width="10.70" height="55.70" fill="#f59292" stroke="#000" stroke-width="0.9" rx="0" />
<rect x="239.90" y="146.80" width="10.70" height="52.50" fill="#f20d0d" stroke="#000" stroke-width="0.9" rx="0" />
<circle cx="195.72" cy="140.00" r="1.80" fill="#fff" stroke="#000" stroke-width="1.1" />
<circle cx="195.84" cy="142.50" r="1.80" fill="#fff" stroke="#000" stroke-width="1.1" />
<circle cx="195.90" cy="144.50" r="1.80" fill="#fff" stroke="#000" stroke-width="1.1" />
<circle cx="212.49" cy="140.00" r="1.80" fill="#fff" stroke="#000" stroke-width="1.1" />
<circle cx="212.52" cy="143.50" r="1.80" fill="#fff" stroke="#000" stroke-width="1.1" />
<circle cx="212.19" cy="145.00" r="1.80" fill="#fff" stroke="#000" stroke-width="1.1" />
<circle cx="228.82" cy="138.50" r="1.80" fill="#fff" stroke="#000" stroke-width="1.1" />
<circle cx="228.65" cy="142.00" r="1.80" fill="#fff" stroke="#000" stroke-width="1.1" />
<circle cx="229.15" cy="144.50" r="1.80" fill="#fff" stroke="#000" stroke-width="1.1" />
<circle cx="228.57" cy="146.00" r="1.80" fill="#fff" stroke="#000" stroke-width="1.1" />
<circle cx="244.92" cy="140.50" r="1.80" fill="#fff" stroke="#000" stroke-width="1.1" />
<circle cx="245.95" cy="143.00" r="1.80" fill="#fff" stroke="#000" stroke-width="1.1" />
<circle cx="244.78" cy="145.00" r="1.80" fill="#fff" stroke="#000" stroke-width="1.1" />
<circle cx="245.59" cy="147.00" r="1.80" fill="#fff" stroke="#000" stroke-width="1.1" />
<circle cx="244.72" cy="149.00" r="1.80" fill="#fff" stroke="#000" stroke-width="1.1" />
<circle cx="244.95" cy="151.00" r="1.80" fill="#fff" stroke="#000" stroke-width="1.1" />
<circle cx="246.00" cy="154.00" r="1.80" fill="#fff" stroke="#000" stroke-width="1.1" />
<line x1="184.20" y1="126.80" x2="184.20" y2="199.90" stroke="#000" stroke-width="1.4" />
<line x1="183.50" y1="199.30" x2="257.00" y2="199.30" stroke="#000" stroke-width="1.3" />
<line x1="179.80" y1="127.60" x2="184.20" y2="127.60" stroke="#000" stroke-width="1.1" />
<text x="178.90" y="130.26" font-size="7.5" text-anchor="end" font-weight="normal" fill="#000" >2000</text>
<line x1="179.80" y1="145.30" x2="184.20" y2="145.30" stroke="#000" stroke-width="1.1" />
<text x="178.90" y="147.96" font-size="7.5" text-anchor="end" font-weight="normal" fill="#000" >1500</text>
<line x1="179.80" y1="163.10" x2="184.20" y2="163.10" stroke="#000" stroke-width="1.1" />
<text x="178.90" y="165.76" font-size="7.5" text-anchor="end" font-weight="normal" fill="#000" >1000</text>
<line x1="179.80" y1="181.20" x2="184.20" y2="181.20" stroke="#000" stroke-width="1.1" />
<text x="178.90" y="183.86" font-size="7.5" text-anchor="end" font-weight="normal" fill="#000" >500</text>
<line x1="179.80" y1="199.30" x2="184.20" y2="199.30" stroke="#000" stroke-width="1.1" />
<text x="178.90" y="201.96" font-size="7.5" text-anchor="end" font-weight="normal" fill="#000" >0</text>
<rect x="263.90" y="121.30" width="11.00" height="6.00" fill="#0505f2" stroke="none" stroke-width="1" rx="0" />
<text x="280.80" y="127.23" font-size="8.25" text-anchor="start" font-weight="normal" fill="#000" >NC Braak 0-II</text>
<rect x="263.90" y="134.65" width="11.00" height="6.00" fill="#fcd7db" stroke="none" stroke-width="1" rx="0" />
<text x="280.80" y="140.58" font-size="8.25" text-anchor="start" font-weight="normal" fill="#000" >AD Braak 0-II</text>
<rect x="263.90" y="148.00" width="11.00" height="6.00" fill="#f59292" stroke="none" stroke-width="1" rx="0" />
<text x="280.80" y="153.93" font-size="8.25" text-anchor="start" font-weight="normal" fill="#000" >AD Braak III-IV</text>
<rect x="263.90" y="161.35" width="11.00" height="6.00" fill="#f20d0d" stroke="none" stroke-width="1" rx="0" />
<text x="280.80" y="167.28" font-size="8.25" text-anchor="start" font-weight="normal" fill="#000" >AD Braak V-VI</text>
<rect x="374.50" y="119.60" width="69.90" height="105.70" fill="#fae2f7" stroke="none" stroke-width="1" rx="0" />
<line x1="377.00" y1="172.80" x2="444.00" y2="172.80" stroke="#b9a" stroke-width="0.7" stroke-dasharray="0.9 5.6"/>
<line x1="374.10" y1="119.60" x2="374.10" y2="225.80" stroke="#666" stroke-width="1.2" />
<line x1="373.50" y1="225.30" x2="444.50" y2="225.30" stroke="#666" stroke-width="1.1" />
<line x1="371.20" y1="120.00" x2="374.10" y2="120.00" stroke="#333" stroke-width="1" />
<text x="370.30" y="122.70" font-size="7.6" text-anchor="end" font-weight="normal" fill="#000" >0.6</text>
<line x1="371.20" y1="137.60" x2="374.10" y2="137.60" stroke="#333" stroke-width="1" />
<text x="370.30" y="140.30" font-size="7.6" text-anchor="end" font-weight="normal" fill="#000" >0.4</text>
<line x1="371.20" y1="155.20" x2="374.10" y2="155.20" stroke="#333" stroke-width="1" />
<text x="370.30" y="157.90" font-size="7.6" text-anchor="end" font-weight="normal" fill="#000" >0.2</text>
<line x1="371.20" y1="172.80" x2="374.10" y2="172.80" stroke="#333" stroke-width="1" />
<text x="370.30" y="175.50" font-size="7.6" text-anchor="end" font-weight="normal" fill="#000" >0.0</text>
<line x1="371.20" y1="190.40" x2="374.10" y2="190.40" stroke="#333" stroke-width="1" />
<text x="370.30" y="193.10" font-size="7.6" text-anchor="end" font-weight="normal" fill="#000" >-0.2</text>
<line x1="371.20" y1="207.90" x2="374.10" y2="207.90" stroke="#333" stroke-width="1" />
<text x="370.30" y="210.60" font-size="7.6" text-anchor="end" font-weight="normal" fill="#000" >-0.4</text>
<line x1="371.20" y1="225.30" x2="374.10" y2="225.30" stroke="#333" stroke-width="1" />
<text x="370.30" y="228.00" font-size="7.6" text-anchor="end" font-weight="normal" fill="#000" >-0.6</text>
<text x="350.70" y="174.38" font-size="8.1" text-anchor="middle" font-weight="normal" fill="#000" transform="rotate(-90 350.70 171.50)" >Eigenvalues</text>
<text x="351.80" y="116.23" font-size="10.5" text-anchor="middle" font-weight="normal" fill="#000" >e</text>
<line x1="384.40" y1="160.20" x2="384.40" y2="178.30" stroke="#1a1a1a" stroke-width="0.85" />
<rect x="378.95" y="160.70" width="10.90" height="15.10" fill="#0505f2" stroke="#000" stroke-width="0.9" rx="0" />
<text x="384.40" y="169.45" font-size="5.5" text-anchor="middle" font-weight="normal" fill="#000" >+</text>
<circle cx="384.40" cy="161.00" r="1.65" fill="#fff" stroke="#000" stroke-width="0.95" />
<circle cx="384.59" cy="163.00" r="1.65" fill="#fff" stroke="#000" stroke-width="0.95" />
<circle cx="385.76" cy="169.00" r="1.65" fill="#fff" stroke="#000" stroke-width="0.95" />
<circle cx="384.40" cy="178.30" r="1.65" fill="#fff" stroke="#000" stroke-width="0.95" />
<line x1="400.70" y1="138.10" x2="400.70" y2="176.00" stroke="#1a1a1a" stroke-width="0.85" />
<line x1="395.25" y1="169.00" x2="406.15" y2="169.00" stroke="#000" stroke-width="1.0" />
<text x="400.70" y="162.65" font-size="5.5" text-anchor="middle" font-weight="normal" fill="#000" >+</text>
<circle cx="400.70" cy="138.10" r="1.65" fill="#fff" stroke="#000" stroke-width="0.95" />
<circle cx="400.70" cy="169.00" r="1.65" fill="#fff" stroke="#000" stroke-width="0.95" />
<circle cx="400.70" cy="176.00" r="1.65" fill="#fff" stroke="#000" stroke-width="0.95" />
<line x1="416.60" y1="139.60" x2="416.60" y2="166.50" stroke="#1a1a1a" stroke-width="0.85" />
<rect x="411.15" y="142.20" width="10.90" height="20.50" fill="#f59292" stroke="#000" stroke-width="0.9" rx="0" />
<line x1="411.15" y1="151.40" x2="422.05" y2="151.40" stroke="#000" stroke-width="1.0" />
<text x="416.60" y="154.45" font-size="5.5" text-anchor="middle" font-weight="normal" fill="#000" >+</text>
<circle cx="416.60" cy="139.60" r="1.65" fill="#fff" stroke="#000" stroke-width="0.95" />
<circle cx="416.97" cy="149.00" r="1.65" fill="#fff" stroke="#000" stroke-width="0.95" />
<circle cx="416.97" cy="151.00" r="1.65" fill="#fff" stroke="#000" stroke-width="0.95" />
<circle cx="417.30" cy="153.00" r="1.65" fill="#fff" stroke="#000" stroke-width="0.95" />
<circle cx="416.60" cy="166.50" r="1.65" fill="#fff" stroke="#000" stroke-width="0.95" />
<line x1="432.90" y1="166.50" x2="432.90" y2="211.00" stroke="#1a1a1a" stroke-width="0.85" />
<rect x="427.45" y="176.00" width="10.90" height="24.40" fill="#f20d0d" stroke="#000" stroke-width="0.9" rx="0" />
<line x1="427.45" y1="179.60" x2="438.35" y2="179.60" stroke="#000" stroke-width="1.0" />
<text x="432.90" y="188.95" font-size="5.5" text-anchor="middle" font-weight="normal" fill="#000" >+</text>
<circle cx="432.90" cy="166.50" r="1.65" fill="#fff" stroke="#000" stroke-width="0.95" />
<circle cx="434.32" cy="174.50" r="1.65" fill="#fff" stroke="#000" stroke-width="0.95" />
<circle cx="433.96" cy="178.00" r="1.65" fill="#fff" stroke="#000" stroke-width="0.95" />
<circle cx="435.98" cy="178.00" r="1.65" fill="#fff" stroke="#000" stroke-width="0.95" />
<circle cx="431.30" cy="181.00" r="1.65" fill="#fff" stroke="#000" stroke-width="0.95" />
<circle cx="431.19" cy="187.00" r="1.65" fill="#fff" stroke="#000" stroke-width="0.95" />
<circle cx="434.54" cy="193.00" r="1.65" fill="#fff" stroke="#000" stroke-width="0.95" />
<circle cx="434.01" cy="198.50" r="1.65" fill="#fff" stroke="#000" stroke-width="0.95" />
<circle cx="431.52" cy="210.50" r="1.65" fill="#fff" stroke="#000" stroke-width="0.95" />
<circle cx="432.90" cy="211.00" r="1.65" fill="#fff" stroke="#000" stroke-width="0.95" />
<text x="409.00" y="234.75" font-size="8.3" text-anchor="middle" font-weight="normal" fill="#000" >M1: Mitochondria</text>
<rect x="453.10" y="119.60" width="70.50" height="105.70" fill="#d686ef" stroke="none" stroke-width="1" rx="0" />
<line x1="455.00" y1="183.30" x2="523.00" y2="183.30" stroke="#75508a" stroke-width="0.7" stroke-dasharray="0.9 5.6"/>
<line x1="453.10" y1="119.60" x2="453.10" y2="225.90" stroke="#2a1535" stroke-width="1.2" />
<line x1="452.50" y1="225.30" x2="523.60" y2="225.30" stroke="#2a1535" stroke-width="1.2" />
<text x="449.30" y="115.73" font-size="10.5" text-anchor="middle" font-weight="normal" fill="#000" >f</text>
<path d="M464.4,126.5 L464.4,123.8 L512.8,123.8 L512.8,180.5" fill="none" stroke="#2c2c44" stroke-width="0.8" />
<text x="487.70" y="123.22" font-size="5.7" text-anchor="middle" font-weight="normal" fill="#2c2c44" >0.0009</text>
<path d="M464.4,133.0 L464.4,130.1 L496.5,130.1 L496.5,157.0" fill="none" stroke="#2c2c44" stroke-width="0.8" />
<text x="480.20" y="129.62" font-size="5.7" text-anchor="middle" font-weight="normal" fill="#2c2c44" >0.0320</text>
<path d="M464.4,178.3 L464.4,206 L480.2,206 L480.2,200" fill="none" stroke="#2c2c44" stroke-width="0.8" />
<text x="472.30" y="205.02" font-size="5.7" text-anchor="middle" font-weight="normal" fill="#2c2c44" >0.0173</text>
<line x1="464.10" y1="135.10" x2="464.10" y2="163.50" stroke="#1a1a1a" stroke-width="0.85" />
<rect x="458.65" y="138.10" width="10.90" height="22.60" fill="#0505f2" stroke="#000" stroke-width="0.9" rx="0" />
<line x1="458.65" y1="150.20" x2="469.55" y2="150.20" stroke="#000" stroke-width="1.0" />
<text x="464.10" y="152.45" font-size="5.5" text-anchor="middle" font-weight="normal" fill="#000" >+</text>
<circle cx="464.10" cy="135.10" r="1.65" fill="#fff" stroke="#000" stroke-width="0.95" />
<circle cx="464.33" cy="148.50" r="1.65" fill="#fff" stroke="#000" stroke-width="0.95" />
<circle cx="464.26" cy="151.50" r="1.65" fill="#fff" stroke="#000" stroke-width="0.95" />
<circle cx="464.10" cy="163.50" r="1.65" fill="#fff" stroke="#000" stroke-width="0.95" />
<line x1="480.20" y1="172.00" x2="480.20" y2="196.60" stroke="#1a1a1a" stroke-width="0.85" />
<line x1="474.75" y1="192.60" x2="485.65" y2="192.60" stroke="#000" stroke-width="1.0" />
<text x="480.20" y="188.95" font-size="5.5" text-anchor="middle" font-weight="normal" fill="#000" >+</text>
<circle cx="480.20" cy="172.00" r="1.65" fill="#fff" stroke="#000" stroke-width="0.95" />
<circle cx="479.84" cy="192.60" r="1.65" fill="#fff" stroke="#000" stroke-width="0.95" />
<circle cx="480.20" cy="196.60" r="1.65" fill="#fff" stroke="#000" stroke-width="0.95" />
<line x1="496.50" y1="158.20" x2="496.50" y2="206.40" stroke="#1a1a1a" stroke-width="0.85" />
<rect x="491.05" y="160.70" width="10.90" height="37.90" fill="#f59292" stroke="#000" stroke-width="0.9" rx="0" />
<line x1="491.05" y1="172.30" x2="501.95" y2="172.30" stroke="#000" stroke-width="1.0" />
<circle cx="496.50" cy="158.20" r="1.65" fill="#fff" stroke="#000" stroke-width="0.95" />
<circle cx="497.22" cy="168.50" r="1.65" fill="#fff" stroke="#000" stroke-width="0.95" />
<circle cx="497.13" cy="176.50" r="1.65" fill="#fff" stroke="#000" stroke-width="0.95" />
<circle cx="496.50" cy="206.40" r="1.65" fill="#fff" stroke="#000" stroke-width="0.95" />
<line x1="512.80" y1="181.60" x2="512.80" y2="223.50" stroke="#1a1a1a" stroke-width="0.85" />
<rect x="507.35" y="182.10" width="10.90" height="31.40" fill="#f20d0d" stroke="#000" stroke-width="0.9" rx="0" />
<line x1="507.35" y1="194.10" x2="518.25" y2="194.10" stroke="#000" stroke-width="1.0" />
<circle cx="512.80" cy="182.00" r="1.65" fill="#fff" stroke="#000" stroke-width="0.95" />
<circle cx="515.18" cy="182.50" r="1.65" fill="#fff" stroke="#000" stroke-width="0.95" />
<circle cx="510.58" cy="185.50" r="1.65" fill="#fff" stroke="#000" stroke-width="0.95" />
<circle cx="516.29" cy="190.00" r="1.65" fill="#fff" stroke="#000" stroke-width="0.95" />
<circle cx="510.66" cy="198.00" r="1.65" fill="#fff" stroke="#000" stroke-width="0.95" />
<circle cx="514.00" cy="206.50" r="1.65" fill="#fff" stroke="#000" stroke-width="0.95" />
<circle cx="509.94" cy="213.50" r="1.65" fill="#fff" stroke="#000" stroke-width="0.95" />
<circle cx="514.60" cy="218.00" r="1.65" fill="#fff" stroke="#000" stroke-width="0.95" />
<circle cx="512.80" cy="223.50" r="1.65" fill="#fff" stroke="#000" stroke-width="0.95" />
<text x="488.50" y="235.25" font-size="8.3" text-anchor="middle" font-weight="normal" fill="#000" >M2: Cell Signaling</text>
<rect x="531.50" y="119.60" width="71.00" height="105.70" fill="#b3ead6" stroke="none" stroke-width="1" rx="0" />
<line x1="533.00" y1="183.30" x2="602.00" y2="183.30" stroke="#6a9" stroke-width="0.7" stroke-dasharray="0.9 5.6"/>
<line x1="531.60" y1="119.60" x2="531.60" y2="225.90" stroke="#0c2a20" stroke-width="1.3" />
<line x1="531.00" y1="225.30" x2="602.50" y2="225.30" stroke="#0c2a20" stroke-width="1.2" />
<text x="527.10" y="116.73" font-size="10.5" text-anchor="middle" font-weight="normal" fill="#000" >g</text>
<path d="M542.4,136.5 L542.4,130.1 L591.4,130.1 L591.4,182.8" fill="none" stroke="#15151f" stroke-width="0.95" />
<text x="566.80" y="127.62" font-size="5.7" text-anchor="middle" font-weight="normal" fill="#15151f" >0.0130</text>
<line x1="542.40" y1="138.10" x2="542.40" y2="194.10" stroke="#1a1a1a" stroke-width="0.85" />
<rect x="536.95" y="139.40" width="10.90" height="41.70" fill="#0505f2" stroke="#000" stroke-width="0.9" rx="0" />
<circle cx="542.40" cy="138.50" r="1.65" fill="#fff" stroke="#000" stroke-width="0.95" />
<circle cx="541.24" cy="139.00" r="1.65" fill="#fff" stroke="#000" stroke-width="0.95" />
<circle cx="542.08" cy="144.00" r="1.65" fill="#fff" stroke="#000" stroke-width="0.95" />
<circle cx="542.95" cy="154.00" r="1.65" fill="#fff" stroke="#000" stroke-width="0.95" />
<circle cx="542.40" cy="194.10" r="1.65" fill="#fff" stroke="#000" stroke-width="0.95" />
<line x1="558.80" y1="164.80" x2="558.80" y2="185.30" stroke="#1a1a1a" stroke-width="0.85" />
<line x1="553.35" y1="171.00" x2="564.25" y2="171.00" stroke="#000" stroke-width="1.0" />
<text x="558.80" y="171.45" font-size="5.5" text-anchor="middle" font-weight="normal" fill="#000" >+</text>
<circle cx="558.80" cy="164.80" r="1.65" fill="#fff" stroke="#000" stroke-width="0.95" />
<circle cx="558.57" cy="171.00" r="1.65" fill="#fff" stroke="#000" stroke-width="0.95" />
<circle cx="558.80" cy="185.30" r="1.65" fill="#fff" stroke="#000" stroke-width="0.95" />
<line x1="575.10" y1="148.20" x2="575.10" y2="197.40" stroke="#1a1a1a" stroke-width="0.85" />
<rect x="569.65" y="157.20" width="10.90" height="36.90" fill="#f59292" stroke="#000" stroke-width="0.9" rx="0" />
<line x1="569.65" y1="184.80" x2="580.55" y2="184.80" stroke="#000" stroke-width="1.0" />
<text x="575.10" y="180.55" font-size="5.5" text-anchor="middle" font-weight="normal" fill="#000" >+</text>
<circle cx="575.10" cy="148.20" r="1.65" fill="#fff" stroke="#000" stroke-width="0.95" />
<circle cx="575.79" cy="183.80" r="1.65" fill="#fff" stroke="#000" stroke-width="0.95" />
<circle cx="576.75" cy="185.60" r="1.65" fill="#fff" stroke="#000" stroke-width="0.95" />
<circle cx="573.94" cy="185.60" r="1.65" fill="#fff" stroke="#000" stroke-width="0.95" />
<circle cx="575.10" cy="197.40" r="1.65" fill="#fff" stroke="#000" stroke-width="0.95" />
<line x1="591.40" y1="185.30" x2="591.40" y2="213.50" stroke="#1a1a1a" stroke-width="0.85" />
<rect x="585.95" y="194.60" width="10.90" height="14.60" fill="#f20d0d" stroke="#000" stroke-width="0.9" rx="0" />
<line x1="585.95" y1="199.10" x2="596.85" y2="199.10" stroke="#000" stroke-width="1.0" />
<circle cx="591.40" cy="185.30" r="1.65" fill="#fff" stroke="#000" stroke-width="0.95" />
<circle cx="592.00" cy="196.00" r="1.65" fill="#fff" stroke="#000" stroke-width="0.95" />
<circle cx="593.80" cy="197.00" r="1.65" fill="#fff" stroke="#000" stroke-width="0.95" />
<circle cx="594.19" cy="199.00" r="1.65" fill="#fff" stroke="#000" stroke-width="0.95" />
<circle cx="594.08" cy="200.00" r="1.65" fill="#fff" stroke="#000" stroke-width="0.95" />
<circle cx="590.45" cy="203.00" r="1.65" fill="#fff" stroke="#000" stroke-width="0.95" />
<circle cx="594.54" cy="207.00" r="1.65" fill="#fff" stroke="#000" stroke-width="0.95" />
<circle cx="590.87" cy="212.50" r="1.65" fill="#fff" stroke="#000" stroke-width="0.95" />
<circle cx="591.40" cy="213.50" r="1.65" fill="#fff" stroke="#000" stroke-width="0.95" />
<text x="567.40" y="236.55" font-size="8.3" text-anchor="middle" font-weight="normal" fill="#000" >M3: Synaptic Vesicle</text>
<rect x="610.40" y="119.60" width="70.60" height="106.00" fill="#1f9f5f" stroke="none" stroke-width="1" rx="0" />
<line x1="613.00" y1="204.00" x2="681.00" y2="204.00" stroke="#0e5a35" stroke-width="0.7" stroke-dasharray="0.9 5.6"/>
<line x1="610.40" y1="119.60" x2="610.40" y2="226.20" stroke="#000" stroke-width="1.6" />
<line x1="609.60" y1="225.60" x2="681.00" y2="225.60" stroke="#000" stroke-width="1.4" />
<text x="607.80" y="115.73" font-size="10.5" text-anchor="middle" font-weight="normal" fill="#000" >h</text>
<line x1="621.40" y1="210.60" x2="621.40" y2="220.00" stroke="#1a1a1a" stroke-width="0.85" />
<rect x="615.95" y="212.60" width="10.90" height="6.00" fill="#0505f2" stroke="#000" stroke-width="0.9" rx="0" />
<line x1="615.95" y1="215.50" x2="626.85" y2="215.50" stroke="#000" stroke-width="1.0" />
<circle cx="621.40" cy="210.60" r="1.65" fill="#fff" stroke="#000" stroke-width="0.95" />
<circle cx="620.43" cy="215.00" r="1.65" fill="#fff" stroke="#000" stroke-width="0.95" />
<circle cx="620.20" cy="215.60" r="1.65" fill="#fff" stroke="#000" stroke-width="0.95" />
<circle cx="621.40" cy="220.00" r="1.65" fill="#fff" stroke="#000" stroke-width="0.95" />
<line x1="637.40" y1="203.60" x2="637.40" y2="213.00" stroke="#1a1a1a" stroke-width="0.85" />
<line x1="631.95" y1="212.60" x2="642.85" y2="212.60" stroke="#000" stroke-width="1.0" />
<circle cx="637.40" cy="203.60" r="1.65" fill="#fff" stroke="#000" stroke-width="0.95" />
<circle cx="635.03" cy="212.40" r="1.65" fill="#fff" stroke="#000" stroke-width="0.95" />
<circle cx="637.40" cy="213.00" r="1.65" fill="#fff" stroke="#000" stroke-width="0.95" />
<line x1="654.00" y1="210.00" x2="654.00" y2="218.00" stroke="#1a1a1a" stroke-width="0.85" />
<rect x="648.55" y="212.40" width="10.90" height="5.60" fill="#f59292" stroke="#000" stroke-width="0.9" rx="0" />
<line x1="648.55" y1="216.00" x2="659.45" y2="216.00" stroke="#000" stroke-width="1.0" />
<circle cx="654.00" cy="210.00" r="1.65" fill="#fff" stroke="#000" stroke-width="0.95" />
<circle cx="655.18" cy="214.00" r="1.65" fill="#fff" stroke="#000" stroke-width="0.95" />
<circle cx="651.86" cy="216.50" r="1.65" fill="#fff" stroke="#000" stroke-width="0.95" />
<circle cx="653.78" cy="217.50" r="1.65" fill="#fff" stroke="#000" stroke-width="0.95" />
<circle cx="654.00" cy="217.80" r="1.65" fill="#fff" stroke="#000" stroke-width="0.95" />
<line x1="670.00" y1="128.60" x2="670.00" y2="215.60" stroke="#1a1a1a" stroke-width="0.85" />
<rect x="664.55" y="185.60" width="10.90" height="30.00" fill="#f20d0d" stroke="#000" stroke-width="0.9" rx="0" />
<line x1="664.55" y1="208.40" x2="675.45" y2="208.40" stroke="#000" stroke-width="1.0" />
<text x="670.00" y="196.45" font-size="5.5" text-anchor="middle" font-weight="normal" fill="#000" >+</text>
<circle cx="670.00" cy="128.60" r="1.65" fill="#fff" stroke="#000" stroke-width="0.95" />
<circle cx="670.29" cy="143.00" r="1.65" fill="#fff" stroke="#000" stroke-width="0.95" />
<circle cx="672.53" cy="199.00" r="1.65" fill="#fff" stroke="#000" stroke-width="0.95" />
<circle cx="667.74" cy="201.50" r="1.65" fill="#fff" stroke="#000" stroke-width="0.95" />
<circle cx="668.08" cy="206.50" r="1.65" fill="#fff" stroke="#000" stroke-width="0.95" />
<circle cx="666.70" cy="208.00" r="1.65" fill="#fff" stroke="#000" stroke-width="0.95" />
<circle cx="667.32" cy="210.00" r="1.65" fill="#fff" stroke="#000" stroke-width="0.95" />
<circle cx="666.56" cy="213.00" r="1.65" fill="#fff" stroke="#000" stroke-width="0.95" />
<circle cx="667.60" cy="215.00" r="1.65" fill="#fff" stroke="#000" stroke-width="0.95" />
<circle cx="670.00" cy="215.60" r="1.65" fill="#fff" stroke="#000" stroke-width="0.95" />
<text x="644.80" y="237.95" font-size="8.3" text-anchor="middle" font-weight="normal" fill="#000" >M4: Ribosome</text>
<rect x="374.50" y="251.30" width="69.80" height="105.70" fill="#4b92ea" stroke="none" stroke-width="1" rx="0" />
<line x1="377.00" y1="314.80" x2="444.00" y2="314.80" stroke="#2a5a9a" stroke-width="0.7" stroke-dasharray="0.9 5.6"/>
<line x1="374.10" y1="251.30" x2="374.10" y2="357.50" stroke="#000" stroke-width="1.4" />
<line x1="373.40" y1="357.00" x2="444.30" y2="357.00" stroke="#000" stroke-width="1.3" />
<line x1="371.20" y1="251.80" x2="374.10" y2="251.80" stroke="#000" stroke-width="1" />
<text x="370.30" y="254.50" font-size="7.6" text-anchor="end" font-weight="normal" fill="#000" >0.6</text>
<line x1="371.20" y1="272.70" x2="374.10" y2="272.70" stroke="#000" stroke-width="1" />
<text x="370.30" y="275.40" font-size="7.6" text-anchor="end" font-weight="normal" fill="#000" >0.4</text>
<line x1="371.20" y1="293.70" x2="374.10" y2="293.70" stroke="#000" stroke-width="1" />
<text x="370.30" y="296.40" font-size="7.6" text-anchor="end" font-weight="normal" fill="#000" >0.2</text>
<line x1="371.20" y1="314.80" x2="374.10" y2="314.80" stroke="#000" stroke-width="1" />
<text x="370.30" y="317.50" font-size="7.6" text-anchor="end" font-weight="normal" fill="#000" >0.0</text>
<line x1="371.20" y1="335.90" x2="374.10" y2="335.90" stroke="#000" stroke-width="1" />
<text x="370.30" y="338.60" font-size="7.6" text-anchor="end" font-weight="normal" fill="#000" >-0.2</text>
<line x1="371.20" y1="357.00" x2="374.10" y2="357.00" stroke="#000" stroke-width="1" />
<text x="370.30" y="359.70" font-size="7.6" text-anchor="end" font-weight="normal" fill="#000" >-0.4</text>
<text x="351.30" y="306.88" font-size="8.1" text-anchor="middle" font-weight="normal" fill="#000" transform="rotate(-90 351.30 304.00)" >Eigenvalues</text>
<text x="350.50" y="254.33" font-size="10.5" text-anchor="middle" font-weight="normal" fill="#000" >i</text>
<path d="M384.4,329.1 L384.4,253.3 L432.9,253.3 L432.9,255.8" fill="none" stroke="#15151f" stroke-width="0.95" />
<text x="408.80" y="252.62" font-size="5.7" text-anchor="middle" font-weight="normal" fill="#15151f" >0.0312</text>
<line x1="384.40" y1="330.40" x2="384.40" y2="342.20" stroke="#1a1a1a" stroke-width="0.85" />
<rect x="378.95" y="331.20" width="10.90" height="10.00" fill="#0505f2" stroke="#000" stroke-width="0.9" rx="0" />
<line x1="378.95" y1="336.70" x2="389.85" y2="336.70" stroke="#000" stroke-width="1.0" />
<circle cx="384.40" cy="330.40" r="1.65" fill="#fff" stroke="#000" stroke-width="0.95" />
<circle cx="384.41" cy="334.00" r="1.65" fill="#fff" stroke="#000" stroke-width="0.95" />
<circle cx="382.91" cy="338.00" r="1.65" fill="#fff" stroke="#000" stroke-width="0.95" />
<circle cx="385.81" cy="340.50" r="1.65" fill="#fff" stroke="#000" stroke-width="0.95" />
<circle cx="384.40" cy="342.20" r="1.65" fill="#fff" stroke="#000" stroke-width="0.95" />
<line x1="400.70" y1="317.10" x2="400.70" y2="334.20" stroke="#1a1a1a" stroke-width="0.85" />
<line x1="395.25" y1="325.40" x2="406.15" y2="325.40" stroke="#000" stroke-width="1.0" />
<circle cx="400.70" cy="317.10" r="1.65" fill="#fff" stroke="#000" stroke-width="0.95" />
<circle cx="400.43" cy="325.40" r="1.65" fill="#fff" stroke="#000" stroke-width="0.95" />
<circle cx="400.70" cy="334.20" r="1.65" fill="#fff" stroke="#000" stroke-width="0.95" />
<line x1="416.60" y1="313.60" x2="416.60" y2="337.40" stroke="#1a1a1a" stroke-width="0.85" />
<rect x="411.15" y="315.80" width="10.90" height="19.60" fill="#f59292" stroke="#000" stroke-width="0.9" rx="0" />
<line x1="411.15" y1="326.10" x2="422.05" y2="326.10" stroke="#000" stroke-width="1.0" />
<circle cx="416.60" cy="313.60" r="1.65" fill="#fff" stroke="#000" stroke-width="0.95" />
<circle cx="417.07" cy="322.00" r="1.65" fill="#fff" stroke="#000" stroke-width="0.95" />
<circle cx="416.55" cy="330.50" r="1.65" fill="#fff" stroke="#000" stroke-width="0.95" />
<circle cx="416.60" cy="337.40" r="1.65" fill="#fff" stroke="#000" stroke-width="0.95" />
<line x1="432.90" y1="257.60" x2="432.90" y2="329.70" stroke="#1a1a1a" stroke-width="0.85" />
<rect x="427.45" y="278.40" width="10.90" height="43.20" fill="#f20d0d" stroke="#000" stroke-width="0.9" rx="0" />
<line x1="427.45" y1="301.00" x2="438.35" y2="301.00" stroke="#000" stroke-width="1.0" />
<circle cx="432.90" cy="257.60" r="1.65" fill="#fff" stroke="#000" stroke-width="0.95" />
<circle cx="430.72" cy="275.50" r="1.65" fill="#fff" stroke="#000" stroke-width="0.95" />
<circle cx="433.24" cy="281.50" r="1.65" fill="#fff" stroke="#000" stroke-width="0.95" />
<circle cx="432.80" cy="298.00" r="1.65" fill="#fff" stroke="#000" stroke-width="0.95" />
<circle cx="435.65" cy="303.50" r="1.65" fill="#fff" stroke="#000" stroke-width="0.95" />
<circle cx="432.18" cy="312.50" r="1.65" fill="#fff" stroke="#000" stroke-width="0.95" />
<circle cx="432.58" cy="321.50" r="1.65" fill="#fff" stroke="#000" stroke-width="0.95" />
<circle cx="433.36" cy="322.50" r="1.65" fill="#fff" stroke="#000" stroke-width="0.95" />
<circle cx="432.90" cy="329.70" r="1.65" fill="#fff" stroke="#000" stroke-width="0.95" />
<text x="408.70" y="365.95" font-size="8.3" text-anchor="middle" font-weight="normal" fill="#000" >M5: Extracellular</text>
<text x="408.70" y="375.95" font-size="8.3" text-anchor="middle" font-weight="normal" fill="#000" >vesicle signaling</text>
<rect x="453.10" y="252.10" width="70.30" height="105.20" fill="#f7a5a8" stroke="none" stroke-width="1" rx="0" />
<line x1="455.00" y1="315.30" x2="523.00" y2="315.30" stroke="#a56" stroke-width="0.7" stroke-dasharray="0.9 5.6"/>
<line x1="453.10" y1="252.10" x2="453.10" y2="357.80" stroke="#000" stroke-width="1.3" />
<line x1="452.40" y1="357.20" x2="523.40" y2="357.20" stroke="#000" stroke-width="1.3" />
<text x="449.20" y="254.73" font-size="10.5" text-anchor="middle" font-weight="normal" fill="#000" >j</text>
<path d="M463.1,325.4 L463.1,255.8 L512.8,255.8 L512.8,262.1" fill="none" stroke="#15151f" stroke-width="0.95" />
<text x="488.20" y="253.32" font-size="5.7" text-anchor="middle" font-weight="normal" fill="#15151f" >0.0222</text>
<line x1="464.10" y1="326.10" x2="464.10" y2="341.00" stroke="#1a1a1a" stroke-width="0.85" />
<rect x="458.65" y="329.10" width="10.90" height="10.10" fill="#0505f2" stroke="#000" stroke-width="0.9" rx="0" />
<line x1="458.65" y1="336.20" x2="469.55" y2="336.20" stroke="#000" stroke-width="1.0" />
<circle cx="464.10" cy="326.10" r="1.65" fill="#fff" stroke="#000" stroke-width="0.95" />
<circle cx="464.33" cy="336.00" r="1.65" fill="#fff" stroke="#000" stroke-width="0.95" />
<circle cx="465.34" cy="337.00" r="1.65" fill="#fff" stroke="#000" stroke-width="0.95" />
<circle cx="463.38" cy="338.50" r="1.65" fill="#fff" stroke="#000" stroke-width="0.95" />
<circle cx="464.10" cy="341.00" r="1.65" fill="#fff" stroke="#000" stroke-width="0.95" />
<line x1="480.20" y1="288.20" x2="480.20" y2="345.50" stroke="#1a1a1a" stroke-width="0.85" />
<line x1="474.75" y1="320.40" x2="485.65" y2="320.40" stroke="#000" stroke-width="1.0" />
<circle cx="480.20" cy="288.20" r="1.65" fill="#fff" stroke="#000" stroke-width="0.95" />
<circle cx="480.07" cy="320.00" r="1.65" fill="#fff" stroke="#000" stroke-width="0.95" />
<circle cx="480.20" cy="345.50" r="1.65" fill="#fff" stroke="#000" stroke-width="0.95" />
<line x1="496.50" y1="322.10" x2="496.50" y2="338.00" stroke="#1a1a1a" stroke-width="0.85" />
<rect x="491.05" y="324.60" width="10.90" height="12.80" fill="#f59292" stroke="#000" stroke-width="0.9" rx="0" />
<line x1="491.05" y1="332.90" x2="501.95" y2="332.90" stroke="#000" stroke-width="1.0" />
<circle cx="496.50" cy="322.10" r="1.65" fill="#fff" stroke="#000" stroke-width="0.95" />
<circle cx="496.17" cy="330.00" r="1.65" fill="#fff" stroke="#000" stroke-width="0.95" />
<circle cx="497.16" cy="334.50" r="1.65" fill="#fff" stroke="#000" stroke-width="0.95" />
<circle cx="496.50" cy="338.00" r="1.65" fill="#fff" stroke="#000" stroke-width="0.95" />
<line x1="512.80" y1="263.90" x2="512.80" y2="325.90" stroke="#1a1a1a" stroke-width="0.85" />
<rect x="507.35" y="283.50" width="10.90" height="31.10" fill="#f20d0d" stroke="#000" stroke-width="0.9" rx="0" />
<line x1="507.35" y1="309.10" x2="518.25" y2="309.10" stroke="#000" stroke-width="1.0" />
<circle cx="512.80" cy="263.90" r="1.65" fill="#fff" stroke="#000" stroke-width="0.95" />
<circle cx="513.66" cy="264.20" r="1.65" fill="#fff" stroke="#000" stroke-width="0.95" />
<circle cx="512.17" cy="284.50" r="1.65" fill="#fff" stroke="#000" stroke-width="0.95" />
<circle cx="515.57" cy="299.50" r="1.65" fill="#fff" stroke="#000" stroke-width="0.95" />
<circle cx="509.61" cy="309.00" r="1.65" fill="#fff" stroke="#000" stroke-width="0.95" />
<circle cx="516.02" cy="311.00" r="1.65" fill="#fff" stroke="#000" stroke-width="0.95" />
<circle cx="514.15" cy="313.50" r="1.65" fill="#fff" stroke="#000" stroke-width="0.95" />
<circle cx="514.81" cy="316.00" r="1.65" fill="#fff" stroke="#000" stroke-width="0.95" />
<circle cx="514.80" cy="318.00" r="1.65" fill="#fff" stroke="#000" stroke-width="0.95" />
<circle cx="512.80" cy="325.90" r="1.65" fill="#fff" stroke="#000" stroke-width="0.95" />
<text x="488.50" y="366.75" font-size="8.3" text-anchor="middle" font-weight="normal" fill="#000" >M6: Endoplasmic</text>
<text x="488.50" y="376.75" font-size="8.3" text-anchor="middle" font-weight="normal" fill="#000" >Reticulum</text>
<rect x="531.10" y="252.10" width="71.60" height="105.20" fill="#e9f89c" stroke="none" stroke-width="1" rx="0" />
<line x1="533.00" y1="315.30" x2="602.00" y2="315.30" stroke="#9a6" stroke-width="0.7" stroke-dasharray="0.9 5.6"/>
<line x1="531.10" y1="252.10" x2="531.10" y2="357.80" stroke="#1a2a10" stroke-width="1.2" />
<line x1="530.40" y1="357.20" x2="602.70" y2="357.20" stroke="#1a2a10" stroke-width="1.2" />
<text x="526.60" y="254.53" font-size="10.5" text-anchor="middle" font-weight="normal" fill="#000" >k</text>
<path d="M542.4,326.6 L542.4,255.8 L591.9,255.8 L591.9,262.6" fill="none" stroke="#15151f" stroke-width="0.95" />
<text x="567.50" y="254.62" font-size="5.7" text-anchor="middle" font-weight="normal" fill="#15151f" >0.0014</text>
<line x1="542.40" y1="327.10" x2="542.40" y2="336.60" stroke="#1a1a1a" stroke-width="0.85" />
<rect x="536.95" y="328.40" width="10.90" height="7.00" fill="#0505f2" stroke="#000" stroke-width="0.9" rx="0" />
<line x1="536.95" y1="332.00" x2="547.85" y2="332.00" stroke="#000" stroke-width="1.0" />
<circle cx="542.40" cy="327.10" r="1.65" fill="#fff" stroke="#000" stroke-width="0.95" />
<circle cx="543.00" cy="331.00" r="1.65" fill="#fff" stroke="#000" stroke-width="0.95" />
<circle cx="539.94" cy="332.50" r="1.65" fill="#fff" stroke="#000" stroke-width="0.95" />
<circle cx="544.81" cy="334.00" r="1.65" fill="#fff" stroke="#000" stroke-width="0.95" />
<circle cx="542.40" cy="336.60" r="1.65" fill="#fff" stroke="#000" stroke-width="0.95" />
<line x1="558.80" y1="324.10" x2="558.80" y2="335.40" stroke="#1a1a1a" stroke-width="0.85" />
<line x1="553.35" y1="326.60" x2="564.25" y2="326.60" stroke="#000" stroke-width="1.0" />
<circle cx="558.80" cy="324.10" r="1.65" fill="#fff" stroke="#000" stroke-width="0.95" />
<circle cx="559.37" cy="326.20" r="1.65" fill="#fff" stroke="#000" stroke-width="0.95" />
<circle cx="558.80" cy="335.40" r="1.65" fill="#fff" stroke="#000" stroke-width="0.95" />
<line x1="575.10" y1="332.00" x2="575.10" y2="335.60" stroke="#1a1a1a" stroke-width="0.85" />
<rect x="570.20" y="332.20" width="9.80" height="3.20" fill="#f59292" stroke="#000" stroke-width="0.9" rx="0" />
<line x1="570.20" y1="333.80" x2="580.00" y2="333.80" stroke="#000" stroke-width="1.0" />
<circle cx="575.10" cy="333.50" r="1.65" fill="#fff" stroke="#000" stroke-width="0.95" />
<circle cx="575.12" cy="333.80" r="1.65" fill="#fff" stroke="#000" stroke-width="0.95" />
<circle cx="575.64" cy="334.00" r="1.65" fill="#fff" stroke="#000" stroke-width="0.95" />
<circle cx="575.10" cy="334.20" r="1.65" fill="#fff" stroke="#000" stroke-width="0.95" />
<line x1="591.90" y1="264.60" x2="591.90" y2="329.10" stroke="#1a1a1a" stroke-width="0.85" />
<rect x="586.45" y="309.60" width="10.90" height="10.80" fill="#f20d0d" stroke="#000" stroke-width="0.9" rx="0" />
<line x1="586.45" y1="314.50" x2="597.35" y2="314.50" stroke="#000" stroke-width="1.0" />
<circle cx="591.90" cy="264.60" r="1.65" fill="#fff" stroke="#000" stroke-width="0.95" />
<circle cx="592.01" cy="309.00" r="1.65" fill="#fff" stroke="#000" stroke-width="0.95" />
<circle cx="589.20" cy="311.50" r="1.65" fill="#fff" stroke="#000" stroke-width="0.95" />
<circle cx="589.24" cy="313.50" r="1.65" fill="#fff" stroke="#000" stroke-width="0.95" />
<circle cx="590.56" cy="315.00" r="1.65" fill="#fff" stroke="#000" stroke-width="0.95" />
<circle cx="594.53" cy="317.00" r="1.65" fill="#fff" stroke="#000" stroke-width="0.95" />
<circle cx="594.94" cy="319.00" r="1.65" fill="#fff" stroke="#000" stroke-width="0.95" />
<circle cx="590.86" cy="320.50" r="1.65" fill="#fff" stroke="#000" stroke-width="0.95" />
<circle cx="591.49" cy="321.00" r="1.65" fill="#fff" stroke="#000" stroke-width="0.95" />
<circle cx="591.90" cy="329.10" r="1.65" fill="#fff" stroke="#000" stroke-width="0.95" />
<text x="567.70" y="367.95" font-size="8.3" text-anchor="middle" font-weight="normal" fill="#000" >M7: Axonal Transport</text>
<rect x="610.40" y="252.30" width="70.70" height="105.50" fill="#dcb98e" stroke="none" stroke-width="1" rx="0" />
<line x1="613.00" y1="305.00" x2="681.00" y2="305.00" stroke="#9a7a50" stroke-width="0.7" stroke-dasharray="0.9 5.6"/>
<line x1="610.40" y1="252.30" x2="610.40" y2="358.30" stroke="#444" stroke-width="1.3" />
<line x1="609.70" y1="357.70" x2="681.10" y2="357.70" stroke="#444" stroke-width="1.3" />
<text x="608.20" y="253.13" font-size="10.5" text-anchor="middle" font-weight="normal" fill="#000" >l</text>
<line x1="621.30" y1="281.70" x2="621.30" y2="339.90" stroke="#1a1a1a" stroke-width="0.85" />
<rect x="615.85" y="291.20" width="10.90" height="43.80" fill="#0505f2" stroke="#000" stroke-width="0.9" rx="0" />
<line x1="615.85" y1="319.00" x2="626.75" y2="319.00" stroke="#000" stroke-width="1.0" />
<circle cx="621.30" cy="281.70" r="1.65" fill="#fff" stroke="#000" stroke-width="0.95" />
<circle cx="621.24" cy="316.00" r="1.65" fill="#fff" stroke="#000" stroke-width="0.95" />
<circle cx="621.37" cy="319.00" r="1.65" fill="#fff" stroke="#000" stroke-width="0.95" />
<circle cx="621.16" cy="321.50" r="1.65" fill="#fff" stroke="#000" stroke-width="0.95" />
<circle cx="621.30" cy="339.90" r="1.65" fill="#fff" stroke="#000" stroke-width="0.95" />
<line x1="637.30" y1="315.40" x2="637.30" y2="326.10" stroke="#1a1a1a" stroke-width="0.85" />
<line x1="631.85" y1="316.10" x2="642.75" y2="316.10" stroke="#000" stroke-width="1.0" />
<circle cx="637.30" cy="315.40" r="1.65" fill="#fff" stroke="#000" stroke-width="0.95" />
<circle cx="637.23" cy="316.00" r="1.65" fill="#fff" stroke="#000" stroke-width="0.95" />
<circle cx="637.30" cy="326.10" r="1.65" fill="#fff" stroke="#000" stroke-width="0.95" />
<line x1="653.80" y1="294.60" x2="653.80" y2="322.30" stroke="#1a1a1a" stroke-width="0.85" />
<rect x="648.35" y="296.10" width="10.90" height="25.10" fill="#f59292" stroke="#000" stroke-width="0.9" rx="0" />
<line x1="648.35" y1="307.20" x2="659.25" y2="307.20" stroke="#000" stroke-width="1.0" />
<text x="653.80" y="310.45" font-size="5.5" text-anchor="middle" font-weight="normal" fill="#000" >+</text>
<circle cx="653.80" cy="294.60" r="1.65" fill="#fff" stroke="#000" stroke-width="0.95" />
<circle cx="655.58" cy="296.00" r="1.65" fill="#fff" stroke="#000" stroke-width="0.95" />
<circle cx="651.74" cy="296.50" r="1.65" fill="#fff" stroke="#000" stroke-width="0.95" />
<circle cx="653.19" cy="318.50" r="1.65" fill="#fff" stroke="#000" stroke-width="0.95" />
<circle cx="653.80" cy="322.30" r="1.65" fill="#fff" stroke="#000" stroke-width="0.95" />
<line x1="669.80" y1="269.40" x2="669.80" y2="330.10" stroke="#1a1a1a" stroke-width="0.85" />
<rect x="664.35" y="278.30" width="10.90" height="34.90" fill="#f20d0d" stroke="#000" stroke-width="0.9" rx="0" />
<line x1="664.35" y1="292.10" x2="675.25" y2="292.10" stroke="#000" stroke-width="1.0" />
<circle cx="669.80" cy="269.40" r="1.65" fill="#fff" stroke="#000" stroke-width="0.95" />
<circle cx="672.28" cy="273.50" r="1.65" fill="#fff" stroke="#000" stroke-width="0.95" />
<circle cx="667.02" cy="278.00" r="1.65" fill="#fff" stroke="#000" stroke-width="0.95" />
<circle cx="666.83" cy="288.50" r="1.65" fill="#fff" stroke="#000" stroke-width="0.95" />
<circle cx="672.76" cy="291.00" r="1.65" fill="#fff" stroke="#000" stroke-width="0.95" />
<circle cx="668.71" cy="296.50" r="1.65" fill="#fff" stroke="#000" stroke-width="0.95" />
<circle cx="667.98" cy="304.50" r="1.65" fill="#fff" stroke="#000" stroke-width="0.95" />
<circle cx="669.79" cy="312.50" r="1.65" fill="#fff" stroke="#000" stroke-width="0.95" />
<circle cx="670.11" cy="315.50" r="1.65" fill="#fff" stroke="#000" stroke-width="0.95" />
<circle cx="669.80" cy="330.10" r="1.65" fill="#fff" stroke="#000" stroke-width="0.95" />
<text x="646.20" y="367.95" font-size="8.3" text-anchor="middle" font-weight="normal" fill="#000" >M8: Proteasome</text>
<text x="9.50" y="240.73" font-size="10.5" text-anchor="middle" font-weight="normal" fill="#000" >d</text>
<text x="17.90" y="275.36" font-size="7.5" text-anchor="middle" font-weight="normal" fill="#000" transform="rotate(-90 17.90 272.70)" >Height</text>
<line x1="49.80" y1="221.10" x2="49.80" y2="321.20" stroke="#222" stroke-width="0.8" />
<line x1="44.70" y1="221.10" x2="49.80" y2="221.10" stroke="#222" stroke-width="0.8" />
<line x1="44.70" y1="237.78" x2="49.80" y2="237.78" stroke="#222" stroke-width="0.8" />
<line x1="44.70" y1="254.47" x2="49.80" y2="254.47" stroke="#222" stroke-width="0.8" />
<line x1="44.70" y1="271.15" x2="49.80" y2="271.15" stroke="#222" stroke-width="0.8" />
<line x1="44.70" y1="287.83" x2="49.80" y2="287.83" stroke="#222" stroke-width="0.8" />
<line x1="44.70" y1="304.52" x2="49.80" y2="304.52" stroke="#222" stroke-width="0.8" />
<line x1="44.70" y1="321.20" x2="49.80" y2="321.20" stroke="#222" stroke-width="0.8" />
<text x="36.60" y="223.62" font-size="7.1" text-anchor="middle" font-weight="normal" fill="#000" transform="rotate(-90 36.60 221.10)" >1.0</text>
<text x="36.60" y="257.12" font-size="7.1" text-anchor="middle" font-weight="normal" fill="#000" transform="rotate(-90 36.60 254.60)" >0.8</text>
<text x="36.60" y="290.52" font-size="7.1" text-anchor="middle" font-weight="normal" fill="#000" transform="rotate(-90 36.60 288.00)" >0.6</text>
<text x="36.60" y="323.72" font-size="7.1" text-anchor="middle" font-weight="normal" fill="#000" transform="rotate(-90 36.60 321.20)" >0.4</text>
<text x="56.70" y="340.62" font-size="6.25" text-anchor="end" font-weight="normal" fill="#000" >Dynamic Tree Cut</text>
<text x="56.70" y="358.72" font-size="6.25" text-anchor="end" font-weight="normal" fill="#000" >Merged dynamic</text>
<path d="M60.2,223.2 L60.7,224.1 L61.1,225.2 L61.6,226.6 L62.1,228.0 L62.5,229.6 L63.0,231.2" fill="none" stroke="#000" stroke-width="1.1" />
<path d="M63.0,223.2 L63.5,223.9 L63.9,224.9 L64.4,226.0 L64.8,227.2 L65.3,228.5 L65.7,229.8 L66.2,231.2 L66.6,232.6 L67.1,234.1 L67.5,235.7 L68.0,237.2" fill="none" stroke="#000" stroke-width="1.1" />
<path d="M68.0,223.3 L68.5,223.9 L68.9,224.7 L69.4,225.7 L69.8,226.7 L70.3,227.8 L70.7,228.9 L71.2,230.1 L71.6,231.4 L72.1,232.7 L72.5,234.0 L73.0,235.3" fill="none" stroke="#000" stroke-width="1.1" />
<path d="M73.0,223.4 L73.4,224.0 L73.9,224.8 L74.3,225.7 L74.7,226.7 L75.1,227.8 L75.6,228.9 L76.0,230.1 L76.4,231.3 L76.9,232.6 L77.3,233.9 L77.7,235.2 L78.1,236.6 L78.6,238.0 L79.0,239.4" fill="none" stroke="#000" stroke-width="1.1" />
<path d="M79.0,223.5 L79.5,224.1 L79.9,224.9 L80.4,225.9 L80.8,226.9 L81.3,228.0 L81.7,229.1 L82.2,230.3 L82.6,231.5 L83.1,232.8 L83.5,234.1 L84.0,235.5" fill="none" stroke="#000" stroke-width="1.1" />
<path d="M84.0,223.6 L84.4,224.1 L84.9,224.8 L85.3,225.6 L85.7,226.5 L86.1,227.4 L86.6,228.4 L87.0,229.5 L87.4,230.5 L87.9,231.6 L88.3,232.8 L88.7,233.9 L89.1,235.1 L89.6,236.3 L90.0,237.6" fill="none" stroke="#000" stroke-width="1.1" />
<path d="M90.0,223.7 L90.5,224.3 L90.9,225.1 L91.4,226.0 L91.8,227.0 L92.3,228.1 L92.7,229.3 L93.2,230.5 L93.6,231.7 L94.1,233.0 L94.5,234.3 L95.0,235.7" fill="none" stroke="#000" stroke-width="1.1" />
<path d="M95.0,223.7 L95.4,224.3 L95.9,225.0 L96.3,225.8 L96.7,226.7 L97.1,227.6 L97.6,228.6 L98.0,229.6 L98.4,230.7 L98.9,231.8 L99.3,232.9 L99.7,234.1 L100.1,235.3 L100.6,236.5 L101.0,237.7" fill="none" stroke="#000" stroke-width="1.1" />
<path d="M101.0,223.8 L101.5,224.4 L101.9,225.3 L102.4,226.2 L102.8,227.2 L103.3,228.3 L103.7,229.5 L104.2,230.6 L104.6,231.9 L105.1,233.2 L105.5,234.5 L106.0,235.8" fill="none" stroke="#000" stroke-width="1.1" />
<path d="M106.0,223.9 L106.4,224.4 L106.9,225.1 L107.3,225.9 L107.8,226.8 L108.2,227.7 L108.7,228.7 L109.1,229.7 L109.6,230.8 L110.0,231.9" fill="none" stroke="#000" stroke-width="1.1" />
<path d="M110.0,224.0 L110.4,224.1 L110.8,224.2 L111.3,224.5 L111.7,224.7 L112.1,225.0 L112.5,225.3 L112.9,225.7 L113.4,226.1 L113.8,226.5 L114.2,226.9 L114.6,227.4 L115.0,227.8 L115.5,228.3 L115.9,228.9 L116.3,229.4 L116.7,229.9 L117.1,230.5 L117.6,231.1 L118.0,231.7 L118.4,232.3 L118.8,232.9 L119.2,233.6 L119.7,234.3 L120.1,234.9 L120.5,235.6 L120.9,236.3 L121.3,237.1 L121.8,237.8 L122.2,238.5 L122.6,239.3 L123.0,240.1 L123.4,240.9 L123.9,241.7 L124.3,242.5 L124.7,243.3 L125.1,244.1 L125.5,245.0 L126.0,245.8 L126.4,246.7 L126.8,247.6 L127.2,248.5 L127.6,249.4 L128.1,250.3 L128.5,251.2 L128.9,252.1 L129.3,253.1 L129.7,254.0 L130.2,255.0 L130.6,256.0 L131.0,257.0" fill="none" stroke="#000" stroke-width="1.1" />
<path d="M132.0,224.3 L132.5,224.9 L132.9,225.7 L133.4,226.7 L133.8,227.7 L134.3,228.8 L134.7,229.9 L135.2,231.1 L135.6,232.4 L136.1,233.6 L136.5,235.0 L137.0,236.3" fill="none" stroke="#000" stroke-width="1.1" />
<path d="M137.0,224.4 L137.4,225.0 L137.9,225.9 L138.3,226.9 L138.8,228.0 L139.2,229.2 L139.7,230.4 L140.1,231.7 L140.6,233.0 L141.0,234.4" fill="none" stroke="#000" stroke-width="1.1" />
<path d="M141.0,224.4 L141.5,225.1 L141.9,226.1 L142.4,227.2 L142.8,228.4 L143.3,229.7 L143.7,231.0 L144.2,232.4 L144.6,233.8 L145.1,235.3 L145.5,236.9 L146.0,238.4" fill="none" stroke="#000" stroke-width="1.1" />
<path d="M146.0,224.5 L146.4,224.7 L146.8,225.1 L147.3,225.6 L147.7,226.1 L148.1,226.8 L148.5,227.5 L148.9,228.2 L149.4,229.1 L149.8,229.9 L150.2,230.9 L150.6,231.8 L151.1,232.9 L151.5,233.9 L151.9,235.0 L152.3,236.2 L152.7,237.4 L153.2,238.6 L153.6,239.8 L154.0,241.1 L154.4,242.5 L154.8,243.8 L155.3,245.2 L155.7,246.7 L156.1,248.1 L156.5,249.6 L156.9,251.1 L157.4,252.7 L157.8,254.2 L158.2,255.9 L158.6,257.5 L159.1,259.1 L159.5,260.8 L159.9,262.6 L160.3,264.3 L160.7,266.1 L161.2,267.9 L161.6,269.7 L162.0,271.5" fill="none" stroke="#000" stroke-width="1.1" />
<path d="M162.0,224.8 L162.4,224.9 L162.9,225.0 L163.3,225.2 L163.7,225.5 L164.1,225.8 L164.6,226.1 L165.0,226.4 L165.4,226.8 L165.8,227.2 L166.3,227.6 L166.7,228.1 L167.1,228.5 L167.5,229.0 L168.0,229.5 L168.4,230.0 L168.8,230.5 L169.2,231.1 L169.7,231.7 L170.1,232.2 L170.5,232.8 L171.0,233.5 L171.4,234.1 L171.8,234.7 L172.2,235.4 L172.7,236.0 L173.1,236.7 L173.5,237.4 L173.9,238.1 L174.4,238.9 L174.8,239.6 L175.2,240.3 L175.6,241.1 L176.1,241.9 L176.5,242.7 L176.9,243.5 L177.3,244.3 L177.8,245.1 L178.2,245.9 L178.6,246.7 L179.0,247.6 L179.5,248.5 L179.9,249.3 L180.3,250.2 L180.8,251.1 L181.2,252.0 L181.6,252.9 L182.0,253.8 L182.5,254.8 L182.9,255.7 L183.3,256.7 L183.7,257.6 L184.2,258.6 L184.6,259.6 L185.0,260.6 L185.4,261.6 L185.9,262.6 L186.3,263.6 L186.7,264.6 L187.1,265.7 L187.6,266.7 L188.0,267.8" fill="none" stroke="#000" stroke-width="1.1" />
<path d="M188.0,225.2 L188.5,225.7 L188.9,226.4 L189.4,227.1 L189.8,228.0 L190.3,228.9 L190.7,229.9 L191.2,230.8 L191.6,231.9 L192.1,232.9 L192.5,234.0 L193.0,235.2" fill="none" stroke="#000" stroke-width="1.1" />
<path d="M193.0,225.4 L193.4,225.9 L193.8,226.7 L194.3,227.5 L194.7,228.5 L195.1,229.5 L195.5,230.6 L195.9,231.7 L196.4,232.8 L196.8,234.0 L197.2,235.2 L197.6,236.5 L198.1,237.7 L198.5,239.0 L198.9,240.4 L199.3,241.7 L199.7,243.1 L200.2,244.5 L200.6,245.9 L201.0,247.4" fill="none" stroke="#000" stroke-width="1.1" />
<path d="M201.0,226.0 L201.4,226.5 L201.9,227.2 L202.3,228.0 L202.8,228.8 L203.2,229.8 L203.6,230.7 L204.1,231.7 L204.5,232.7 L204.9,233.8 L205.4,234.9 L205.8,236.0 L206.2,237.2 L206.7,238.4 L207.1,239.6 L207.6,240.8 L208.0,242.0" fill="none" stroke="#000" stroke-width="1.1" />
<path d="M208.0,226.7 L208.4,227.2 L208.9,227.9 L209.3,228.7 L209.8,229.5 L210.2,230.4 L210.6,231.4 L211.1,232.4 L211.5,233.4 L211.9,234.5 L212.4,235.6 L212.8,236.7 L213.2,237.9 L213.7,239.0 L214.1,240.2 L214.6,241.5 L215.0,242.7" fill="none" stroke="#000" stroke-width="1.1" />
<path d="M215.0,227.4 L215.4,228.0 L215.9,228.8 L216.3,229.7 L216.8,230.6 L217.2,231.6 L217.6,232.7 L218.1,233.8 L218.5,235.0 L218.9,236.2 L219.4,237.4 L219.8,238.7 L220.2,240.0 L220.7,241.3 L221.1,242.7 L221.6,244.0 L222.0,245.4" fill="none" stroke="#000" stroke-width="1.1" />
<path d="M222.0,228.2 L222.4,228.7 L222.8,229.3 L223.3,230.0 L223.7,230.8 L224.1,231.6 L224.5,232.5 L224.9,233.4 L225.4,234.3 L225.8,235.3 L226.2,236.3 L226.6,237.3 L227.1,238.4 L227.5,239.4 L227.9,240.5 L228.3,241.6 L228.7,242.7 L229.2,243.9 L229.6,245.0 L230.0,246.2" fill="none" stroke="#000" stroke-width="1.1" />
<path d="M230.0,229.2 L230.4,229.7 L230.8,230.4 L231.3,231.2 L231.7,232.0 L232.1,232.9 L232.5,233.9 L232.9,234.9 L233.4,235.9 L233.8,237.0 L234.2,238.1 L234.6,239.3 L235.1,240.4 L235.5,241.6 L235.9,242.8 L236.3,244.0 L236.7,245.3 L237.2,246.6 L237.6,247.9 L238.0,249.2" fill="none" stroke="#000" stroke-width="1.1" />
<path d="M238.0,230.1 L238.4,230.6 L238.8,231.2 L239.3,231.9 L239.7,232.7 L240.1,233.5 L240.5,234.4 L240.9,235.3 L241.4,236.2 L241.8,237.2 L242.2,238.2 L242.6,239.2 L243.1,240.3 L243.5,241.3 L243.9,242.4 L244.3,243.5 L244.7,244.7 L245.2,245.8 L245.6,247.0 L246.0,248.1" fill="none" stroke="#000" stroke-width="1.1" />
<path d="M246.0,231.2 L246.4,231.6 L246.9,232.2 L247.3,232.9 L247.7,233.6 L248.2,234.4 L248.6,235.3 L249.0,236.1 L249.5,237.0 L249.9,238.0 L250.3,238.9 L250.8,239.9 L251.2,240.9 L251.7,241.9 L252.1,243.0 L252.5,244.0 L253.0,245.1 L253.4,246.2 L253.8,247.3 L254.3,248.5 L254.7,249.6 L255.1,250.8 L255.6,252.0 L256.0,253.2" fill="none" stroke="#000" stroke-width="1.1" />
<path d="M256.0,232.5 L256.4,232.9 L256.9,233.4 L257.3,234.1 L257.7,234.7 L258.1,235.5 L258.6,236.2 L259.0,237.1 L259.4,237.9 L259.9,238.8 L260.3,239.6 L260.7,240.5 L261.1,241.5 L261.6,242.4 L262.0,243.4 L262.4,244.4 L262.9,245.4 L263.3,246.4 L263.7,247.4 L264.1,248.5 L264.6,249.5 L265.0,250.6 L265.4,251.7 L265.9,252.8 L266.3,253.9 L266.7,255.0 L267.1,256.2 L267.6,257.3 L268.0,258.5" fill="none" stroke="#000" stroke-width="1.1" />
<path d="M268.0,234.1 L268.4,234.4 L268.8,234.9 L269.3,235.5 L269.7,236.1 L270.1,236.7 L270.5,237.4 L270.9,238.1 L271.4,238.8 L271.8,239.6 L272.2,240.4 L272.6,241.1 L273.1,242.0 L273.5,242.8 L273.9,243.6 L274.3,244.5 L274.7,245.4 L275.2,246.3 L275.6,247.2 L276.0,248.1" fill="none" stroke="#000" stroke-width="1.1" />
<path d="M288.0,236.9 L288.4,237.2 L288.9,237.6 L289.3,238.1 L289.7,238.6 L290.1,239.1 L290.6,239.7 L291.0,240.3 L291.4,240.9 L291.9,241.5 L292.3,242.1 L292.7,242.8 L293.1,243.5 L293.6,244.2 L294.0,244.9" fill="none" stroke="#000" stroke-width="1.1" />
<path d="M294.0,237.8 L294.4,238.2 L294.9,238.9 L295.3,239.7 L295.7,240.5 L296.1,241.4 L296.6,242.4 L297.0,243.3 L297.4,244.3 L297.9,245.4 L298.3,246.5 L298.7,247.6 L299.1,248.7 L299.6,249.8 L300.0,251.0 L300.4,252.2 L300.9,253.4 L301.3,254.6 L301.7,255.9 L302.1,257.2 L302.6,258.5 L303.0,259.8" fill="none" stroke="#000" stroke-width="1.1" />
<path d="M303.0,239.1 L303.4,239.6 L303.8,240.3 L304.3,241.1 L304.7,241.9 L305.1,242.8 L305.5,243.8 L305.9,244.8 L306.4,245.9 L306.8,246.9 L307.2,248.0 L307.6,249.2 L308.1,250.3 L308.5,251.5 L308.9,252.7 L309.3,254.0 L309.7,255.2 L310.2,256.5 L310.6,257.8 L311.0,259.1" fill="none" stroke="#000" stroke-width="1.1" />
<path d="M311.0,240.3 L311.4,240.7 L311.9,241.4 L312.3,242.1 L312.7,242.9 L313.2,243.7 L313.6,244.6 L314.0,245.5 L314.5,246.5 L314.9,247.5 L315.3,248.5 L315.8,249.5 L316.2,250.6 L316.6,251.7 L317.0,252.8 L317.5,253.9 L317.9,255.0 L318.3,256.2 L318.8,257.4 L319.2,258.6 L319.6,259.8 L320.1,261.0 L320.5,262.3" fill="none" stroke="#000" stroke-width="1.1" />
<line x1="62.00" y1="274.92" x2="62.00" y2="328.00" stroke="#9a9a9a" stroke-width="0.45" stroke-dasharray="0.7 1.1"/>
<line x1="65.83" y1="281.81" x2="65.83" y2="328.00" stroke="#9a9a9a" stroke-width="0.45" stroke-dasharray="0.7 1.1"/>
<line x1="70.11" y1="279.60" x2="70.11" y2="328.00" stroke="#9a9a9a" stroke-width="0.45" stroke-dasharray="0.7 1.1"/>
<line x1="74.33" y1="251.16" x2="74.33" y2="328.00" stroke="#9a9a9a" stroke-width="0.45" stroke-dasharray="0.7 1.1"/>
<line x1="77.56" y1="287.73" x2="77.56" y2="328.00" stroke="#9a9a9a" stroke-width="0.45" stroke-dasharray="0.7 1.1"/>
<line x1="81.19" y1="286.04" x2="81.19" y2="328.00" stroke="#9a9a9a" stroke-width="0.45" stroke-dasharray="0.7 1.1"/>
<line x1="83.64" y1="268.76" x2="83.64" y2="328.00" stroke="#9a9a9a" stroke-width="0.45" stroke-dasharray="0.7 1.1"/>
<line x1="86.38" y1="271.75" x2="86.38" y2="328.00" stroke="#9a9a9a" stroke-width="0.45" stroke-dasharray="0.7 1.1"/>
<line x1="89.84" y1="250.52" x2="89.84" y2="328.00" stroke="#9a9a9a" stroke-width="0.45" stroke-dasharray="0.7 1.1"/>
<line x1="92.52" y1="261.18" x2="92.52" y2="328.00" stroke="#9a9a9a" stroke-width="0.45" stroke-dasharray="0.7 1.1"/>
<line x1="96.73" y1="280.63" x2="96.73" y2="328.00" stroke="#9a9a9a" stroke-width="0.45" stroke-dasharray="0.7 1.1"/>
<line x1="99.28" y1="281.89" x2="99.28" y2="328.00" stroke="#9a9a9a" stroke-width="0.45" stroke-dasharray="0.7 1.1"/>
<line x1="101.79" y1="274.70" x2="101.79" y2="328.00" stroke="#9a9a9a" stroke-width="0.45" stroke-dasharray="0.7 1.1"/>
<line x1="104.27" y1="250.07" x2="104.27" y2="328.00" stroke="#9a9a9a" stroke-width="0.45" stroke-dasharray="0.7 1.1"/>
<line x1="108.39" y1="258.38" x2="108.39" y2="328.00" stroke="#9a9a9a" stroke-width="0.45" stroke-dasharray="0.7 1.1"/>
<line x1="111.06" y1="289.30" x2="111.06" y2="328.00" stroke="#9a9a9a" stroke-width="0.45" stroke-dasharray="0.7 1.1"/>
<line x1="115.18" y1="261.57" x2="115.18" y2="328.00" stroke="#9a9a9a" stroke-width="0.45" stroke-dasharray="0.7 1.1"/>
<line x1="119.49" y1="271.57" x2="119.49" y2="328.00" stroke="#9a9a9a" stroke-width="0.45" stroke-dasharray="0.7 1.1"/>
<line x1="123.19" y1="258.19" x2="123.19" y2="328.00" stroke="#9a9a9a" stroke-width="0.45" stroke-dasharray="0.7 1.1"/>
<line x1="127.46" y1="277.63" x2="127.46" y2="328.00" stroke="#9a9a9a" stroke-width="0.45" stroke-dasharray="0.7 1.1"/>
<line x1="131.78" y1="285.75" x2="131.78" y2="328.00" stroke="#9a9a9a" stroke-width="0.45" stroke-dasharray="0.7 1.1"/>
<line x1="134.64" y1="264.45" x2="134.64" y2="328.00" stroke="#9a9a9a" stroke-width="0.45" stroke-dasharray="0.7 1.1"/>
<line x1="137.20" y1="255.83" x2="137.20" y2="328.00" stroke="#9a9a9a" stroke-width="0.45" stroke-dasharray="0.7 1.1"/>
<line x1="139.55" y1="262.05" x2="139.55" y2="328.00" stroke="#9a9a9a" stroke-width="0.45" stroke-dasharray="0.7 1.1"/>
<line x1="143.07" y1="250.14" x2="143.07" y2="328.00" stroke="#9a9a9a" stroke-width="0.45" stroke-dasharray="0.7 1.1"/>
<line x1="146.77" y1="263.52" x2="146.77" y2="328.00" stroke="#9a9a9a" stroke-width="0.45" stroke-dasharray="0.7 1.1"/>
<line x1="149.65" y1="282.74" x2="149.65" y2="328.00" stroke="#9a9a9a" stroke-width="0.45" stroke-dasharray="0.7 1.1"/>
<line x1="152.91" y1="262.63" x2="152.91" y2="328.00" stroke="#9a9a9a" stroke-width="0.45" stroke-dasharray="0.7 1.1"/>
<line x1="156.16" y1="278.19" x2="156.16" y2="328.00" stroke="#9a9a9a" stroke-width="0.45" stroke-dasharray="0.7 1.1"/>
<line x1="158.49" y1="289.00" x2="158.49" y2="328.00" stroke="#9a9a9a" stroke-width="0.45" stroke-dasharray="0.7 1.1"/>
<line x1="160.74" y1="279.99" x2="160.74" y2="328.00" stroke="#9a9a9a" stroke-width="0.45" stroke-dasharray="0.7 1.1"/>
<line x1="164.80" y1="250.72" x2="164.80" y2="328.00" stroke="#9a9a9a" stroke-width="0.45" stroke-dasharray="0.7 1.1"/>
<line x1="168.73" y1="264.65" x2="168.73" y2="328.00" stroke="#9a9a9a" stroke-width="0.45" stroke-dasharray="0.7 1.1"/>
<line x1="172.20" y1="250.36" x2="172.20" y2="328.00" stroke="#9a9a9a" stroke-width="0.45" stroke-dasharray="0.7 1.1"/>
<line x1="174.51" y1="257.24" x2="174.51" y2="328.00" stroke="#9a9a9a" stroke-width="0.45" stroke-dasharray="0.7 1.1"/>
<line x1="178.81" y1="257.86" x2="178.81" y2="328.00" stroke="#9a9a9a" stroke-width="0.45" stroke-dasharray="0.7 1.1"/>
<line x1="182.67" y1="287.19" x2="182.67" y2="328.00" stroke="#9a9a9a" stroke-width="0.45" stroke-dasharray="0.7 1.1"/>
<line x1="186.94" y1="263.78" x2="186.94" y2="328.00" stroke="#9a9a9a" stroke-width="0.45" stroke-dasharray="0.7 1.1"/>
<line x1="189.92" y1="270.99" x2="189.92" y2="328.00" stroke="#9a9a9a" stroke-width="0.45" stroke-dasharray="0.7 1.1"/>
<line x1="193.83" y1="254.32" x2="193.83" y2="328.00" stroke="#9a9a9a" stroke-width="0.45" stroke-dasharray="0.7 1.1"/>
<line x1="197.68" y1="281.89" x2="197.68" y2="328.00" stroke="#9a9a9a" stroke-width="0.45" stroke-dasharray="0.7 1.1"/>
<line x1="201.77" y1="251.47" x2="201.77" y2="328.00" stroke="#9a9a9a" stroke-width="0.45" stroke-dasharray="0.7 1.1"/>
<line x1="206.05" y1="253.65" x2="206.05" y2="328.00" stroke="#9a9a9a" stroke-width="0.45" stroke-dasharray="0.7 1.1"/>
<line x1="209.00" y1="274.43" x2="209.00" y2="328.00" stroke="#9a9a9a" stroke-width="0.45" stroke-dasharray="0.7 1.1"/>
<line x1="213.22" y1="263.60" x2="213.22" y2="328.00" stroke="#9a9a9a" stroke-width="0.45" stroke-dasharray="0.7 1.1"/>
<line x1="217.45" y1="271.81" x2="217.45" y2="328.00" stroke="#9a9a9a" stroke-width="0.45" stroke-dasharray="0.7 1.1"/>
<line x1="220.34" y1="262.67" x2="220.34" y2="328.00" stroke="#9a9a9a" stroke-width="0.45" stroke-dasharray="0.7 1.1"/>
<line x1="222.93" y1="253.13" x2="222.93" y2="328.00" stroke="#9a9a9a" stroke-width="0.45" stroke-dasharray="0.7 1.1"/>
<line x1="225.46" y1="277.57" x2="225.46" y2="328.00" stroke="#9a9a9a" stroke-width="0.45" stroke-dasharray="0.7 1.1"/>
<line x1="229.85" y1="256.46" x2="229.85" y2="328.00" stroke="#9a9a9a" stroke-width="0.45" stroke-dasharray="0.7 1.1"/>
<line x1="232.16" y1="289.47" x2="232.16" y2="328.00" stroke="#9a9a9a" stroke-width="0.45" stroke-dasharray="0.7 1.1"/>
<line x1="235.53" y1="266.24" x2="235.53" y2="328.00" stroke="#9a9a9a" stroke-width="0.45" stroke-dasharray="0.7 1.1"/>
<line x1="238.25" y1="273.76" x2="238.25" y2="328.00" stroke="#9a9a9a" stroke-width="0.45" stroke-dasharray="0.7 1.1"/>
<line x1="242.27" y1="268.23" x2="242.27" y2="328.00" stroke="#9a9a9a" stroke-width="0.45" stroke-dasharray="0.7 1.1"/>
<line x1="245.40" y1="252.23" x2="245.40" y2="328.00" stroke="#9a9a9a" stroke-width="0.45" stroke-dasharray="0.7 1.1"/>
<line x1="249.61" y1="251.31" x2="249.61" y2="328.00" stroke="#9a9a9a" stroke-width="0.45" stroke-dasharray="0.7 1.1"/>
<line x1="252.90" y1="283.54" x2="252.90" y2="328.00" stroke="#9a9a9a" stroke-width="0.45" stroke-dasharray="0.7 1.1"/>
<line x1="255.39" y1="279.27" x2="255.39" y2="328.00" stroke="#9a9a9a" stroke-width="0.45" stroke-dasharray="0.7 1.1"/>
<line x1="259.68" y1="275.22" x2="259.68" y2="328.00" stroke="#9a9a9a" stroke-width="0.45" stroke-dasharray="0.7 1.1"/>
<line x1="263.61" y1="254.27" x2="263.61" y2="328.00" stroke="#9a9a9a" stroke-width="0.45" stroke-dasharray="0.7 1.1"/>
<line x1="266.77" y1="255.97" x2="266.77" y2="328.00" stroke="#9a9a9a" stroke-width="0.45" stroke-dasharray="0.7 1.1"/>
<line x1="270.82" y1="261.79" x2="270.82" y2="328.00" stroke="#9a9a9a" stroke-width="0.45" stroke-dasharray="0.7 1.1"/>
<line x1="274.02" y1="289.97" x2="274.02" y2="328.00" stroke="#9a9a9a" stroke-width="0.45" stroke-dasharray="0.7 1.1"/>
<line x1="278.10" y1="289.04" x2="278.10" y2="328.00" stroke="#9a9a9a" stroke-width="0.45" stroke-dasharray="0.7 1.1"/>
<line x1="281.29" y1="269.53" x2="281.29" y2="328.00" stroke="#9a9a9a" stroke-width="0.45" stroke-dasharray="0.7 1.1"/>
<line x1="285.10" y1="269.16" x2="285.10" y2="328.00" stroke="#9a9a9a" stroke-width="0.45" stroke-dasharray="0.7 1.1"/>
<line x1="287.94" y1="266.15" x2="287.94" y2="328.00" stroke="#9a9a9a" stroke-width="0.45" stroke-dasharray="0.7 1.1"/>
<line x1="290.46" y1="265.08" x2="290.46" y2="328.00" stroke="#9a9a9a" stroke-width="0.45" stroke-dasharray="0.7 1.1"/>
<line x1="294.84" y1="288.39" x2="294.84" y2="328.00" stroke="#9a9a9a" stroke-width="0.45" stroke-dasharray="0.7 1.1"/>
<line x1="298.42" y1="269.97" x2="298.42" y2="328.00" stroke="#9a9a9a" stroke-width="0.45" stroke-dasharray="0.7 1.1"/>
<line x1="301.36" y1="253.57" x2="301.36" y2="328.00" stroke="#9a9a9a" stroke-width="0.45" stroke-dasharray="0.7 1.1"/>
<line x1="304.16" y1="281.28" x2="304.16" y2="328.00" stroke="#9a9a9a" stroke-width="0.45" stroke-dasharray="0.7 1.1"/>
<line x1="308.27" y1="264.45" x2="308.27" y2="328.00" stroke="#9a9a9a" stroke-width="0.45" stroke-dasharray="0.7 1.1"/>
<line x1="312.20" y1="281.00" x2="312.20" y2="328.00" stroke="#9a9a9a" stroke-width="0.45" stroke-dasharray="0.7 1.1"/>
<line x1="315.92" y1="276.56" x2="315.92" y2="328.00" stroke="#9a9a9a" stroke-width="0.45" stroke-dasharray="0.7 1.1"/>
<line x1="319.80" y1="264.54" x2="319.80" y2="328.00" stroke="#9a9a9a" stroke-width="0.45" stroke-dasharray="0.7 1.1"/>
<path d="M60.2,223.2 L62.0,223.2 L66.0,223.3 L70.0,223.4 L74.0,223.4 L78.0,223.5 L82.0,223.5 L86.0,223.6 L90.0,223.7 L94.0,223.7 L98.0,223.8 L102.0,223.8 L106.0,223.9 L110.0,224.0 L114.0,224.0 L118.0,224.1 L122.0,224.1 L126.0,224.2 L130.0,224.3 L134.0,224.3 L138.0,224.4 L142.0,224.5 L146.0,224.5 L150.0,224.6 L154.0,224.6 L158.0,224.7 L162.0,224.8 L166.0,224.8 L170.0,224.9 L174.0,224.9 L178.0,225.0 L182.0,225.1 L186.0,225.1 L190.0,225.2 L194.0,225.4 L198.0,225.8 L202.0,226.1 L206.0,226.5 L210.0,226.9 L214.0,227.3 L218.0,227.8 L222.0,228.2 L226.0,228.7 L230.0,229.2 L234.0,229.6 L238.0,230.1 L242.0,230.6 L246.0,231.2 L250.0,231.7 L254.0,232.2 L258.0,232.7 L262.0,233.3 L266.0,233.8 L270.0,234.4 L274.0,234.9 L278.0,235.5 L282.0,236.0 L286.0,236.6 L290.0,237.2 L294.0,237.8 L298.0,238.3 L302.0,238.9 L306.0,239.5 L310.0,240.1 L314.0,240.7 L318.0,241.3 L320.5,241.7" fill="none" stroke="#000" stroke-width="0.9" />
<line x1="320.50" y1="241.70" x2="320.50" y2="262.00" stroke="#000" stroke-width="0.7" />
<line x1="60.20" y1="223.00" x2="60.20" y2="300.00" stroke="#000" stroke-width="0.6" />
<path d="M60.2,222.9V226.5M60.7,223.8V233.8M61.1,224.9V232.4M61.6,226.3V229.8M62.1,227.7V233.2M62.5,229.3V232.6M63.0,222.9V229.6M63.5,223.6V227.9M63.9,224.6V236.0M64.4,225.7V238.7M64.8,226.9V236.4M65.3,228.2V238.5M65.7,229.5V233.6M66.2,230.9V240.6M66.6,232.3V238.3M67.1,233.8V243.2M67.5,235.4V242.5M68.0,223.0V231.9M68.5,223.6V234.7M68.9,224.4V230.4M69.4,225.4V231.8M69.8,226.4V238.9M70.3,227.5V236.4M70.7,228.6V235.9M71.2,229.8V234.0M71.6,231.1V242.3M72.1,232.4V245.6M72.5,233.7V237.1M73.0,223.1V231.8M73.4,223.7V231.3M73.9,224.5V230.4M74.3,225.4V237.4M74.7,226.4V231.3M75.1,227.5V238.6M75.6,228.6V232.1M76.0,229.8V241.4M76.4,231.0V243.8M76.9,232.3V243.2M77.3,233.6V241.7M77.7,234.9V242.5M78.1,236.3V241.6M78.6,237.7V245.4M79.0,223.2V229.9M79.5,223.8V229.3M79.9,224.6V237.0M80.4,225.6V231.2M80.8,226.6V231.2M81.3,227.7V235.7M81.7,228.8V234.0M82.2,230.0V238.0M82.6,231.2V244.4M83.1,232.5V244.4M83.5,233.8V241.4M84.0,223.3V231.0M84.4,223.8V227.6M84.9,224.5V237.5M85.3,225.3V230.3M85.7,226.2V230.1M86.1,227.1V238.3M86.6,228.1V241.4M87.0,229.2V235.4M87.4,230.2V238.9M87.9,231.3V240.5M88.3,232.5V245.4M88.7,233.6V243.7M89.1,234.8V240.6M89.6,236.0V243.5M90.0,223.4V236.0M90.5,224.0V231.2M90.9,224.8V231.2M91.4,225.7V233.6M91.8,226.7V230.8M92.3,227.8V239.9M92.7,229.0V233.9M93.2,230.2V239.6M93.6,231.4V234.8M94.1,232.7V242.6M94.5,234.0V238.5M95.0,223.4V232.8M95.4,224.0V233.6M95.9,224.7V236.4M96.3,225.5V228.8M96.7,226.4V232.3M97.1,227.3V234.9M97.6,228.3V240.6M98.0,229.3V234.1M98.4,230.4V241.7M98.9,231.5V236.9M99.3,232.6V244.8M99.7,233.8V246.4M100.1,235.0V246.4M100.6,236.2V246.9M101.0,223.5V235.5M101.5,224.1V235.3M101.9,225.0V230.5M102.4,225.9V232.2M102.8,226.9V230.5M103.3,228.0V241.0M103.7,229.2V242.3M104.2,230.3V243.4M104.6,231.6V236.0M105.1,232.9V242.2M105.5,234.2V240.0M106.0,223.6V236.2M106.4,224.1V234.1M106.9,224.8V231.4M107.3,225.6V231.9M107.8,226.5V232.8M108.2,227.4V237.5M108.7,228.4V234.7M109.1,229.4V237.0M109.6,230.5V238.5M110.0,223.7V231.3M110.4,223.8V233.9M110.8,223.9V231.9M111.3,224.2V230.6M111.7,224.4V234.2M112.1,224.7V230.3M112.5,225.0V230.8M112.9,225.4V229.8M113.4,225.8V231.1M113.8,226.2V233.9M114.2,226.6V230.5M114.6,227.1V237.0M115.0,227.5V232.8M115.5,228.0V236.0M115.9,228.6V239.1M116.3,229.1V238.2M116.7,229.6V238.2M117.1,230.2V241.1M117.6,230.8V240.3M118.0,231.4V241.8M118.4,232.0V243.0M118.8,232.6V240.2M119.2,233.3V242.2M119.7,234.0V241.9M120.1,234.6V240.6M120.5,235.3V241.3M120.9,236.0V240.9M121.3,236.8V246.2M121.8,237.5V245.6M122.2,238.2V245.4M122.6,239.0V247.5M123.0,239.8V250.4M123.4,240.6V247.4M123.9,241.4V251.2M124.3,242.2V253.6M124.7,243.0V251.2M125.1,243.8V249.4M125.5,244.7V248.7M126.0,245.5V252.6M126.4,246.4V251.2M126.8,247.3V251.3M127.2,248.2V252.2M127.6,249.1V254.0M128.1,250.0V256.8M128.5,250.9V260.8M128.9,251.8V262.3M129.3,252.8V256.7M129.7,253.7V265.5M130.2,254.7V264.8M130.6,255.7V265.5M132.0,224.0V227.5M132.5,224.6V233.5M132.9,225.4V230.4M133.4,226.4V230.8M133.8,227.4V231.8M134.3,228.5V241.4M134.7,229.6V239.8M135.2,230.8V241.8M135.6,232.1V236.6M136.1,233.3V240.1M136.5,234.7V241.4M137.0,224.1V228.4M137.4,224.7V236.3M137.9,225.6V236.2M138.3,226.6V238.0M138.8,227.7V238.3M139.2,228.9V233.0M139.7,230.1V238.1M140.1,231.4V235.0M140.6,232.7V238.1M141.0,224.1V236.2M141.5,224.8V228.2M141.9,225.8V236.3M142.4,226.9V236.7M142.8,228.1V233.6M143.3,229.4V238.5M143.7,230.7V241.5M144.2,232.1V237.9M144.6,233.5V242.2M145.1,235.0V240.5M145.5,236.6V245.1M146.0,224.2V229.6M146.4,224.4V228.3M146.8,224.8V230.8M147.3,225.3V233.5M147.7,225.8V230.6M148.1,226.5V234.2M148.5,227.2V235.6M148.9,227.9V233.2M149.4,228.8V236.4M149.8,229.6V236.6M150.2,230.6V234.8M150.6,231.5V237.8M151.1,232.6V237.3M151.5,233.6V242.3M151.9,234.7V240.3M152.3,235.9V243.3M152.7,237.1V248.8M153.2,238.3V247.0M153.6,239.5V250.9M154.0,240.8V249.9M154.4,242.2V246.6M154.8,243.5V252.1M155.3,244.9V254.4M155.7,246.4V253.8M156.1,247.8V259.0M156.5,249.3V258.1M156.9,250.8V262.1M157.4,252.4V261.3M157.8,253.9V264.4M158.2,255.6V261.8M158.6,257.2V265.5M159.1,258.8V268.2M159.5,260.5V271.9M159.9,262.3V270.0M160.3,264.0V271.3M160.7,265.8V270.3M161.2,267.6V278.0M161.6,269.4V280.8M162.0,224.5V233.6M162.4,224.6V234.4M162.9,224.7V235.8M163.3,224.9V233.8M163.7,225.2V231.8M164.1,225.5V236.1M164.6,225.8V231.9M165.0,226.1V236.4M165.4,226.5V233.9M165.8,226.9V238.5M166.3,227.3V239.0M166.7,227.8V235.9M167.1,228.2V234.9M167.5,228.7V237.5M168.0,229.2V234.6M168.4,229.7V240.9M168.8,230.2V235.0M169.2,230.8V239.5M169.7,231.4V239.6M170.1,231.9V236.5M170.5,232.5V243.6M171.0,233.2V243.6M171.4,233.8V241.6M171.8,234.4V246.1M172.2,235.1V241.9M172.7,235.7V243.6M173.1,236.4V247.1M173.5,237.1V244.2M173.9,237.8V245.7M174.4,238.6V244.6M174.8,239.3V251.1M175.2,240.0V248.2M175.6,240.8V248.9M176.1,241.6V246.9M176.5,242.4V250.7M176.9,243.2V247.3M177.3,244.0V253.4M177.8,244.8V251.7M178.2,245.6V256.0M178.6,246.4V254.2M179.0,247.3V255.8M179.5,248.2V259.0M179.9,249.0V256.5M180.3,249.9V257.0M180.8,250.8V255.8M181.2,251.7V258.2M181.6,252.6V261.6M182.0,253.5V264.2M182.5,254.5V261.3M182.9,255.4V265.3M183.3,256.4V260.5M183.7,257.3V268.5M184.2,258.3V268.1M184.6,259.3V268.2M185.0,260.3V267.6M185.4,261.3V272.3M185.9,262.3V268.4M186.3,263.3V271.4M186.7,264.3V274.5M187.1,265.4V276.1M187.6,266.4V272.1M188.0,224.9V231.6M188.5,225.4V234.7M188.9,226.1V230.5M189.4,226.8V234.9M189.8,227.7V232.5M190.3,228.6V236.2M190.7,229.6V235.1M191.2,230.5V235.9M191.6,231.6V240.5M192.1,232.6V242.7M192.5,233.7V239.7M193.0,225.1V233.4M193.4,225.6V235.2M193.8,226.4V234.5M194.3,227.2V236.0M194.7,228.2V232.8M195.1,229.2V236.5M195.5,230.3V235.5M195.9,231.4V240.7M196.4,232.5V236.7M196.8,233.7V244.2M197.2,234.9V245.6M197.6,236.2V242.2M198.1,237.4V244.8M198.5,238.7V246.4M198.9,240.1V244.2M199.3,241.4V248.9M199.7,242.8V246.6M200.2,244.2V249.8M200.6,245.6V251.2M201.0,225.7V235.7M201.4,226.2V235.1M201.9,226.9V235.8M202.3,227.7V234.7M202.8,228.5V234.6M203.2,229.5V233.5M203.6,230.4V241.0M204.1,231.4V235.6M204.5,232.4V240.7M204.9,233.5V237.0M205.4,234.6V238.9M205.8,235.7V244.8M206.2,236.9V242.6M206.7,238.1V247.8M207.1,239.3V243.9M207.6,240.5V243.9M208.0,226.4V232.1M208.4,226.9V234.1M208.9,227.6V236.7M209.3,228.4V235.5M209.8,229.2V238.4M210.2,230.1V236.9M210.6,231.1V238.0M211.1,232.1V242.2M211.5,233.1V236.9M211.9,234.2V239.9M212.4,235.3V242.0M212.8,236.4V245.0M213.2,237.6V246.6M213.7,238.7V245.4M214.1,239.9V246.4M214.6,241.2V247.3M215.0,227.1V236.7M215.4,227.7V237.1M215.9,228.5V236.0M216.3,229.4V237.7M216.8,230.3V239.0M217.2,231.3V237.3M217.6,232.4V240.6M218.1,233.5V239.6M218.5,234.7V244.1M218.9,235.9V245.3M219.4,237.1V240.6M219.8,238.4V243.7M220.2,239.7V245.6M220.7,241.0V247.3M221.1,242.4V251.3M221.6,243.7V249.8M222.0,227.9V235.5M222.4,228.4V236.3M222.8,229.0V237.3M223.3,229.7V235.1M223.7,230.5V237.0M224.1,231.3V239.6M224.5,232.2V235.5M224.9,233.1V238.3M225.4,234.0V238.6M225.8,235.0V244.5M226.2,236.0V245.8M226.6,237.0V246.8M227.1,238.1V246.7M227.5,239.1V244.9M227.9,240.2V249.8M228.3,241.3V251.0M228.7,242.4V248.7M229.2,243.6V248.1M229.6,244.7V251.9M230.0,228.9V237.6M230.4,229.4V234.4M230.8,230.1V239.1M231.3,230.9V240.0M231.7,231.7V240.7M232.1,232.6V240.7M232.5,233.6V241.6M232.9,234.6V240.2M233.4,235.6V241.3M233.8,236.7V240.6M234.2,237.8V245.7M234.6,239.0V246.4M235.1,240.1V246.8M235.5,241.3V247.0M235.9,242.5V246.3M236.3,243.7V252.4M236.7,245.0V250.2M237.2,246.3V250.8M237.6,247.6V253.4M238.0,229.8V238.0M238.4,230.3V235.7M238.8,230.9V241.0M239.3,231.6V239.3M239.7,232.4V240.9M240.1,233.2V238.9M240.5,234.1V242.4M240.9,235.0V243.4M241.4,235.9V242.4M241.8,236.9V241.8M242.2,237.9V242.9M242.6,238.9V243.0M243.1,240.0V249.9M243.5,241.0V245.3M243.9,242.1V251.2M244.3,243.2V249.8M244.7,244.4V251.0M245.2,245.5V252.8M245.6,246.7V256.2M246.0,230.9V237.6M246.4,231.3V241.8M246.9,231.9V236.2M247.3,232.6V240.0M247.7,233.3V238.8M248.2,234.1V244.2M248.6,235.0V239.9M249.0,235.8V239.5M249.5,236.7V247.5M249.9,237.7V247.3M250.3,238.6V243.0M250.8,239.6V243.9M251.2,240.6V243.9M251.7,241.6V249.1M252.1,242.7V246.8M252.5,243.7V250.2M253.0,244.8V249.0M253.4,245.9V249.4M253.8,247.0V251.4M254.3,248.2V254.6M254.7,249.3V259.9M255.1,250.5V261.2M255.6,251.7V258.5M256.0,232.2V237.4M256.4,232.6V241.4M256.9,233.1V241.9M257.3,233.8V243.2M257.7,234.4V243.0M258.1,235.2V238.9M258.6,235.9V241.4M259.0,236.8V247.1M259.4,237.6V245.0M259.9,238.5V244.4M260.3,239.3V245.1M260.7,240.2V249.1M261.1,241.2V251.8M261.6,242.1V252.4M262.0,243.1V251.8M262.4,244.1V251.5M262.9,245.1V250.7M263.3,246.1V254.6M263.7,247.1V253.1M264.1,248.2V258.8M264.6,249.2V257.3M265.0,250.3V260.8M265.4,251.4V255.0M265.9,252.5V258.7M266.3,253.6V262.0M266.7,254.7V263.7M267.1,255.9V262.1M267.6,257.0V261.2M268.0,233.8V240.0M268.4,234.1V239.4M268.8,234.6V244.8M269.3,235.2V244.9M269.7,235.8V239.7M270.1,236.4V242.1M270.5,237.1V247.1M270.9,237.8V248.1M271.4,238.5V245.6M271.8,239.3V248.5M272.2,240.1V249.4M272.6,240.8V244.8M273.1,241.7V248.9M273.5,242.5V246.3M273.9,243.3V250.0M274.3,244.2V254.1M274.7,245.1V249.7M275.2,246.0V256.1M275.6,246.9V251.4M288.0,236.6V246.9M288.4,236.9V242.1M288.9,237.3V241.5M289.3,237.8V242.3M289.7,238.3V246.5M290.1,238.8V248.4M290.6,239.4V242.9M291.0,240.0V248.1M291.4,240.6V248.7M291.9,241.2V246.7M292.3,241.8V251.2M292.7,242.5V246.4M293.1,243.2V248.0M293.6,243.9V252.6M294.0,237.5V248.1M294.4,237.9V243.6M294.9,238.6V242.6M295.3,239.4V244.5M295.7,240.2V246.0M296.1,241.1V250.1M296.6,242.1V249.1M297.0,243.0V250.1M297.4,244.0V250.0M297.9,245.1V253.3M298.3,246.2V255.8M298.7,247.3V256.3M299.1,248.4V253.1M299.6,249.5V256.6M300.0,250.7V261.4M300.4,251.9V262.5M300.9,253.1V263.5M301.3,254.3V261.5M301.7,255.6V259.9M302.1,256.9V264.7M302.6,258.2V266.1M303.0,238.8V244.3M303.4,239.3V247.9M303.8,240.0V248.3M304.3,240.8V250.0M304.7,241.6V245.1M305.1,242.5V251.7M305.5,243.5V252.2M305.9,244.5V252.5M306.4,245.6V250.0M306.8,246.6V257.0M307.2,247.7V252.2M307.6,248.9V258.0M308.1,250.0V258.9M308.5,251.2V257.0M308.9,252.4V258.1M309.3,253.7V259.6M309.7,254.9V263.0M310.2,256.2V260.9M310.6,257.5V268.1M311.0,240.0V248.6M311.4,240.4V249.7M311.9,241.1V247.2M312.3,241.8V252.2M312.7,242.6V248.0M313.2,243.4V250.0M313.6,244.3V251.6M314.0,245.2V249.6M314.5,246.2V251.3M314.9,247.2V255.2M315.3,248.2V252.2M315.8,249.2V256.6M316.2,250.3V260.6M316.6,251.4V256.2M317.0,252.5V260.6M317.5,253.6V261.2M317.9,254.7V265.1M318.3,255.9V265.8M318.8,257.1V263.4M319.2,258.3V268.8M319.6,259.5V262.9M320.1,260.7V271.4" fill="none" stroke="#000" stroke-width="0.62" />
<path d="M60.2,223.2V241.7M61.1,225.2V243.5M61.6,226.6V261.3M63.0,223.2V269.6M63.5,223.9V266.1M64.4,226.0V257.0M65.3,228.5V247.1M65.7,229.8V243.6M66.2,231.2V255.3M67.1,234.1V271.8M68.5,223.9V235.1M68.9,224.7V270.6M69.8,226.7V285.7M70.3,227.8V260.0M70.7,228.9V276.9M71.2,230.1V244.3M71.6,231.4V243.8M72.1,232.7V321.0M73.0,223.4V257.8M73.4,224.0V319.5M73.9,224.8V279.3M74.3,225.7V260.0M75.1,227.8V272.8M76.0,230.1V242.3M76.4,231.3V259.8M77.3,233.9V293.0M77.7,235.2V265.7M78.1,236.6V284.4M78.6,238.0V289.4M79.5,224.1V258.1M81.7,229.1V255.5M82.6,231.5V256.8M83.1,232.8V250.1M83.5,234.1V253.6M85.3,225.6V281.9M85.7,226.5V273.9M86.1,227.4V294.9M86.6,228.4V311.5M87.9,231.6V321.0M88.3,232.8V249.8M88.7,233.9V248.5M90.0,223.7V260.9M91.8,227.0V247.1M94.5,234.3V265.3M95.4,224.3V252.8M95.9,225.0V251.1M97.1,227.6V240.5M97.6,228.6V317.8M98.0,229.6V251.3M98.9,231.8V245.7M99.3,232.9V266.5M100.6,236.5V281.9M101.5,224.4V267.6M102.8,227.2V249.7M103.3,228.3V262.7M103.7,229.5V321.0M104.2,230.6V277.2M104.6,231.9V269.6M105.1,233.2V298.6M106.0,223.9V307.0M106.4,224.4V237.1M106.9,225.1V267.3M107.3,225.9V251.4M107.8,226.8V252.8M108.7,228.7V273.7M109.6,230.8V248.9M110.4,224.1V233.4M112.1,225.0V233.4M112.5,225.3V266.6M112.9,225.7V243.8M113.8,226.5V245.0M114.6,227.4V242.2M115.5,228.3V240.3M115.9,228.9V268.9M118.8,232.9V244.9M120.1,234.9V247.5M120.5,235.6V252.3M120.9,236.3V255.4M121.3,237.1V251.6M121.8,237.8V249.1M123.4,240.9V254.5M124.3,242.5V262.4M125.1,244.1V259.1M125.5,245.0V263.8M126.0,245.8V261.3M126.8,247.6V264.6M127.6,249.4V270.6M128.1,250.3V263.5M128.5,251.2V271.2M128.9,252.1V261.5M129.7,254.0V272.4M132.0,224.3V239.1M132.5,224.9V261.5M133.8,227.7V249.5M134.3,228.8V266.0M136.1,233.6V257.7M138.3,226.9V297.5M138.8,228.0V270.4M141.9,226.1V311.3M142.4,227.2V314.2M143.3,229.7V302.8M143.7,231.0V267.7M144.2,232.4V249.7M145.1,235.3V318.7M145.5,236.9V250.7M146.0,224.5V235.4M148.5,227.5V258.5M148.9,228.2V251.3M149.8,229.9V248.0M150.2,230.9V247.9M152.3,236.2V257.9M152.7,237.4V255.3M153.6,239.8V251.2M154.0,241.1V251.9M154.4,242.5V257.7M154.8,243.8V255.5M156.9,251.1V267.8M157.8,254.2V264.9M158.6,257.5V267.5M159.9,262.6V271.2M160.3,264.3V276.3M162.0,224.8V233.4M162.4,224.9V261.1M162.9,225.0V242.4M163.3,225.2V247.5M163.7,225.5V244.2M164.1,225.8V244.9M165.4,226.8V240.0M165.8,227.2V243.4M166.7,228.1V239.1M168.4,230.0V249.2M169.2,231.1V241.6M170.5,232.8V255.8M171.0,233.5V271.4M171.4,234.1V255.4M171.8,234.7V251.5M173.1,236.7V257.4M174.4,238.9V256.3M174.8,239.6V263.3M175.2,240.3V257.2M175.6,241.1V269.1M176.5,242.7V263.1M178.6,246.7V262.8M179.5,248.5V264.9M180.8,251.1V295.3M182.5,254.8V274.3M183.3,256.7V274.8M184.2,258.6V268.2M185.4,261.6V282.3M185.9,262.6V272.9M186.7,264.6V273.9M188.0,225.2V236.7M188.9,226.4V252.0M189.4,227.1V250.6M189.8,228.0V242.8M191.6,231.9V248.4M192.1,232.9V252.1M193.8,226.7V240.8M194.3,227.5V239.7M194.7,228.5V244.0M198.1,237.7V270.5M198.9,240.4V248.7M200.2,244.5V265.6M201.0,226.0V240.4M201.9,227.2V241.0M202.3,228.0V266.9M202.8,228.8V267.8M203.6,230.7V244.3M205.8,236.0V247.1M206.2,237.2V257.8M206.7,238.4V248.2M208.0,226.7V235.4M210.6,231.4V264.5M211.1,232.4V241.5M211.5,233.4V250.3M213.7,239.0V251.8M214.1,240.2V254.2M214.6,241.5V262.4M215.0,227.4V236.8M215.9,228.8V238.5M217.6,232.7V242.2M219.8,238.7V256.5M220.2,240.0V260.2M220.7,241.3V258.2M221.1,242.7V256.6M222.0,228.2V237.0M223.7,230.8V248.3M224.1,231.6V245.2M224.5,232.5V243.4M224.9,233.4V241.5M225.4,234.3V252.2M226.2,236.3V244.6M227.1,238.4V258.9M228.3,241.6V257.9M228.7,242.7V255.5M230.4,229.7V240.4M231.7,232.0V270.3M232.5,233.9V242.9M232.9,234.9V243.7M233.4,235.9V255.2M235.9,242.8V263.4M236.7,245.3V273.0M237.2,246.6V258.5M238.0,230.1V239.5M239.3,231.9V244.8M239.7,232.7V249.0M240.1,233.5V252.6M241.4,236.2V249.3M242.2,238.2V247.3M243.1,240.3V253.0M243.5,241.3V251.6M244.3,243.5V276.4M244.7,244.7V263.1M245.2,245.8V265.1M245.6,247.0V268.2M246.0,231.2V244.5M246.9,232.2V249.2M247.3,232.9V252.7M248.2,234.4V248.5M248.6,235.3V260.9M249.5,237.0V245.4M250.3,238.9V258.5M251.2,240.9V252.5M252.1,243.0V255.2M253.8,247.3V278.9M254.7,249.6V265.0M256.0,232.5V251.5M256.9,233.4V242.0M257.3,234.1V253.0M258.6,236.2V247.0M259.4,237.9V256.4M260.3,239.6V252.8M262.0,243.4V259.8M262.4,244.4V253.5M263.3,246.4V255.0M264.6,249.5V268.7M265.0,250.6V267.1M265.4,251.7V270.6M268.4,234.4V274.4M269.3,235.5V273.2M270.1,236.7V245.6M271.4,238.8V249.6M271.8,239.6V255.3M272.6,241.1V263.1M275.2,246.3V256.0M275.6,247.2V265.1M288.9,237.6V253.1M290.6,239.7V256.6M292.7,242.8V257.0M294.0,237.8V250.9M294.4,238.2V262.1M294.9,238.9V252.3M296.6,242.4V250.7M297.4,244.3V259.3M298.3,246.5V283.9M298.7,247.6V261.2M300.4,252.2V271.3M301.7,255.9V270.5M302.6,258.5V280.3M303.0,239.1V258.7M303.4,239.6V259.0M306.8,246.9V255.2M308.1,250.3V260.3M308.9,252.7V273.5M310.2,256.5V272.3M310.6,257.8V269.8M311.0,240.3V253.1M311.4,240.7V250.4M313.2,243.7V258.4M314.9,247.5V261.2M318.3,256.2V277.1M320.1,261.0V282.9" fill="none" stroke="#000" stroke-width="0.5" />
<rect x="60.20" y="328.60" width="1.14" height="18.00" fill="#1e90ff" stroke="none" stroke-width="1" rx="0" />
<rect x="61.29" y="328.60" width="1.66" height="18.00" fill="#40e0d0" stroke="none" stroke-width="1" rx="0" />
<rect x="62.90" y="328.60" width="1.14" height="18.00" fill="#9932cc" stroke="none" stroke-width="1" rx="0" />
<rect x="63.99" y="328.60" width="0.80" height="18.00" fill="#228b22" stroke="none" stroke-width="1" rx="0" />
<rect x="64.74" y="328.60" width="1.17" height="18.00" fill="#cd853f" stroke="none" stroke-width="1" rx="0" />
<rect x="65.85" y="328.60" width="1.58" height="18.00" fill="#c75a8a" stroke="none" stroke-width="1" rx="0" />
<rect x="67.39" y="328.60" width="1.13" height="18.00" fill="#88c888" stroke="none" stroke-width="1" rx="0" />
<rect x="68.47" y="328.60" width="0.67" height="18.00" fill="#00ced1" stroke="none" stroke-width="1" rx="0" />
<rect x="69.08" y="328.60" width="0.60" height="18.00" fill="#cc6644" stroke="none" stroke-width="1" rx="0" />
<rect x="69.64" y="328.60" width="1.80" height="18.00" fill="#00ced1" stroke="none" stroke-width="1" rx="0" />
<rect x="71.39" y="328.60" width="1.51" height="18.00" fill="#00ced1" stroke="none" stroke-width="1" rx="0" />
<rect x="72.85" y="328.60" width="0.75" height="18.00" fill="#8b4a9a" stroke="none" stroke-width="1" rx="0" />
<rect x="73.56" y="328.60" width="1.63" height="18.00" fill="#4a6ac8" stroke="none" stroke-width="1" rx="0" />
<rect x="75.14" y="328.60" width="0.63" height="18.00" fill="#5a5a5a" stroke="none" stroke-width="1" rx="0" />
<rect x="75.72" y="328.60" width="1.69" height="18.00" fill="#cd853f" stroke="none" stroke-width="1" rx="0" />
<rect x="77.36" y="328.60" width="0.59" height="18.00" fill="#40e0d0" stroke="none" stroke-width="1" rx="0" />
<rect x="77.90" y="328.60" width="0.97" height="18.00" fill="#9932cc" stroke="none" stroke-width="1" rx="0" />
<rect x="78.82" y="328.60" width="1.65" height="18.00" fill="#228b22" stroke="none" stroke-width="1" rx="0" />
<rect x="80.42" y="328.60" width="0.85" height="18.00" fill="#7a3a2a" stroke="none" stroke-width="1" rx="0" />
<rect x="81.22" y="328.60" width="1.20" height="18.00" fill="#4a6ac8" stroke="none" stroke-width="1" rx="0" />
<rect x="82.37" y="328.60" width="1.14" height="18.00" fill="#d070d0" stroke="none" stroke-width="1" rx="0" />
<rect x="83.47" y="328.60" width="1.08" height="18.00" fill="#1e90ff" stroke="none" stroke-width="1" rx="0" />
<rect x="84.50" y="328.60" width="1.84" height="18.00" fill="#4a6ac8" stroke="none" stroke-width="1" rx="0" />
<rect x="86.29" y="328.60" width="1.47" height="18.00" fill="#a0d060" stroke="none" stroke-width="1" rx="0" />
<rect x="87.71" y="328.60" width="1.54" height="18.00" fill="#228b22" stroke="none" stroke-width="1" rx="0" />
<rect x="89.20" y="328.60" width="0.93" height="18.00" fill="#4a6ac8" stroke="none" stroke-width="1" rx="0" />
<rect x="90.07" y="328.60" width="1.28" height="18.00" fill="#c75a8a" stroke="none" stroke-width="1" rx="0" />
<rect x="91.30" y="328.60" width="1.07" height="18.00" fill="#7a3a2a" stroke="none" stroke-width="1" rx="0" />
<rect x="92.32" y="328.60" width="1.05" height="18.00" fill="#8b4a9a" stroke="none" stroke-width="1" rx="0" />
<rect x="93.33" y="328.60" width="1.65" height="18.00" fill="#8b4a9a" stroke="none" stroke-width="1" rx="0" />
<rect x="94.93" y="328.60" width="0.83" height="18.00" fill="#2e8b57" stroke="none" stroke-width="1" rx="0" />
<rect x="95.71" y="328.60" width="1.16" height="18.00" fill="#cc6644" stroke="none" stroke-width="1" rx="0" />
<rect x="96.82" y="328.60" width="1.10" height="18.00" fill="#9932cc" stroke="none" stroke-width="1" rx="0" />
<rect x="97.86" y="328.60" width="1.37" height="18.00" fill="#d070d0" stroke="none" stroke-width="1" rx="0" />
<rect x="99.18" y="328.60" width="0.99" height="18.00" fill="#7a3a2a" stroke="none" stroke-width="1" rx="0" />
<rect x="100.12" y="328.60" width="0.98" height="18.00" fill="#f4b6c2" stroke="none" stroke-width="1" rx="0" />
<rect x="101.05" y="328.60" width="1.54" height="18.00" fill="#c75a8a" stroke="none" stroke-width="1" rx="0" />
<rect x="102.54" y="328.60" width="0.72" height="18.00" fill="#c75a8a" stroke="none" stroke-width="1" rx="0" />
<rect x="103.21" y="328.60" width="0.56" height="18.00" fill="#40e0d0" stroke="none" stroke-width="1" rx="0" />
<rect x="103.73" y="328.60" width="1.59" height="18.00" fill="#b03060" stroke="none" stroke-width="1" rx="0" />
<rect x="105.26" y="328.60" width="1.44" height="18.00" fill="#5a5a5a" stroke="none" stroke-width="1" rx="0" />
<rect x="106.65" y="328.60" width="1.13" height="18.00" fill="#5a5a5a" stroke="none" stroke-width="1" rx="0" />
<rect x="107.73" y="328.60" width="1.83" height="18.00" fill="#88c888" stroke="none" stroke-width="1" rx="0" />
<rect x="109.51" y="328.60" width="1.09" height="18.00" fill="#cc6644" stroke="none" stroke-width="1" rx="0" />
<rect x="110.56" y="328.60" width="0.09" height="18.00" fill="#f4b6c2" stroke="none" stroke-width="1" rx="0" />
<rect x="60.20" y="346.60" width="2.63" height="18.00" fill="#40e0d0" stroke="none" stroke-width="1" rx="0" />
<rect x="62.78" y="346.60" width="1.19" height="18.00" fill="#00c000" stroke="none" stroke-width="1" rx="0" />
<rect x="63.92" y="346.60" width="1.84" height="18.00" fill="#40e0d0" stroke="none" stroke-width="1" rx="0" />
<rect x="65.71" y="346.60" width="1.07" height="18.00" fill="#88c888" stroke="none" stroke-width="1" rx="0" />
<rect x="66.73" y="346.60" width="2.64" height="18.00" fill="#9a60d0" stroke="none" stroke-width="1" rx="0" />
<rect x="69.32" y="346.60" width="1.93" height="18.00" fill="#f4b6c2" stroke="none" stroke-width="1" rx="0" />
<rect x="71.20" y="346.60" width="0.73" height="18.00" fill="#adff2f" stroke="none" stroke-width="1" rx="0" />
<rect x="71.89" y="346.60" width="1.08" height="18.00" fill="#5fd4c8" stroke="none" stroke-width="1" rx="0" />
<rect x="72.91" y="346.60" width="0.67" height="18.00" fill="#9a60d0" stroke="none" stroke-width="1" rx="0" />
<rect x="73.53" y="346.60" width="1.31" height="18.00" fill="#5fd4c8" stroke="none" stroke-width="1" rx="0" />
<rect x="74.79" y="346.60" width="1.42" height="18.00" fill="#f4b6c2" stroke="none" stroke-width="1" rx="0" />
<rect x="76.16" y="346.60" width="0.83" height="18.00" fill="#9a60d0" stroke="none" stroke-width="1" rx="0" />
<rect x="76.94" y="346.60" width="1.92" height="18.00" fill="#40e0d0" stroke="none" stroke-width="1" rx="0" />
<rect x="78.82" y="346.60" width="1.85" height="18.00" fill="#e8c0d0" stroke="none" stroke-width="1" rx="0" />
<rect x="80.62" y="346.60" width="1.89" height="18.00" fill="#adff2f" stroke="none" stroke-width="1" rx="0" />
<rect x="82.46" y="346.60" width="2.57" height="18.00" fill="#c0c0c0" stroke="none" stroke-width="1" rx="0" />
<rect x="84.98" y="346.60" width="2.31" height="18.00" fill="#adff2f" stroke="none" stroke-width="1" rx="0" />
<rect x="87.25" y="346.60" width="2.38" height="18.00" fill="#adff2f" stroke="none" stroke-width="1" rx="0" />
<rect x="89.58" y="346.60" width="1.90" height="18.00" fill="#5fd4c8" stroke="none" stroke-width="1" rx="0" />
<rect x="91.43" y="346.60" width="2.47" height="18.00" fill="#9a60d0" stroke="none" stroke-width="1" rx="0" />
<rect x="93.85" y="346.60" width="1.15" height="18.00" fill="#4a6ac8" stroke="none" stroke-width="1" rx="0" />
<rect x="94.95" y="346.60" width="0.97" height="18.00" fill="#a0d8d0" stroke="none" stroke-width="1" rx="0" />
<rect x="95.87" y="346.60" width="2.53" height="18.00" fill="#4a6ac8" stroke="none" stroke-width="1" rx="0" />
<rect x="98.35" y="346.60" width="2.02" height="18.00" fill="#88c888" stroke="none" stroke-width="1" rx="0" />
<rect x="100.32" y="346.60" width="2.41" height="18.00" fill="#9a60d0" stroke="none" stroke-width="1" rx="0" />
<rect x="102.68" y="346.60" width="0.81" height="18.00" fill="#40e0d0" stroke="none" stroke-width="1" rx="0" />
<rect x="103.44" y="346.60" width="0.86" height="18.00" fill="#40e0d0" stroke="none" stroke-width="1" rx="0" />
<rect x="104.25" y="346.60" width="1.67" height="18.00" fill="#5fd4c8" stroke="none" stroke-width="1" rx="0" />
<rect x="105.87" y="346.60" width="1.13" height="18.00" fill="#ee82ee" stroke="none" stroke-width="1" rx="0" />
<rect x="106.95" y="346.60" width="1.43" height="18.00" fill="#88c888" stroke="none" stroke-width="1" rx="0" />
<rect x="108.33" y="346.60" width="2.30" height="18.00" fill="#9a60d0" stroke="none" stroke-width="1" rx="0" />
<rect x="110.58" y="346.60" width="0.07" height="18.00" fill="#1e90ff" stroke="none" stroke-width="1" rx="0" />
<rect x="131.00" y="328.60" width="0.78" height="18.00" fill="#4a6ac8" stroke="none" stroke-width="1" rx="0" />
<rect x="131.73" y="328.60" width="0.71" height="18.00" fill="#e8e8e8" stroke="none" stroke-width="1" rx="0" />
<rect x="132.39" y="328.60" width="1.28" height="18.00" fill="#cd853f" stroke="none" stroke-width="1" rx="0" />
<rect x="133.62" y="328.60" width="1.35" height="18.00" fill="#d070d0" stroke="none" stroke-width="1" rx="0" />
<rect x="134.92" y="328.60" width="0.83" height="18.00" fill="#5a5a5a" stroke="none" stroke-width="1" rx="0" />
<rect x="135.69" y="328.60" width="1.52" height="18.00" fill="#4a6ac8" stroke="none" stroke-width="1" rx="0" />
<rect x="137.17" y="328.60" width="0.90" height="18.00" fill="#40e0d0" stroke="none" stroke-width="1" rx="0" />
<rect x="138.02" y="328.60" width="0.87" height="18.00" fill="#2e8b57" stroke="none" stroke-width="1" rx="0" />
<rect x="138.84" y="328.60" width="0.78" height="18.00" fill="#6a5acd" stroke="none" stroke-width="1" rx="0" />
<rect x="139.57" y="328.60" width="1.24" height="18.00" fill="#88c888" stroke="none" stroke-width="1" rx="0" />
<rect x="140.76" y="328.60" width="0.67" height="18.00" fill="#88c888" stroke="none" stroke-width="1" rx="0" />
<rect x="141.38" y="328.60" width="1.71" height="18.00" fill="#a0d060" stroke="none" stroke-width="1" rx="0" />
<rect x="143.04" y="328.60" width="1.40" height="18.00" fill="#228b22" stroke="none" stroke-width="1" rx="0" />
<rect x="144.39" y="328.60" width="0.66" height="18.00" fill="#88c888" stroke="none" stroke-width="1" rx="0" />
<rect x="131.00" y="346.60" width="1.59" height="18.00" fill="#40e0d0" stroke="none" stroke-width="1" rx="0" />
<rect x="132.54" y="346.60" width="1.41" height="18.00" fill="#e8c0d0" stroke="none" stroke-width="1" rx="0" />
<rect x="133.90" y="346.60" width="1.77" height="18.00" fill="#40e0d0" stroke="none" stroke-width="1" rx="0" />
<rect x="135.63" y="346.60" width="0.68" height="18.00" fill="#a0d8d0" stroke="none" stroke-width="1" rx="0" />
<rect x="136.26" y="346.60" width="0.77" height="18.00" fill="#f4b6c2" stroke="none" stroke-width="1" rx="0" />
<rect x="136.98" y="346.60" width="1.82" height="18.00" fill="#e8c0d0" stroke="none" stroke-width="1" rx="0" />
<rect x="138.75" y="346.60" width="0.87" height="18.00" fill="#f4b6c2" stroke="none" stroke-width="1" rx="0" />
<rect x="139.57" y="346.60" width="0.77" height="18.00" fill="#1e90ff" stroke="none" stroke-width="1" rx="0" />
<rect x="140.29" y="346.60" width="1.24" height="18.00" fill="#40e0d0" stroke="none" stroke-width="1" rx="0" />
<rect x="141.47" y="346.60" width="2.09" height="18.00" fill="#ee82ee" stroke="none" stroke-width="1" rx="0" />
<rect x="143.52" y="346.60" width="1.53" height="18.00" fill="#adff2f" stroke="none" stroke-width="1" rx="0" />
<rect x="72.50" y="328.60" width="3.00" height="18.00" fill="#00008b" stroke="none" stroke-width="1" rx="0" />
<rect x="63.00" y="328.60" width="2.00" height="18.00" fill="#9a4ab0" stroke="none" stroke-width="1" rx="0" />
<rect x="84.00" y="328.60" width="2.00" height="18.00" fill="#2e8b57" stroke="none" stroke-width="1" rx="0" />
<rect x="93.00" y="328.60" width="2.50" height="18.00" fill="#88d8d0" stroke="none" stroke-width="1" rx="0" />
<rect x="103.00" y="328.60" width="2.00" height="18.00" fill="#c03060" stroke="none" stroke-width="1" rx="0" />
<rect x="64.00" y="346.60" width="4.00" height="18.00" fill="#5fd4c8" stroke="none" stroke-width="1" rx="0" />
<rect x="72.50" y="346.60" width="2.50" height="18.00" fill="#2a2ad8" stroke="none" stroke-width="1" rx="0" />
<rect x="80.00" y="346.60" width="4.00" height="18.00" fill="#5fd4c8" stroke="none" stroke-width="1" rx="0" />
<rect x="97.00" y="346.60" width="4.00" height="18.00" fill="#f4b6c2" stroke="none" stroke-width="1" rx="0" />
<rect x="105.00" y="346.60" width="4.00" height="18.00" fill="#f4b6c2" stroke="none" stroke-width="1" rx="0" />
<rect x="110.60" y="328.60" width="20.50" height="18.00" fill="#00ff00" stroke="none" stroke-width="1" rx="0" />
<rect x="144.90" y="328.60" width="19.50" height="18.00" fill="#ff0000" stroke="none" stroke-width="1" rx="0" />
<rect x="164.30" y="328.60" width="23.60" height="18.00" fill="#0000ff" stroke="none" stroke-width="1" rx="0" />
<rect x="187.80" y="328.60" width="1.60" height="18.00" fill="#f4b6c2" stroke="none" stroke-width="1" rx="0" />
<rect x="189.30" y="328.60" width="1.10" height="18.00" fill="#888" stroke="none" stroke-width="1" rx="0" />
<rect x="190.30" y="328.60" width="3.00" height="18.00" fill="#ffc0cb" stroke="none" stroke-width="1" rx="0" />
<rect x="193.20" y="328.60" width="11.90" height="18.00" fill="#ff00ff" stroke="none" stroke-width="1" rx="0" />
<rect x="205.00" y="328.60" width="3.60" height="18.00" fill="#ffc0cb" stroke="none" stroke-width="1" rx="0" />
<rect x="208.50" y="328.60" width="4.20" height="18.00" fill="#b5302c" stroke="none" stroke-width="1" rx="0" />
<rect x="212.60" y="328.60" width="1.50" height="18.00" fill="#7a1c1c" stroke="none" stroke-width="1" rx="0" />
<rect x="214.00" y="328.60" width="1.80" height="18.00" fill="#000" stroke="none" stroke-width="1" rx="0" />
<rect x="215.70" y="328.60" width="1.40" height="18.00" fill="#40e0d0" stroke="none" stroke-width="1" rx="0" />
<rect x="217.00" y="328.60" width="1.40" height="18.00" fill="#666" stroke="none" stroke-width="1" rx="0" />
<rect x="218.30" y="328.60" width="1.40" height="18.00" fill="#40e0d0" stroke="none" stroke-width="1" rx="0" />
<rect x="219.60" y="328.60" width="1.30" height="18.00" fill="#999" stroke="none" stroke-width="1" rx="0" />
<rect x="220.80" y="328.60" width="6.30" height="18.00" fill="#deb887" stroke="none" stroke-width="1" rx="0" />
<rect x="227.00" y="328.60" width="0.70" height="18.00" fill="#888" stroke="none" stroke-width="1" rx="0" />
<rect x="227.60" y="328.60" width="9.60" height="18.00" fill="#adff2f" stroke="none" stroke-width="1" rx="0" />
<rect x="237.10" y="328.60" width="1.30" height="18.00" fill="#daa520" stroke="none" stroke-width="1" rx="0" />
<rect x="238.30" y="328.60" width="0.80" height="18.00" fill="#222" stroke="none" stroke-width="1" rx="0" />
<rect x="239.00" y="328.60" width="1.70" height="18.00" fill="#ffd700" stroke="none" stroke-width="1" rx="0" />
<rect x="240.60" y="328.60" width="0.90" height="18.00" fill="#8b5a00" stroke="none" stroke-width="1" rx="0" />
<rect x="241.40" y="328.60" width="1.10" height="18.00" fill="#ffd700" stroke="none" stroke-width="1" rx="0" />
<rect x="242.40" y="328.60" width="2.70" height="18.00" fill="#e4d44a" stroke="none" stroke-width="1" rx="0" />
<rect x="245.00" y="328.60" width="1.60" height="18.00" fill="#deb887" stroke="none" stroke-width="1" rx="0" />
<rect x="246.50" y="328.60" width="2.60" height="18.00" fill="#dbe34a" stroke="none" stroke-width="1" rx="0" />
<rect x="249.00" y="328.60" width="1.90" height="18.00" fill="#e8c860" stroke="none" stroke-width="1" rx="0" />
<rect x="250.80" y="328.60" width="4.80" height="18.00" fill="#a020f0" stroke="none" stroke-width="1" rx="0" />
<rect x="255.50" y="328.60" width="1.60" height="18.00" fill="#888" stroke="none" stroke-width="1" rx="0" />
<rect x="257.00" y="328.60" width="1.70" height="18.00" fill="#6b8e23" stroke="none" stroke-width="1" rx="0" />
<rect x="258.60" y="328.60" width="1.50" height="18.00" fill="#999" stroke="none" stroke-width="1" rx="0" />
<rect x="260.00" y="328.60" width="1.70" height="18.00" fill="#556b2f" stroke="none" stroke-width="1" rx="0" />
<rect x="261.60" y="328.60" width="1.90" height="18.00" fill="#aaa" stroke="none" stroke-width="1" rx="0" />
<rect x="263.40" y="328.60" width="1.70" height="18.00" fill="#708090" stroke="none" stroke-width="1" rx="0" />
<rect x="265.00" y="328.60" width="1.80" height="18.00" fill="#b0b0b0" stroke="none" stroke-width="1" rx="0" />
<rect x="266.70" y="328.60" width="6.30" height="18.00" fill="#b5302c" stroke="none" stroke-width="1" rx="0" />
<rect x="272.90" y="328.60" width="15.40" height="18.00" fill="#40e0d0" stroke="none" stroke-width="1" rx="0" />
<rect x="288.20" y="328.60" width="1.50" height="18.00" fill="#ffd700" stroke="none" stroke-width="1" rx="0" />
<rect x="289.60" y="328.60" width="1.10" height="18.00" fill="#8b6914" stroke="none" stroke-width="1" rx="0" />
<rect x="290.60" y="328.60" width="1.90" height="18.00" fill="#ffe000" stroke="none" stroke-width="1" rx="0" />
<rect x="292.40" y="328.60" width="1.10" height="18.00" fill="#333" stroke="none" stroke-width="1" rx="0" />
<rect x="293.40" y="328.60" width="1.50" height="18.00" fill="#daa520" stroke="none" stroke-width="1" rx="0" />
<rect x="294.80" y="328.60" width="1.70" height="18.00" fill="#ffd700" stroke="none" stroke-width="1" rx="0" />
<rect x="296.40" y="328.60" width="6.20" height="18.00" fill="#ffc0cb" stroke="none" stroke-width="1" rx="0" />
<rect x="302.50" y="328.60" width="11.80" height="18.00" fill="#ffff00" stroke="none" stroke-width="1" rx="0" />
<rect x="314.20" y="328.60" width="4.80" height="18.00" fill="#000" stroke="none" stroke-width="1" rx="0" />
<rect x="318.90" y="328.60" width="2.70" height="18.00" fill="#ffff00" stroke="none" stroke-width="1" rx="0" />
<rect x="110.60" y="346.60" width="20.50" height="18.00" fill="#00ff00" stroke="none" stroke-width="1" rx="0" />
<rect x="144.90" y="346.60" width="19.50" height="18.00" fill="#ff0000" stroke="none" stroke-width="1" rx="0" />
<rect x="164.30" y="346.60" width="23.60" height="18.00" fill="#0000ff" stroke="none" stroke-width="1" rx="0" />
<rect x="187.80" y="346.60" width="1.80" height="18.00" fill="#f4b6c2" stroke="none" stroke-width="1" rx="0" />
<rect x="189.50" y="346.60" width="0.90" height="18.00" fill="#888" stroke="none" stroke-width="1" rx="0" />
<rect x="190.30" y="346.60" width="15.20" height="18.00" fill="#ffc0cb" stroke="none" stroke-width="1" rx="0" />
<rect x="205.40" y="346.60" width="1.70" height="18.00" fill="#3a8eea" stroke="none" stroke-width="1" rx="0" />
<rect x="207.00" y="346.60" width="6.70" height="18.00" fill="#40e0d0" stroke="none" stroke-width="1" rx="0" />
<rect x="213.60" y="346.60" width="1.50" height="18.00" fill="#ffc0cb" stroke="none" stroke-width="1" rx="0" />
<rect x="215.00" y="346.60" width="2.10" height="18.00" fill="#40e0d0" stroke="none" stroke-width="1" rx="0" />
<rect x="217.00" y="346.60" width="0.90" height="18.00" fill="#1e90ff" stroke="none" stroke-width="1" rx="0" />
<rect x="217.80" y="346.60" width="3.10" height="18.00" fill="#40e0d0" stroke="none" stroke-width="1" rx="0" />
<rect x="220.80" y="346.60" width="6.30" height="18.00" fill="#deb887" stroke="none" stroke-width="1" rx="0" />
<rect x="227.00" y="346.60" width="9.10" height="18.00" fill="#adff2f" stroke="none" stroke-width="1" rx="0" />
<rect x="236.00" y="346.60" width="5.10" height="18.00" fill="#40e0d0" stroke="none" stroke-width="1" rx="0" />
<rect x="241.00" y="346.60" width="1.60" height="18.00" fill="#f0d8c0" stroke="none" stroke-width="1" rx="0" />
<rect x="242.50" y="346.60" width="1.60" height="18.00" fill="#40e0d0" stroke="none" stroke-width="1" rx="0" />
<rect x="244.00" y="346.60" width="1.60" height="18.00" fill="#f4c8d0" stroke="none" stroke-width="1" rx="0" />
<rect x="245.50" y="346.60" width="2.60" height="18.00" fill="#40e0d0" stroke="none" stroke-width="1" rx="0" />
<rect x="248.00" y="346.60" width="1.30" height="18.00" fill="#e8d8b0" stroke="none" stroke-width="1" rx="0" />
<rect x="249.20" y="346.60" width="2.30" height="18.00" fill="#40e0d0" stroke="none" stroke-width="1" rx="0" />
<rect x="251.40" y="346.60" width="4.20" height="18.00" fill="#a020f0" stroke="none" stroke-width="1" rx="0" />
<rect x="255.50" y="346.60" width="32.80" height="18.00" fill="#40e0d0" stroke="none" stroke-width="1" rx="0" />
<rect x="288.20" y="346.60" width="1.30" height="18.00" fill="#ffc0cb" stroke="none" stroke-width="1" rx="0" />
<rect x="289.40" y="346.60" width="2.20" height="18.00" fill="#40e0d0" stroke="none" stroke-width="1" rx="0" />
<rect x="291.50" y="346.60" width="1.20" height="18.00" fill="#ffc0cb" stroke="none" stroke-width="1" rx="0" />
<rect x="292.60" y="346.60" width="2.00" height="18.00" fill="#40e0d0" stroke="none" stroke-width="1" rx="0" />
<rect x="294.50" y="346.60" width="0.90" height="18.00" fill="#ffc0cb" stroke="none" stroke-width="1" rx="0" />
<rect x="295.30" y="346.60" width="1.20" height="18.00" fill="#40e0d0" stroke="none" stroke-width="1" rx="0" />
<rect x="296.40" y="346.60" width="6.20" height="18.00" fill="#ffc0cb" stroke="none" stroke-width="1" rx="0" />
<rect x="302.50" y="346.60" width="11.80" height="18.00" fill="#40e0d0" stroke="none" stroke-width="1" rx="0" />
<rect x="314.20" y="346.60" width="7.40" height="18.00" fill="#ffc0cb" stroke="none" stroke-width="1" rx="0" />
<line x1="60.20" y1="346.60" x2="321.50" y2="346.60" stroke="#333" stroke-width="0.5" />
<rect x="114.70" y="257.80" width="16.10" height="70.20" fill="#00ff00" stroke="#145214" stroke-width="1.9" rx="3" />
<text x="122.75" y="266.02" font-size="7.1" text-anchor="middle" font-weight="bold" fill="#fff" >M4</text>
<text x="124.85" y="324" font-size="6.25" font-weight="bold" fill="#000" text-anchor="start" transform="rotate(-90 124.85 324)">Ribosome</text>
<rect x="144.50" y="257.80" width="16.10" height="70.20" fill="#ff0000" stroke="#3a0a0a" stroke-width="1.9" rx="3" />
<text x="152.55" y="266.02" font-size="7.1" text-anchor="middle" font-weight="bold" fill="#fff" >M6</text>
<rect x="168.50" y="257.80" width="16.40" height="70.20" fill="#0000ff" stroke="#0a0a50" stroke-width="1.9" rx="3" />
<text x="176.70" y="266.02" font-size="7.1" text-anchor="middle" font-weight="bold" fill="#fff" >M5</text>
<rect x="192.60" y="257.80" width="15.50" height="70.20" fill="#ffc0cb" stroke="#0d2a3d" stroke-width="1.9" rx="3" />
<text x="200.35" y="266.02" font-size="7.1" text-anchor="middle" font-weight="bold" fill="#fff" >M1</text>
<text x="202.45" y="324" font-size="6.25" font-weight="bold" fill="#000" text-anchor="start" transform="rotate(-90 202.45 324)">Mitochondria</text>
<rect x="210.50" y="257.80" width="15.40" height="70.20" fill="#d2b48c" stroke="#0d2a3d" stroke-width="1.9" rx="3" />
<text x="218.20" y="266.02" font-size="7.1" text-anchor="middle" font-weight="bold" fill="#fff" >M8</text>
<text x="220.30" y="324" font-size="6.25" font-weight="bold" fill="#000" text-anchor="start" transform="rotate(-90 220.30 324)">Proteasome</text>
<rect x="228.30" y="257.80" width="15.60" height="70.20" fill="#adff2f" stroke="#0d2a3d" stroke-width="1.9" rx="3" />
<text x="236.10" y="266.02" font-size="7.1" text-anchor="middle" font-weight="bold" fill="#fff" >M7</text>
<text x="238.20" y="324" font-size="6.25" font-weight="bold" fill="#000" text-anchor="start" transform="rotate(-90 238.20 324)">Axonal Transport</text>
<rect x="246.90" y="257.80" width="15.80" height="70.20" fill="#a020f0" stroke="#0d2a3d" stroke-width="1.9" rx="3" />
<text x="254.80" y="266.02" font-size="7.1" text-anchor="middle" font-weight="bold" fill="#fff" >M2</text>
<text x="256.90" y="324" font-size="6.25" font-weight="bold" fill="#fff" text-anchor="start" transform="rotate(-90 256.90 324)">Cell Signaling</text>
<rect x="271.90" y="257.80" width="15.30" height="70.20" fill="#40e0d0" stroke="#0d2a3d" stroke-width="1.9" rx="3" />
<text x="279.55" y="266.02" font-size="7.1" text-anchor="middle" font-weight="bold" fill="#fff" >M3</text>
<text x="281.65" y="324" font-size="6.25" font-weight="bold" fill="#000" text-anchor="start" transform="rotate(-90 281.65 324)">Synaptic Vesicle</text>
<text x="151.10" y="322.6" font-size="5" font-weight="bold" fill="#fff" text-anchor="start" transform="rotate(-90 151.10 322.6)">Endoplasmic</text>
<text x="157.00" y="322.6" font-size="5" font-weight="bold" fill="#fff" text-anchor="start" transform="rotate(-90 157.00 322.6)">Reticulum</text>
<text x="174.80" y="324.6" font-size="5" font-weight="bold" fill="#fff" text-anchor="start" transform="rotate(-90 174.80 324.6)">Extracellular</text>
<text x="181.30" y="324.6" font-size="5" font-weight="bold" fill="#fff" text-anchor="start" transform="rotate(-90 181.30 324.6)">vesicle signaling</text>
<text x="10.80" y="392.93" font-size="10.5" text-anchor="middle" font-weight="normal" fill="#000" >m</text>
<polygon points="38.44,402.19 34.49,406.14 28.91,406.14 24.96,402.19 24.96,396.61 28.91,392.66 34.49,392.66 38.44,396.61" fill="#dcdcdc" stroke="#bdbdbd" stroke-width="0.75"/>
<rect x="25.60" y="413.70" width="13.30" height="7.20" fill="#dde7f4" stroke="#b8c8da" stroke-width="0.6" rx="0" />
<line x1="25.20" y1="433.60" x2="36.00" y2="433.60" stroke="#5b9cc9" stroke-width="0.7" />
<polygon points="39,433.6 34.5,431.6 34.5,435.6" fill="#5b9cc9"/>
<line x1="25.20" y1="450.70" x2="38.90" y2="450.70" stroke="#e05555" stroke-width="0.7" />
<line x1="38.90" y1="448.20" x2="38.90" y2="453.20" stroke="#e05555" stroke-width="0.8" />
<line x1="25.20" y1="466.20" x2="34.50" y2="466.20" stroke="#9ad49a" stroke-width="0.7" />
<rect x="34.20" y="463.60" width="5.30" height="5.30" fill="#62c462" stroke="none" stroke-width="1" rx="0" />
<text x="50.30" y="401.58" font-size="8.4" text-anchor="start" font-weight="normal" fill="#000" >Protein complex</text>
<text x="50.30" y="419.18" font-size="8.4" text-anchor="start" font-weight="normal" fill="#000" >Phenotype</text>
<text x="50.30" y="437.48" font-size="8.4" text-anchor="start" font-weight="normal" fill="#000" >Positive regulation</text>
<text x="50.30" y="453.28" font-size="8.4" text-anchor="start" font-weight="normal" fill="#000" >Negative regulation</text>
<text x="49.30" y="469.48" font-size="8.4" text-anchor="start" font-weight="normal" fill="#000" >Binding</text>
<circle cx="14.10" cy="541.70" r="4.20" fill="#fff" stroke="#ea7dea" stroke-width="1" />
<text x="25.60" y="544.68" font-size="8.4" text-anchor="start" font-weight="normal" fill="#000" >Mitochondria</text>
<circle cx="14.10" cy="555.60" r="4.20" fill="#fff" stroke="#8fd6c2" stroke-width="1" />
<text x="25.60" y="558.58" font-size="8.4" text-anchor="start" font-weight="normal" fill="#000" >Synaptic vesicle</text>
<circle cx="14.10" cy="569.70" r="4.20" fill="#fff" stroke="#c08fc8" stroke-width="1" />
<text x="25.60" y="572.68" font-size="8.4" text-anchor="start" font-weight="normal" fill="#000" >Cell signaling</text>
<circle cx="14.10" cy="583.90" r="4.20" fill="#fff" stroke="#3030c8" stroke-width="1" />
<text x="25.60" y="586.88" font-size="8.4" text-anchor="start" font-weight="normal" fill="#000" >Extracellular vesicle signaling</text>
<circle cx="14.10" cy="597.50" r="4.20" fill="#fff" stroke="#e0502e" stroke-width="1" />
<text x="25.60" y="600.48" font-size="8.4" text-anchor="start" font-weight="normal" fill="#000" >Endoplasmic reticulum</text>
<text x="7.40" y="638.43" font-size="9.66" text-anchor="start" font-weight="normal" fill="#000" >Significant correlation with SV2A (r)</text>
<circle cx="16.60" cy="653.60" r="8.50" fill="#4b7eb2" stroke="#4472a4" stroke-width="0.7" />
<text x="16.60" y="655.65" font-size="5.2" text-anchor="middle" font-weight="normal" fill="#123" >-1</text>
<circle cx="39.70" cy="653.60" r="8.50" fill="#c6e4f6" stroke="#6aa0cc" stroke-width="0.7" />
<text x="39.70" y="655.50" font-size="4.8" text-anchor="middle" font-weight="normal" fill="#245" >- 0.5</text>
<circle cx="62.80" cy="653.60" r="8.50" fill="#fff" stroke="#9a9a9a" stroke-width="0.7" />
<text x="62.80" y="656.00" font-size="6.2" text-anchor="middle" font-weight="normal" fill="#111" >0</text>
<circle cx="85.60" cy="653.60" r="8.50" fill="#f9c9cd" stroke="#d88" stroke-width="0.7" />
<text x="85.60" y="655.50" font-size="4.8" text-anchor="middle" font-weight="normal" fill="#422" >+0.5</text>
<circle cx="107.20" cy="653.60" r="8.50" fill="#f0401e" stroke="#f0401e" stroke-width="0.7" />
<text x="107.20" y="656.00" font-size="6.2" text-anchor="middle" font-weight="normal" fill="#300" >1</text>
<line x1="337.00" y1="409.50" x2="313.50" y2="398.50" stroke="#62c462" stroke-width="0.7" />
<rect x="312.60" y="397.60" width="1.80" height="1.80" fill="#62c462" stroke="none" stroke-width="1" rx="0" />
<line x1="349.50" y1="408.50" x2="372.50" y2="394.00" stroke="#62c462" stroke-width="0.7" />
<rect x="371.60" y="393.10" width="1.80" height="1.80" fill="#62c462" stroke="none" stroke-width="1" rx="0" />
<line x1="336.50" y1="414.00" x2="287.50" y2="422.00" stroke="#5b9cc9" stroke-width="0.7" />
<polygon points="287.50,422.00 289.67,420.57 290.01,422.66" fill="#5b9cc9"/>
<line x1="339.50" y1="418.00" x2="325.00" y2="428.00" stroke="#5b9cc9" stroke-width="0.7" />
<polygon points="325.00,428.00 326.35,425.78 327.56,427.52" fill="#5b9cc9"/>
<line x1="345.50" y1="419.50" x2="350.50" y2="434.50" stroke="#5b9cc9" stroke-width="0.7" />
<polygon points="350.50,434.50 348.74,432.58 350.76,431.91" fill="#5b9cc9"/>
<line x1="348.50" y1="417.50" x2="377.00" y2="447.00" stroke="#5b9cc9" stroke-width="0.7" />
<polygon points="377.00,447.00 374.59,446.03 376.11,444.56" fill="#5b9cc9"/>
<line x1="283.50" y1="429.00" x2="315.50" y2="475.50" stroke="#5b9cc9" stroke-width="0.7" />
<polygon points="315.50,475.50 313.28,474.15 315.03,472.94" fill="#5b9cc9"/>
<line x1="319.80" y1="438.00" x2="319.80" y2="474.50" stroke="#5b9cc9" stroke-width="0.7" />
<polygon points="319.80,474.50 318.74,472.13 320.86,472.13" fill="#5b9cc9"/>
<line x1="349.50" y1="446.50" x2="323.50" y2="475.50" stroke="#5b9cc9" stroke-width="0.7" />
<polygon points="323.50,475.50 324.30,473.02 325.87,474.44" fill="#5b9cc9"/>
<line x1="375.00" y1="454.50" x2="326.00" y2="478.00" stroke="#5b9cc9" stroke-width="0.7" />
<polygon points="326.00,478.00 327.68,476.02 328.60,477.93" fill="#5b9cc9"/>
<line x1="285.50" y1="451.50" x2="314.00" y2="477.00" stroke="#62c462" stroke-width="0.7" />
<rect x="313.10" y="476.10" width="1.80" height="1.80" fill="#62c462" stroke="none" stroke-width="1" rx="0" />
<line x1="352.00" y1="471.50" x2="327.00" y2="480.50" stroke="#62c462" stroke-width="0.7" />
<rect x="326.10" y="479.60" width="1.80" height="1.80" fill="#62c462" stroke="none" stroke-width="1" rx="0" />
<rect x="286.30" y="450.60" width="1.80" height="1.80" fill="#62c462" stroke="none" stroke-width="1" rx="0" />
<rect x="350.50" y="470.60" width="1.80" height="1.80" fill="#62c462" stroke="none" stroke-width="1" rx="0" />
<rect x="313.50" y="397.60" width="1.80" height="1.80" fill="#62c462" stroke="none" stroke-width="1" rx="0" />
<rect x="371.50" y="393.50" width="1.80" height="1.80" fill="#62c462" stroke="none" stroke-width="1" rx="0" />
<line x1="315.50" y1="488.00" x2="298.00" y2="503.50" stroke="#5b9cc9" stroke-width="0.7" stroke-dasharray="1.4 1.4"/>
<polygon points="298.00,503.50 299.07,501.13 300.48,502.72" fill="#5b9cc9"/>
<line x1="323.50" y1="488.50" x2="337.00" y2="503.50" stroke="#5b9cc9" stroke-width="0.7" stroke-dasharray="1.4 1.4"/>
<polygon points="337.00,503.50 334.62,502.44 336.20,501.03" fill="#5b9cc9"/>
<line x1="274.00" y1="494.00" x2="280.00" y2="504.00" stroke="#5b9cc9" stroke-width="0.7" stroke-dasharray="1.4 1.4"/>
<polygon points="280.00,504.00 277.87,502.51 279.69,501.42" fill="#5b9cc9"/>
<line x1="205.00" y1="493.50" x2="218.00" y2="503.80" stroke="#5b9cc9" stroke-width="0.7" stroke-dasharray="1.4 1.4"/>
<polygon points="218.00,503.80 215.48,503.16 216.80,501.49" fill="#5b9cc9"/>
<line x1="228.00" y1="492.50" x2="225.70" y2="503.80" stroke="#5b9cc9" stroke-width="0.7" stroke-dasharray="1.4 1.4"/>
<polygon points="225.70,503.80 225.13,501.26 227.21,501.69" fill="#5b9cc9"/>
<line x1="399.50" y1="490.00" x2="403.00" y2="504.00" stroke="#5b9cc9" stroke-width="0.7" stroke-dasharray="1.4 1.4"/>
<polygon points="403.00,504.00 401.40,501.95 403.45,501.44" fill="#5b9cc9"/>
<line x1="425.50" y1="490.00" x2="415.50" y2="504.00" stroke="#5b9cc9" stroke-width="0.7" stroke-dasharray="1.4 1.4"/>
<polygon points="415.50,504.00 416.02,501.45 417.74,502.68" fill="#5b9cc9"/>
<line x1="148.00" y1="529.80" x2="150.70" y2="525.20" stroke="#5b9cc9" stroke-width="0.7" />
<polygon points="150.70,525.20 150.41,527.78 148.58,526.71" fill="#5b9cc9"/>
<line x1="165.00" y1="528.50" x2="160.00" y2="525.20" stroke="#5b9cc9" stroke-width="0.7" />
<polygon points="160.00,525.20 162.57,525.62 161.40,527.39" fill="#5b9cc9"/>
<line x1="218.50" y1="549.30" x2="175.50" y2="537.30" stroke="#5b9cc9" stroke-width="0.7" />
<polygon points="175.50,537.30 178.07,536.92 177.50,538.96" fill="#5b9cc9"/>
<line x1="225.30" y1="544.00" x2="225.30" y2="535.80" stroke="#e05555" stroke-width="0.7" stroke-dasharray="1.4 1.4"/>
<line x1="223.30" y1="535.80" x2="227.30" y2="535.80" stroke="#e05555" stroke-width="0.8" />
<line x1="203.00" y1="557.00" x2="216.30" y2="553.50" stroke="#e05555" stroke-width="0.7" />
<line x1="215.79" y1="551.57" x2="216.81" y2="555.43" stroke="#e05555" stroke-width="0.8" />
<line x1="231.80" y1="548.20" x2="301.00" y2="534.00" stroke="#5b9cc9" stroke-width="0.7" />
<polygon points="301.00,534.00 298.89,535.52 298.46,533.44" fill="#5b9cc9"/>
<line x1="327.50" y1="582.50" x2="234.50" y2="554.00" stroke="#5b9cc9" stroke-width="0.7" />
<polygon points="234.50,554.00 237.08,553.68 236.46,555.71" fill="#5b9cc9"/>
<line x1="233.50" y1="585.40" x2="327.00" y2="585.40" stroke="#ee8c8c" stroke-width="1.1" />
<line x1="233.50" y1="582.80" x2="233.50" y2="588.00" stroke="#e05555" stroke-width="0.9" />
<line x1="327.50" y1="588.00" x2="289.50" y2="603.30" stroke="#62c462" stroke-width="0.7" />
<rect x="288.60" y="602.40" width="1.80" height="1.80" fill="#62c462" stroke="none" stroke-width="1" rx="0" />
<line x1="309.50" y1="602.80" x2="289.50" y2="606.00" stroke="#5b9cc9" stroke-width="0.7" />
<polygon points="289.50,606.00 291.68,604.58 292.01,606.67" fill="#5b9cc9"/>
<line x1="276.00" y1="606.00" x2="265.80" y2="607.30" stroke="#e05555" stroke-width="0.7" />
<line x1="266.05" y1="609.28" x2="265.55" y2="605.32" stroke="#e05555" stroke-width="0.8" />
<line x1="288.00" y1="609.00" x2="320.30" y2="618.80" stroke="#e05555" stroke-width="0.7" />
<line x1="320.88" y1="616.89" x2="319.72" y2="620.71" stroke="#e05555" stroke-width="0.8" />
<line x1="331.50" y1="592.00" x2="328.00" y2="614.50" stroke="#e05555" stroke-width="0.7" />
<line x1="329.98" y1="614.81" x2="326.02" y2="614.19" stroke="#e05555" stroke-width="0.8" />
<line x1="325.50" y1="629.50" x2="325.50" y2="640.00" stroke="#e05555" stroke-width="0.7" stroke-dasharray="1.4 1.4"/>
<line x1="327.50" y1="640.00" x2="323.50" y2="640.00" stroke="#e05555" stroke-width="0.8" />
<path d="M332,623.5 C350,620 366,630 363,637 C361,641 355,642.5 351.5,643.3" fill="none" stroke="#5b9cc9" stroke-width="0.7" stroke-dasharray="1.4 1.4"/>
<polygon points="351.00,643.40 353.08,641.84 353.55,643.91" fill="#5b9cc9"/>
<line x1="339.00" y1="583.00" x2="406.50" y2="557.80" stroke="#5b9cc9" stroke-width="0.7" />
<polygon points="406.50,557.80 404.65,559.62 403.91,557.64" fill="#5b9cc9"/>
<line x1="339.00" y1="589.00" x2="390.00" y2="620.60" stroke="#555" stroke-width="0.7" />
<line x1="414.00" y1="602.00" x2="400.00" y2="617.80" stroke="#5b9cc9" stroke-width="0.7" />
<polygon points="400.00,617.80 400.78,615.32 402.37,616.73" fill="#5b9cc9"/>
<line x1="395.00" y1="631.00" x2="394.20" y2="643.60" stroke="#5b9cc9" stroke-width="0.7" stroke-dasharray="1.4 1.4"/>
<polygon points="394.20,643.60 393.29,641.16 395.41,641.30" fill="#5b9cc9"/>
<line x1="225.00" y1="558.20" x2="224.60" y2="578.00" stroke="#5b9cc9" stroke-width="0.7" />
<polygon points="224.60,578.00 223.59,575.61 225.71,575.65" fill="#5b9cc9"/>
<path d="M217.3,586.5 C204,584 202,569 212,566.5 C220,565 224,570 224,577.5" fill="none" stroke="#e05555" stroke-width="0.7" />
<line x1="221.80" y1="577.50" x2="226.20" y2="577.50" stroke="#e05555" stroke-width="0.8" />
<path d="M217.5,583.5 C209,580 208,571.5 214.5,570 C220,569.5 222,573 222.3,577" fill="none" stroke="#5b9cc9" stroke-width="0.7" />
<line x1="229.00" y1="591.00" x2="247.50" y2="604.00" stroke="#5b9cc9" stroke-width="0.7" />
<polygon points="247.50,604.00 244.95,603.50 246.17,601.77" fill="#5b9cc9"/>
<path d="M226,592.5 C228,600 236,606 246.8,609" fill="none" stroke="#5b9cc9" stroke-width="0.7" />
<polygon points="246.80,609.00 244.23,609.42 244.77,607.37" fill="#5b9cc9"/>
<path d="M247.5,602 C242,597 244,590.5 250.5,590.8 C255,591 256,595 255.6,600" fill="none" stroke="#5b9cc9" stroke-width="0.7" />
<polygon points="255.50,600.50 254.62,598.05 256.73,598.21" fill="#5b9cc9"/>
<line x1="254.50" y1="617.00" x2="254.30" y2="633.50" stroke="#5b9cc9" stroke-width="0.7" />
<line x1="291.50" y1="549.20" x2="301.30" y2="549.20" stroke="#e05555" stroke-width="0.7" />
<line x1="301.30" y1="547.20" x2="301.30" y2="551.20" stroke="#e05555" stroke-width="0.8" />
<line x1="311.00" y1="541.80" x2="330.00" y2="534.00" stroke="#5b9cc9" stroke-width="0.7" stroke-dasharray="1.4 1.4"/>
<polygon points="330.00,534.00 328.21,535.88 327.40,533.92" fill="#5b9cc9"/>
<line x1="333.70" y1="542.00" x2="338.00" y2="534.00" stroke="#5b9cc9" stroke-width="0.7" stroke-dasharray="1.4 1.4"/>
<polygon points="338.00,534.00 337.81,536.59 335.94,535.59" fill="#5b9cc9"/>
<line x1="356.00" y1="541.50" x2="352.00" y2="534.00" stroke="#5b9cc9" stroke-width="0.7" stroke-dasharray="1.4 1.4"/>
<polygon points="352.00,534.00 354.05,535.60 352.18,536.59" fill="#5b9cc9"/>
<line x1="378.00" y1="541.60" x2="362.00" y2="534.00" stroke="#5b9cc9" stroke-width="0.7" stroke-dasharray="1.4 1.4"/>
<polygon points="362.00,534.00 364.60,534.06 363.69,535.98" fill="#5b9cc9"/>
<line x1="413.40" y1="547.20" x2="413.20" y2="534.00" stroke="#5b9cc9" stroke-width="0.7" stroke-dasharray="1.4 1.4"/>
<polygon points="413.20,534.00 414.30,536.36 412.18,536.39" fill="#5b9cc9"/>
<line x1="553.00" y1="423.50" x2="532.30" y2="420.60" stroke="#5b9cc9" stroke-width="0.7" />
<polygon points="532.30,420.60 534.80,419.88 534.50,421.98" fill="#5b9cc9"/>
<line x1="555.00" y1="431.00" x2="541.30" y2="442.20" stroke="#5b9cc9" stroke-width="0.7" />
<polygon points="541.30,442.20 542.47,439.88 543.81,441.52" fill="#5b9cc9"/>
<line x1="527.00" y1="427.00" x2="532.00" y2="440.30" stroke="#62c462" stroke-width="0.7" />
<rect x="531.10" y="439.40" width="1.80" height="1.80" fill="#62c462" stroke="none" stroke-width="1" rx="0" />
<line x1="508.00" y1="441.50" x2="520.00" y2="426.00" stroke="#5b9cc9" stroke-width="0.7" />
<line x1="509.00" y1="455.00" x2="518.00" y2="464.30" stroke="#5b9cc9" stroke-width="0.7" />
<polygon points="518.00,464.30 515.59,463.33 517.11,461.86" fill="#5b9cc9"/>
<line x1="533.00" y1="453.00" x2="527.00" y2="463.00" stroke="#62c462" stroke-width="0.7" />
<line x1="547.30" y1="470.00" x2="532.00" y2="470.00" stroke="#e05555" stroke-width="0.7" />
<line x1="532.00" y1="472.00" x2="532.00" y2="468.00" stroke="#e05555" stroke-width="0.8" />
<line x1="528.00" y1="476.50" x2="533.00" y2="489.00" stroke="#5b9cc9" stroke-width="0.7" />
<line x1="511.00" y1="496.00" x2="529.50" y2="495.80" stroke="#5b9cc9" stroke-width="0.7" />
<polygon points="529.50,495.80 527.14,496.89 527.11,494.77" fill="#5b9cc9"/>
<line x1="533.00" y1="501.50" x2="522.00" y2="513.30" stroke="#5b9cc9" stroke-width="0.7" />
<line x1="518.50" y1="527.20" x2="519.60" y2="573.30" stroke="#62c462" stroke-width="0.7" />
<rect x="518.70" y="572.40" width="1.80" height="1.80" fill="#62c462" stroke="none" stroke-width="1" rx="0" />
<line x1="598.50" y1="466.50" x2="524.20" y2="574.30" stroke="#5b9cc9" stroke-width="0.7" />
<polygon points="524.20,574.30 524.67,571.74 526.42,572.95" fill="#5b9cc9"/>
<line x1="507.00" y1="559.00" x2="516.30" y2="574.20" stroke="#62c462" stroke-width="0.7" />
<rect x="515.40" y="573.30" width="1.80" height="1.80" fill="#62c462" stroke="none" stroke-width="1" rx="0" />
<line x1="503.00" y1="578.00" x2="513.60" y2="579.20" stroke="#62c462" stroke-width="0.7" />
<rect x="512.70" y="578.30" width="1.80" height="1.80" fill="#62c462" stroke="none" stroke-width="1" rx="0" />
<line x1="539.30" y1="578.50" x2="527.40" y2="579.40" stroke="#62c462" stroke-width="0.7" />
<rect x="526.50" y="578.50" width="1.80" height="1.80" fill="#62c462" stroke="none" stroke-width="1" rx="0" />
<line x1="498.00" y1="595.00" x2="497.00" y2="585.00" stroke="#555" stroke-width="0.7" />
<line x1="515.00" y1="586.00" x2="507.00" y2="595.60" stroke="#5b9cc9" stroke-width="0.7" />
<polygon points="507.00,595.60 507.71,593.10 509.33,594.45" fill="#5b9cc9"/>
<polygon points="515.00,586.00 514.29,588.50 512.67,587.15" fill="#5b9cc9"/>
<line x1="520.50" y1="587.00" x2="520.80" y2="607.50" stroke="#5b9cc9" stroke-width="0.7" />
<polygon points="520.80,607.50 519.71,605.14 521.83,605.11" fill="#5b9cc9"/>
<line x1="524.00" y1="586.00" x2="537.60" y2="601.60" stroke="#5b9cc9" stroke-width="0.7" />
<polygon points="537.60,601.60 535.24,600.51 536.84,599.11" fill="#5b9cc9"/>
<line x1="550.00" y1="606.00" x2="586.20" y2="584.50" stroke="#5b9cc9" stroke-width="0.7" />
<polygon points="586.20,584.50 584.70,586.62 583.62,584.80" fill="#5b9cc9"/>
<line x1="601.50" y1="437.00" x2="614.00" y2="443.20" stroke="#62c462" stroke-width="0.7" />
<rect x="613.10" y="442.30" width="1.80" height="1.80" fill="#62c462" stroke="none" stroke-width="1" rx="0" />
<line x1="617.50" y1="434.00" x2="619.50" y2="439.00" stroke="#62c462" stroke-width="0.7" />
<rect x="618.60" y="438.10" width="1.80" height="1.80" fill="#62c462" stroke="none" stroke-width="1" rx="0" />
<line x1="633.50" y1="438.00" x2="627.00" y2="442.50" stroke="#62c462" stroke-width="0.7" />
<rect x="626.10" y="441.60" width="1.80" height="1.80" fill="#62c462" stroke="none" stroke-width="1" rx="0" />
<line x1="635.00" y1="453.50" x2="626.50" y2="449.50" stroke="#62c462" stroke-width="0.7" />
<rect x="625.60" y="448.60" width="1.80" height="1.80" fill="#62c462" stroke="none" stroke-width="1" rx="0" />
<line x1="607.00" y1="455.00" x2="615.00" y2="450.00" stroke="#62c462" stroke-width="0.7" />
<rect x="614.10" y="449.10" width="1.80" height="1.80" fill="#62c462" stroke="none" stroke-width="1" rx="0" />
<line x1="615.70" y1="411.00" x2="616.30" y2="418.00" stroke="#5b9cc9" stroke-width="0.7" />
<line x1="591.00" y1="519.00" x2="600.00" y2="519.00" stroke="#5b9cc9" stroke-width="0.7" />
<polygon points="600.00,519.00 597.63,520.06 597.63,517.94" fill="#5b9cc9"/>
<line x1="608.00" y1="514.00" x2="618.30" y2="499.80" stroke="#5b9cc9" stroke-width="0.7" stroke-dasharray="1.4 1.4"/>
<polygon points="618.30,499.80 617.76,502.34 616.05,501.10" fill="#5b9cc9"/>
<line x1="653.00" y1="505.00" x2="640.50" y2="499.80" stroke="#5b9cc9" stroke-width="0.7" stroke-dasharray="1.4 1.4"/>
<polygon points="640.50,499.80 643.10,499.73 642.28,501.69" fill="#5b9cc9"/>
<line x1="604.00" y1="524.30" x2="595.00" y2="572.60" stroke="#e05555" stroke-width="0.7" />
<line x1="596.97" y1="572.97" x2="593.03" y2="572.23" stroke="#e05555" stroke-width="0.8" />
<line x1="613.00" y1="533.00" x2="608.20" y2="524.00" stroke="#62c462" stroke-width="0.7" />
<rect x="607.30" y="523.10" width="1.80" height="1.80" fill="#62c462" stroke="none" stroke-width="1" rx="0" />
<line x1="655.00" y1="528.00" x2="645.00" y2="519.30" stroke="#e05555" stroke-width="0.7" />
<line x1="643.69" y1="520.81" x2="646.31" y2="517.79" stroke="#e05555" stroke-width="0.8" />
<line x1="661.00" y1="524.50" x2="661.00" y2="515.80" stroke="#e05555" stroke-width="0.8" />
<line x1="624.50" y1="568.00" x2="599.20" y2="578.20" stroke="#62c462" stroke-width="0.7" />
<rect x="598.30" y="577.30" width="1.80" height="1.80" fill="#62c462" stroke="none" stroke-width="1" rx="0" />
<line x1="617.00" y1="586.50" x2="599.30" y2="582.00" stroke="#62c462" stroke-width="0.7" />
<rect x="598.40" y="581.10" width="1.80" height="1.80" fill="#62c462" stroke="none" stroke-width="1" rx="0" />
<line x1="609.00" y1="598.80" x2="596.50" y2="586.50" stroke="#62c462" stroke-width="0.7" />
<rect x="595.60" y="585.60" width="1.80" height="1.80" fill="#62c462" stroke="none" stroke-width="1" rx="0" />
<line x1="639.50" y1="569.50" x2="656.50" y2="581.00" stroke="#62c462" stroke-width="0.7" />
<rect x="655.60" y="580.10" width="1.80" height="1.80" fill="#62c462" stroke="none" stroke-width="1" rx="0" />
<line x1="632.20" y1="586.50" x2="656.20" y2="584.50" stroke="#62c462" stroke-width="0.7" />
<rect x="655.30" y="583.60" width="1.80" height="1.80" fill="#62c462" stroke="none" stroke-width="1" rx="0" />
<line x1="615.50" y1="603.50" x2="656.30" y2="587.00" stroke="#62c462" stroke-width="0.7" />
<rect x="655.40" y="586.10" width="1.80" height="1.80" fill="#62c462" stroke="none" stroke-width="1" rx="0" />
<line x1="634.00" y1="574.00" x2="645.30" y2="607.50" stroke="#62c462" stroke-width="0.7" />
<rect x="644.40" y="606.60" width="1.80" height="1.80" fill="#62c462" stroke="none" stroke-width="1" rx="0" />
<line x1="629.50" y1="593.00" x2="642.50" y2="609.00" stroke="#62c462" stroke-width="0.7" />
<rect x="641.60" y="608.10" width="1.80" height="1.80" fill="#62c462" stroke="none" stroke-width="1" rx="0" />
<line x1="616.00" y1="607.50" x2="640.80" y2="613.50" stroke="#62c462" stroke-width="0.7" />
<rect x="639.90" y="612.60" width="1.80" height="1.80" fill="#62c462" stroke="none" stroke-width="1" rx="0" />
<rect x="125.10" y="512.50" width="60.70" height="12.30" fill="#dde7f4" stroke="#8fa3bb" stroke-width="0.7" rx="0" />
<text x="155.45" y="517.75" font-size="4.5" text-anchor="middle" font-weight="bold" fill="#1a1a2a" >Dense-core vesicle</text>
<text x="155.45" y="522.85" font-size="4.5" text-anchor="middle" font-weight="bold" fill="#1a1a2a" >exocytosis</text>
<rect x="194.60" y="504.70" width="60.30" height="11.70" fill="#dde7f4" stroke="#8fa3bb" stroke-width="0.7" rx="0" />
<text x="224.75" y="512.15" font-size="4.5" text-anchor="middle" font-weight="bold" fill="#1a1a2a" >Vesicle_transport</text>
<rect x="256.50" y="504.70" width="60.00" height="11.70" fill="#dde7f4" stroke="#8fa3bb" stroke-width="0.7" rx="0" />
<text x="286.50" y="512.15" font-size="4.5" text-anchor="middle" font-weight="bold" fill="#1a1a2a" >Synaptic_plasticity</text>
<rect x="318.70" y="504.70" width="60.60" height="11.70" fill="#dde7f4" stroke="#8fa3bb" stroke-width="0.7" rx="0" />
<text x="349.00" y="509.65" font-size="4.5" text-anchor="middle" font-weight="bold" fill="#1a1a2a" >Postsynaptic density</text>
<text x="349.00" y="514.75" font-size="4.5" text-anchor="middle" font-weight="bold" fill="#1a1a2a" >assembly</text>
<rect x="381.50" y="504.70" width="60.50" height="11.70" fill="#dde7f4" stroke="#8fa3bb" stroke-width="0.7" rx="0" />
<text x="411.75" y="509.65" font-size="4.5" text-anchor="middle" font-weight="bold" fill="#1a1a2a" >Excitatory synaptic</text>
<text x="411.75" y="514.75" font-size="4.5" text-anchor="middle" font-weight="bold" fill="#1a1a2a" >transmission</text>
<rect x="194.60" y="522.10" width="60.90" height="11.40" fill="#dde7f4" stroke="#8fa3bb" stroke-width="0.7" rx="0" />
<text x="225.05" y="529.40" font-size="4.5" text-anchor="middle" font-weight="bold" fill="#1a1a2a" letter-spacing="-0.1" >Synaptic vesicle exocytosis</text>
<rect x="256.50" y="522.10" width="61.00" height="11.40" fill="#dde7f4" stroke="#8fa3bb" stroke-width="0.7" rx="0" />
<text x="287.00" y="526.90" font-size="4.5" text-anchor="middle" font-weight="bold" fill="#1a1a2a" >Actin cytoskeleton</text>
<text x="287.00" y="532.00" font-size="4.5" text-anchor="middle" font-weight="bold" fill="#1a1a2a" >reorganization</text>
<rect x="319.60" y="522.10" width="60.60" height="11.40" fill="#dde7f4" stroke="#8fa3bb" stroke-width="0.7" rx="0" />
<text x="349.90" y="529.40" font-size="4.5" text-anchor="middle" font-weight="bold" fill="#1a1a2a" >Endocytosis</text>
<rect x="382.20" y="522.10" width="60.60" height="11.40" fill="#dde7f4" stroke="#8fa3bb" stroke-width="0.7" rx="0" />
<text x="412.50" y="529.40" font-size="4.5" text-anchor="middle" font-weight="bold" fill="#1a1a2a" letter-spacing="-0.06" >Synaptic vesicle recycling</text>
<rect x="296.80" y="643.30" width="60.60" height="12.10" fill="#dde7f4" stroke="#8fa3bb" stroke-width="0.7" rx="0" />
<text x="327.10" y="648.45" font-size="4.5" text-anchor="middle" font-weight="bold" fill="#1a1a2a" >Neurofibrillary tangle</text>
<text x="327.10" y="653.55" font-size="4.5" text-anchor="middle" font-weight="bold" fill="#1a1a2a" >formation</text>
<rect x="363.80" y="643.70" width="59.80" height="11.70" fill="#dde7f4" stroke="#8fa3bb" stroke-width="0.7" rx="0" />
<text x="393.70" y="651.15" font-size="4.5" text-anchor="middle" font-weight="bold" fill="#1a1a2a" >Amyloid fibril formation</text>
<rect x="592.30" y="487.50" width="61.50" height="11.40" fill="#dde7f4" stroke="#8fa3bb" stroke-width="0.7" rx="0" />
<text x="623.05" y="492.30" font-size="4.5" text-anchor="middle" font-weight="bold" fill="#1a1a2a" >Chaperone-mediated</text>
<text x="623.05" y="497.40" font-size="4.5" text-anchor="middle" font-weight="bold" fill="#1a1a2a" >autophagy</text>
<polygon points="313.23,399.17 309.87,402.53 305.13,402.53 301.77,399.17 301.77,394.43 305.13,391.07 309.87,391.07 313.23,394.43" fill="#d6d6d6" stroke="#8e8e8e" stroke-width="0.75"/>
<text x="306.90" y="407.30" font-size="4.5" text-anchor="middle" font-weight="bold" fill="#111" >Scribble complex</text>
<text x="306.90" y="412.20" font-size="4.5" text-anchor="middle" font-weight="bold" fill="#111" >DLG3-LLGL1 variant</text>
<polygon points="384.73,394.37 381.37,397.73 376.63,397.73 373.27,394.37 373.27,389.63 376.63,386.27 381.37,386.27 384.73,389.63" fill="#d6d6d6" stroke="#8e8e8e" stroke-width="0.75"/>
<text x="378.50" y="402.60" font-size="4.5" text-anchor="middle" font-weight="bold" fill="#111" >Scribble complex</text>
<text x="378.50" y="407.50" font-size="4.5" text-anchor="middle" font-weight="bold" fill="#111" >DLG3-LLGL2 variant</text>
<polygon points="286.13,425.37 282.77,428.73 278.03,428.73 274.67,425.37 274.67,420.63 278.03,417.27 282.77,417.27 286.13,420.63" fill="#d6d6d6" stroke="#8e8e8e" stroke-width="0.75"/>
<text x="279.80" y="433.50" font-size="4.5" text-anchor="middle" font-weight="bold" fill="#111" >NMDA receptor_2A</text>
<polygon points="325.53,433.77 322.17,437.13 317.43,437.13 314.07,433.77 314.07,429.03 317.43,425.67 322.17,425.67 325.53,429.03" fill="#d6d6d6" stroke="#8e8e8e" stroke-width="0.75"/>
<text x="318.90" y="441.70" font-size="4.5" text-anchor="middle" font-weight="bold" fill="#111" >NMDA receptor_2B</text>
<polygon points="358.33,443.67 354.97,447.03 350.23,447.03 346.87,443.67 346.87,438.93 350.23,435.57 354.97,435.57 358.33,438.93" fill="#d6d6d6" stroke="#8e8e8e" stroke-width="0.75"/>
<text x="351.50" y="451.90" font-size="4.5" text-anchor="middle" font-weight="bold" fill="#111" >NMDA receptor_2C</text>
<polygon points="390.03,453.37 386.67,456.73 381.93,456.73 378.57,453.37 378.57,448.63 381.93,445.27 386.67,445.27 390.03,448.63" fill="#d6d6d6" stroke="#8e8e8e" stroke-width="0.75"/>
<text x="384.30" y="461.30" font-size="4.5" text-anchor="middle" font-weight="bold" fill="#111" >NMDA receptor_2D</text>
<polygon points="287.03,448.57 283.67,451.93 278.93,451.93 275.57,448.57 275.57,443.83 278.93,440.47 283.67,440.47 287.03,443.83" fill="#d6d6d6" stroke="#8e8e8e" stroke-width="0.75"/>
<text x="281.30" y="457.30" font-size="4.5" text-anchor="middle" font-weight="bold" fill="#111" >Scribble complex</text>
<text x="281.30" y="462.20" font-size="4.5" text-anchor="middle" font-weight="bold" fill="#111" >DLG4-LLGL1 variant</text>
<polygon points="363.83,471.77 360.47,475.13 355.73,475.13 352.37,471.77 352.37,467.03 355.73,463.67 360.47,463.67 363.83,467.03" fill="#d6d6d6" stroke="#8e8e8e" stroke-width="0.75"/>
<text x="357.40" y="480.40" font-size="4.5" text-anchor="middle" font-weight="bold" fill="#111" >Scribble complex</text>
<text x="357.40" y="485.30" font-size="4.5" text-anchor="middle" font-weight="bold" fill="#111" >DLG4-LLGL2 variant</text>
<polygon points="202.41,560.95 198.95,564.41 194.05,564.41 190.59,560.95 190.59,556.05 194.05,552.59 198.95,552.59 202.41,556.05" fill="#d6d6d6" stroke="#8e8e8e" stroke-width="0.75"/>
<text x="196.60" y="569.30" font-size="4.5" text-anchor="middle" font-weight="bold" fill="#111" >BHC complex</text>
<polygon points="288.22,608.31 284.81,611.72 279.99,611.72 276.58,608.31 276.58,603.49 279.99,600.08 284.81,600.08 288.22,603.49" fill="#d6d6d6" stroke="#8e8e8e" stroke-width="0.75"/>
<text x="282.80" y="616.80" font-size="4.5" text-anchor="middle" font-weight="bold" fill="#111" >CDK5/CDK5R1</text>
<polygon points="424.22,598.81 420.81,602.22 415.99,602.22 412.58,598.81 412.58,593.99 415.99,590.58 420.81,590.58 424.22,593.99" fill="#d6d6d6" stroke="#8e8e8e" stroke-width="0.75"/>
<text x="417.50" y="607.00" font-size="4.5" text-anchor="middle" font-weight="bold" fill="#111" >gamma-secretase</text>
<polygon points="541.41,448.99 537.89,452.51 532.91,452.51 529.39,448.99 529.39,444.01 532.91,440.49 537.89,440.49 541.41,444.01" fill="#d6d6d6" stroke="#8e8e8e" stroke-width="0.75"/>
<text x="534.70" y="456.90" font-size="4.5" text-anchor="middle" font-weight="bold" fill="#111" >SNARE_complex</text>
<polygon points="621.31,406.95 617.85,410.41 612.95,410.41 609.49,406.95 609.49,402.05 612.95,398.59 617.85,398.59 621.31,402.05" fill="#d6d6d6" stroke="#8e8e8e" stroke-width="0.75"/>
<text x="615.40" y="415.10" font-size="4.5" text-anchor="middle" font-weight="bold" fill="#111" >mTORC1</text>
<polygon points="626.03,447.87 622.67,451.23 617.93,451.23 614.57,447.87 614.57,443.13 617.93,439.77 622.67,439.77 626.03,443.13" fill="#d6d6d6" stroke="#8e8e8e" stroke-width="0.75"/>
<text x="619.80" y="456.20" font-size="4.5" text-anchor="middle" font-weight="bold" fill="#111" >V-ATPase</text>
<polygon points="667.01,533.59 663.49,537.11 658.51,537.11 654.99,533.59 654.99,528.61 658.51,525.09 663.49,525.09 667.01,528.61" fill="#d6d6d6" stroke="#8e8e8e" stroke-width="0.75"/>
<text x="660.60" y="541.00" font-size="4.5" text-anchor="middle" font-weight="bold" fill="#111" >Cullin 1-RBX1-Skp1</text>
<polygon points="623.71,539.45 620.25,542.91 615.35,542.91 611.89,539.45 611.89,534.55 615.35,531.09 620.25,531.09 623.71,534.55" fill="#d6d6d6" stroke="#8e8e8e" stroke-width="0.75"/>
<text x="617.60" y="547.60" font-size="4.5" text-anchor="middle" font-weight="bold" fill="#111" >PRP19-CDC5L</text>
<polygon points="525.91,583.05 522.45,586.51 517.55,586.51 514.09,583.05 514.09,578.15 517.55,574.69 522.45,574.69 525.91,578.15" fill="#d6d6d6" stroke="#8e8e8e" stroke-width="0.75"/>
<text x="519.40" y="591.20" font-size="4.5" text-anchor="middle" font-weight="bold" fill="#111" >AP-2 complex</text>
<polygon points="598.41,583.05 594.95,586.51 590.05,586.51 586.59,583.05 586.59,578.15 590.05,574.69 594.95,574.69 598.41,578.15" fill="#d6d6d6" stroke="#8e8e8e" stroke-width="0.75"/>
<text x="592.00" y="591.30" font-size="4.5" text-anchor="middle" font-weight="bold" fill="#111" >AP-2/clathrin vescicle</text>
<polygon points="668.81,586.15 665.35,589.61 660.45,589.61 656.99,586.15 656.99,581.25 660.45,577.79 665.35,577.79 668.81,581.25" fill="#d6d6d6" stroke="#8e8e8e" stroke-width="0.75"/>
<text x="661.60" y="594.60" font-size="4.5" text-anchor="middle" font-weight="bold" fill="#111" >AP-3/clathrin vescicle</text>
<polygon points="653.31,616.45 649.85,619.91 644.95,619.91 641.49,616.45 641.49,611.55 644.95,608.09 649.85,608.09 653.31,611.55" fill="#d6d6d6" stroke="#8e8e8e" stroke-width="0.75"/>
<text x="647.00" y="624.70" font-size="4.5" text-anchor="middle" font-weight="bold" fill="#111" >AP-1/clathrin vescicle</text>
<circle cx="343.40" cy="412.40" r="7.20" fill="#8fd6c2" stroke="none" stroke-width="1" />
<circle cx="343.40" cy="412.40" r="3.70" fill="#f07c7c" stroke="none" stroke-width="1" />
<text x="343.40" y="424.00" font-size="4.5" text-anchor="middle" font-weight="bold" fill="#111" >DLG3</text>
<circle cx="319.50" cy="482.00" r="7.20" fill="#8fd6c2" stroke="none" stroke-width="1" />
<circle cx="319.50" cy="482.00" r="3.20" fill="#f29a9a" stroke="none" stroke-width="1" />
<text x="319.40" y="493.70" font-size="4.5" text-anchor="middle" font-weight="bold" fill="#111" >DLG4</text>
<circle cx="274.00" cy="486.50" r="7.40" fill="#8fd6c2" stroke="none" stroke-width="1" />
<circle cx="274.00" cy="486.50" r="3.80" fill="#ea6262" stroke="none" stroke-width="1" />
<text x="274.00" y="498.20" font-size="4.5" text-anchor="middle" font-weight="bold" fill="#111" >PTPRD</text>
<circle cx="202.80" cy="487.00" r="6.10" fill="#f58ef5" stroke="none" stroke-width="1" />
<circle cx="202.80" cy="487.00" r="2.60" fill="#f6b4c8" stroke="none" stroke-width="1" />
<text x="202.80" y="497.80" font-size="4.5" text-anchor="middle" font-weight="bold" fill="#111" >ARF1</text>
<circle cx="397.00" cy="483.10" r="7.00" fill="#c792cc" stroke="none" stroke-width="1" />
<circle cx="397.00" cy="483.10" r="3.30" fill="#f5a8b8" stroke="none" stroke-width="1" />
<text x="397.00" y="498.30" font-size="7.6" text-anchor="middle" font-weight="bold" fill="#111" >GRM2</text>
<circle cx="428.10" cy="483.10" r="7.00" fill="#8fd6c2" stroke="none" stroke-width="1" />
<circle cx="428.10" cy="483.10" r="3.30" fill="#f08c8c" stroke="none" stroke-width="1" />
<text x="428.10" y="498.30" font-size="7.6" text-anchor="middle" font-weight="bold" fill="#111" >GRM3</text>
<circle cx="147.30" cy="535.70" r="6.10" fill="#f58ef5" stroke="none" stroke-width="1" />
<circle cx="147.30" cy="535.70" r="2.60" fill="#f6b4c8" stroke="none" stroke-width="1" />
<text x="147.30" y="546.80" font-size="4.5" text-anchor="middle" font-weight="bold" fill="#111" >RAB3C</text>
<circle cx="167.40" cy="535.40" r="7.30" fill="#f58ef5" stroke="none" stroke-width="1" />
<circle cx="167.40" cy="535.40" r="3.20" fill="#ee8c9c" stroke="none" stroke-width="1" />
<text x="167.40" y="546.80" font-size="4.5" text-anchor="middle" font-weight="bold" fill="#111" >RAB3A</text>
<circle cx="225.30" cy="550.90" r="7.20" fill="#f58ef5" stroke="none" stroke-width="1" />
<circle cx="225.30" cy="550.90" r="3.20" fill="#f098a8" stroke="none" stroke-width="1" />
<text x="225.30" y="563.00" font-size="4.5" text-anchor="middle" font-weight="bold" fill="#111" >SYN1</text>
<circle cx="223.90" cy="585.40" r="7.20" fill="#f58ef5" stroke="none" stroke-width="1" />
<circle cx="223.90" cy="585.40" r="3.30" fill="#ee8896" stroke="none" stroke-width="1" />
<text x="223.90" y="596.80" font-size="4.5" text-anchor="middle" font-weight="bold" fill="#111" >PAK1</text>
<circle cx="254.60" cy="609.00" r="7.80" fill="#8fd6c2" stroke="none" stroke-width="1" />
<circle cx="254.60" cy="609.00" r="4.50" fill="#e63c3c" stroke="none" stroke-width="1" />
<text x="254.60" y="621.90" font-size="4.5" text-anchor="middle" font-weight="bold" fill="#111" >MAP2K1</text>
<circle cx="254.20" cy="640.60" r="7.20" fill="#8fd6c2" stroke="none" stroke-width="1" />
<circle cx="254.20" cy="640.60" r="3.40" fill="#ee8080" stroke="none" stroke-width="1" />
<text x="254.20" y="653.00" font-size="4.5" text-anchor="middle" font-weight="bold" fill="#111" >GIT1</text>
<circle cx="283.60" cy="549.20" r="7.80" fill="#8fd6c2" stroke="none" stroke-width="1" />
<circle cx="283.60" cy="549.20" r="4.10" fill="#e85252" stroke="none" stroke-width="1" />
<text x="283.60" y="561.60" font-size="4.5" text-anchor="middle" font-weight="bold" fill="#111" >ROCK2</text>
<circle cx="311.50" cy="549.20" r="7.40" fill="#f58ef5" stroke="none" stroke-width="1" />
<circle cx="311.50" cy="549.20" r="3.80" fill="#ea6a78" stroke="none" stroke-width="1" />
<text x="311.50" y="561.50" font-size="4.5" text-anchor="middle" font-weight="bold" fill="#111" >SH3GL2</text>
<circle cx="333.70" cy="548.80" r="6.70" fill="#8fd6c2" stroke="none" stroke-width="1" />
<circle cx="333.70" cy="548.80" r="3.00" fill="#f29a9a" stroke="none" stroke-width="1" />
<text x="333.70" y="560.80" font-size="4.5" text-anchor="middle" font-weight="bold" fill="#111" >SH3GL1</text>
<circle cx="356.20" cy="549.20" r="7.80" fill="#8fd6c2" stroke="none" stroke-width="1" />
<circle cx="356.20" cy="549.20" r="4.20" fill="#e85a5a" stroke="none" stroke-width="1" />
<text x="356.20" y="561.50" font-size="4.5" text-anchor="middle" font-weight="bold" fill="#111" >SH3GLB2</text>
<circle cx="378.10" cy="549.20" r="7.60" fill="#f58ef5" stroke="none" stroke-width="1" />
<circle cx="378.10" cy="549.20" r="3.80" fill="#ec7484" stroke="none" stroke-width="1" />
<text x="378.10" y="561.50" font-size="4.5" text-anchor="middle" font-weight="bold" fill="#111" >SH3GL3</text>
<circle cx="413.40" cy="554.70" r="7.40" fill="#8fd6c2" stroke="none" stroke-width="1" />
<circle cx="413.40" cy="554.70" r="3.80" fill="#e95a5a" stroke="none" stroke-width="1" />
<text x="413.40" y="566.70" font-size="4.5" text-anchor="middle" font-weight="bold" fill="#111" >DNM1</text>
<circle cx="333.30" cy="585.60" r="6.50" fill="#c792cc" stroke="none" stroke-width="1" />
<circle cx="333.30" cy="585.60" r="2.90" fill="#f2a2b2" stroke="none" stroke-width="1" />
<text x="333.30" y="596.50" font-size="4.5" text-anchor="middle" font-weight="bold" fill="#111" >CDK5</text>
<circle cx="325.50" cy="622.80" r="6.70" fill="#f58ef5" stroke="none" stroke-width="1" />
<circle cx="325.50" cy="622.80" r="3.00" fill="#f2a0b0" stroke="none" stroke-width="1" />
<text x="325.50" y="634.00" font-size="4.5" text-anchor="middle" font-weight="bold" fill="#111" >MAPT</text>
<circle cx="524.30" cy="419.30" r="7.60" fill="#8fd6c2" stroke="none" stroke-width="1" />
<circle cx="524.30" cy="419.30" r="3.70" fill="#ea6666" stroke="none" stroke-width="1" />
<text x="524.30" y="431.20" font-size="4.5" text-anchor="middle" font-weight="bold" fill="#111" >STX1A</text>
<circle cx="560.80" cy="425.50" r="8.20" fill="#8fd6c2" stroke="none" stroke-width="1" />
<circle cx="560.80" cy="425.50" r="4.60" fill="#e84040" stroke="none" stroke-width="1" />
<text x="561.20" y="441.03" font-size="7.4" text-anchor="middle" font-weight="bold" fill="#111" >STXBP1</text>
<circle cx="503.90" cy="448.40" r="8.20" fill="#8fd6c2" stroke="none" stroke-width="1" />
<circle cx="503.90" cy="448.40" r="4.60" fill="#e84040" stroke="none" stroke-width="1" />
<text x="503.90" y="461.10" font-size="4.5" text-anchor="middle" font-weight="bold" fill="#111" >CADPS</text>
<circle cx="523.50" cy="469.90" r="7.40" fill="#c792cc" stroke="none" stroke-width="1" />
<circle cx="523.50" cy="469.90" r="3.10" fill="#f4a6b4" stroke="none" stroke-width="1" />
<text x="523.40" y="484.03" font-size="7.4" text-anchor="middle" font-weight="bold" fill="#111" >SNAP25</text>
<circle cx="554.80" cy="469.40" r="7.70" fill="#8fd6c2" stroke="none" stroke-width="1" />
<circle cx="554.80" cy="469.40" r="4.10" fill="#e84c4c" stroke="none" stroke-width="1" />
<text x="554.80" y="481.50" font-size="4.5" text-anchor="middle" font-weight="bold" fill="#111" >NSF</text>
<circle cx="502.70" cy="495.90" r="8.20" fill="#f58ef5" stroke="none" stroke-width="1" />
<circle cx="502.70" cy="495.90" r="4.30" fill="#ea6674" stroke="none" stroke-width="1" />
<text x="502.70" y="507.90" font-size="4.5" text-anchor="middle" font-weight="bold" fill="#111" >SNAP91</text>
<circle cx="537.00" cy="495.40" r="6.80" fill="#c792cc" stroke="none" stroke-width="1" />
<circle cx="537.00" cy="495.40" r="3.00" fill="#f4aebc" stroke="none" stroke-width="1" />
<text x="536.80" y="509.03" font-size="7.4" text-anchor="middle" font-weight="bold" fill="#111" >SYT1</text>
<circle cx="518.40" cy="519.70" r="7.40" fill="#8fd6c2" stroke="none" stroke-width="1" />
<circle cx="518.40" cy="519.70" r="3.50" fill="#f7f020" stroke="none" stroke-width="1" />
<text x="518.60" y="534.63" font-size="7.4" text-anchor="middle" font-weight="bold" fill="#111" >SV2A</text>
<circle cx="617.00" cy="426.20" r="8.00" fill="#f58ef5" stroke="none" stroke-width="1" />
<circle cx="617.00" cy="426.20" r="4.10" fill="#e86474" stroke="none" stroke-width="1" />
<text x="616.40" y="439.00" font-size="4.5" text-anchor="middle" font-weight="bold" fill="#111" >ATP6V1A</text>
<circle cx="640.20" cy="434.40" r="8.00" fill="#f58ef5" stroke="none" stroke-width="1" />
<circle cx="640.20" cy="434.40" r="4.00" fill="#ea6c7a" stroke="none" stroke-width="1" />
<text x="639.90" y="447.00" font-size="4.5" text-anchor="middle" font-weight="bold" fill="#111" >ATP6V1C1</text>
<circle cx="641.10" cy="457.00" r="7.50" fill="#f58ef5" stroke="none" stroke-width="1" />
<circle cx="641.10" cy="457.00" r="3.50" fill="#f08890" stroke="none" stroke-width="1" />
<text x="640.80" y="469.20" font-size="4.5" text-anchor="middle" font-weight="bold" fill="#111" >ATP6V1G2</text>
<circle cx="601.60" cy="459.60" r="7.60" fill="#8fd6c2" stroke="none" stroke-width="1" />
<circle cx="601.60" cy="459.60" r="4.00" fill="#e84c4c" stroke="none" stroke-width="1" />
<text x="601.70" y="472.00" font-size="4.5" text-anchor="middle" font-weight="bold" fill="#111" >ATP6V1H</text>
<circle cx="583.50" cy="519.00" r="8.00" fill="#8fd6c2" stroke="none" stroke-width="1" />
<circle cx="583.50" cy="519.00" r="4.40" fill="#e63232" stroke="none" stroke-width="1" />
<text x="583.50" y="531.80" font-size="4.5" text-anchor="middle" font-weight="bold" fill="#111" >DNAJC6</text>
<circle cx="636.90" cy="514.30" r="7.60" fill="#8fd6c2" stroke="none" stroke-width="1" />
<circle cx="636.90" cy="514.30" r="3.60" fill="#ea6464" stroke="none" stroke-width="1" />
<text x="636.90" y="525.90" font-size="4.5" text-anchor="middle" font-weight="bold" fill="#111" >DCTN1</text>
<circle cx="503.00" cy="553.00" r="7.00" fill="#8fd6c2" stroke="none" stroke-width="1" />
<circle cx="503.00" cy="553.00" r="3.40" fill="#ec7474" stroke="none" stroke-width="1" />
<text x="503.00" y="565.00" font-size="4.5" text-anchor="middle" font-weight="bold" fill="#111" >AP2A2</text>
<circle cx="495.00" cy="576.70" r="8.00" fill="#8fd6c2" stroke="none" stroke-width="1" />
<circle cx="495.00" cy="576.70" r="4.40" fill="#e84a4a" stroke="none" stroke-width="1" />
<text x="495.00" y="589.10" font-size="4.5" text-anchor="middle" font-weight="bold" fill="#111" >AP2M1</text>
<circle cx="547.00" cy="577.50" r="7.60" fill="#8fd6c2" stroke="none" stroke-width="1" />
<circle cx="547.00" cy="577.50" r="4.00" fill="#ea6262" stroke="none" stroke-width="1" />
<text x="547.00" y="589.60" font-size="4.5" text-anchor="middle" font-weight="bold" fill="#111" >AP2B1</text>
<circle cx="500.00" cy="603.10" r="8.00" fill="#8fd6c2" stroke="none" stroke-width="1" />
<circle cx="500.00" cy="603.10" r="4.40" fill="#e84242" stroke="none" stroke-width="1" />
<text x="500.00" y="615.30" font-size="4.5" text-anchor="middle" font-weight="bold" fill="#111" >AAK1</text>
<circle cx="521.00" cy="617.20" r="7.60" fill="#f58ef5" stroke="none" stroke-width="1" />
<circle cx="521.00" cy="617.20" r="3.60" fill="#ee8090" stroke="none" stroke-width="1" />
<text x="521.00" y="629.50" font-size="4.5" text-anchor="middle" font-weight="bold" fill="#111" >SYNJ1</text>
<circle cx="543.30" cy="609.10" r="7.60" fill="#f58ef5" stroke="none" stroke-width="1" />
<circle cx="543.30" cy="609.10" r="3.80" fill="#ec7482" stroke="none" stroke-width="1" />
<text x="543.30" y="621.10" font-size="4.5" text-anchor="middle" font-weight="bold" fill="#111" >EPN1</text>
<circle cx="632.30" cy="565.60" r="8.40" fill="#8fd6c2" stroke="none" stroke-width="1" />
<circle cx="632.30" cy="565.60" r="4.60" fill="#e63434" stroke="none" stroke-width="1" />
<text x="632.30" y="578.20" font-size="4.5" text-anchor="middle" font-weight="bold" fill="#111" >CLTB</text>
<circle cx="624.50" cy="587.30" r="7.60" fill="#8fd6c2" stroke="none" stroke-width="1" />
<circle cx="624.50" cy="587.30" r="4.00" fill="#ea6060" stroke="none" stroke-width="1" />
<text x="624.50" y="599.60" font-size="4.5" text-anchor="middle" font-weight="bold" fill="#111" >CLTC</text>
<circle cx="608.40" cy="606.30" r="7.60" fill="#8fd6c2" stroke="none" stroke-width="1" />
<circle cx="608.40" cy="606.30" r="4.00" fill="#ea6262" stroke="none" stroke-width="1" />
<text x="608.40" y="618.60" font-size="4.5" text-anchor="middle" font-weight="bold" fill="#111" >CLTA</text>
<circle cx="228.70" cy="486.40" r="3.95" fill="#fff" stroke="#f0502e" stroke-width="3.7" />
<text x="228.70" y="496.70" font-size="4.5" text-anchor="middle" font-weight="bold" fill="#111" >ARF5</text>
<circle cx="315.30" cy="601.30" r="4.10" fill="#fff" stroke="#3a3ae6" stroke-width="3.0" />
<text x="315.30" y="611.80" font-size="4.5" text-anchor="middle" font-weight="bold" fill="#111" >CAPN2</text>
<circle cx="395.00" cy="624.50" r="4.85" fill="#fff" stroke="#3a3ae6" stroke-width="3.5" />
<text x="395.00" y="635.80" font-size="4.5" text-anchor="middle" font-weight="bold" fill="#111" >APP</text>
<circle cx="660.00" cy="508.00" r="5.80" fill="#dcd6f2" stroke="#f0502e" stroke-width="3.6" />
<text x="660.00" y="519.90" font-size="4.5" text-anchor="middle" font-weight="bold" fill="#111" >LAMP2</text>
<circle cx="605.50" cy="519.00" r="3.75" fill="#fff" stroke="#f58ef5" stroke-width="3.3" />
<text x="605.00" y="528.80" font-size="4.5" text-anchor="middle" font-weight="bold" fill="#111" >HSPA8</text>
<circle cx="597.60" cy="435.60" r="4.40" fill="#f58ef5" stroke="none" stroke-width="1" />
<circle cx="597.60" cy="435.60" r="1.10" fill="#fde8fd" stroke="none" stroke-width="1" />
<text x="596.90" y="444.80" font-size="4.5" text-anchor="middle" font-weight="bold" fill="#111" >ATP6V1D</text>
<text x="521.90" y="406.00" font-size="15.2" text-anchor="middle" font-weight="normal" fill="#000" >Vesicle fusion</text>
<text x="468.40" y="474.73" font-size="12.2" text-anchor="middle" font-weight="normal" fill="#000" >Synapse</text>
<text x="588.60" y="646.66" font-size="15.1" text-anchor="middle" font-weight="normal" fill="#000" >Vesicles formation</text>
<text x="361.00" y="673.30" font-size="15.2" text-anchor="middle" font-weight="normal" fill="#000" >Tau &amp; amyloid</text>
</svg>
</body></html>
